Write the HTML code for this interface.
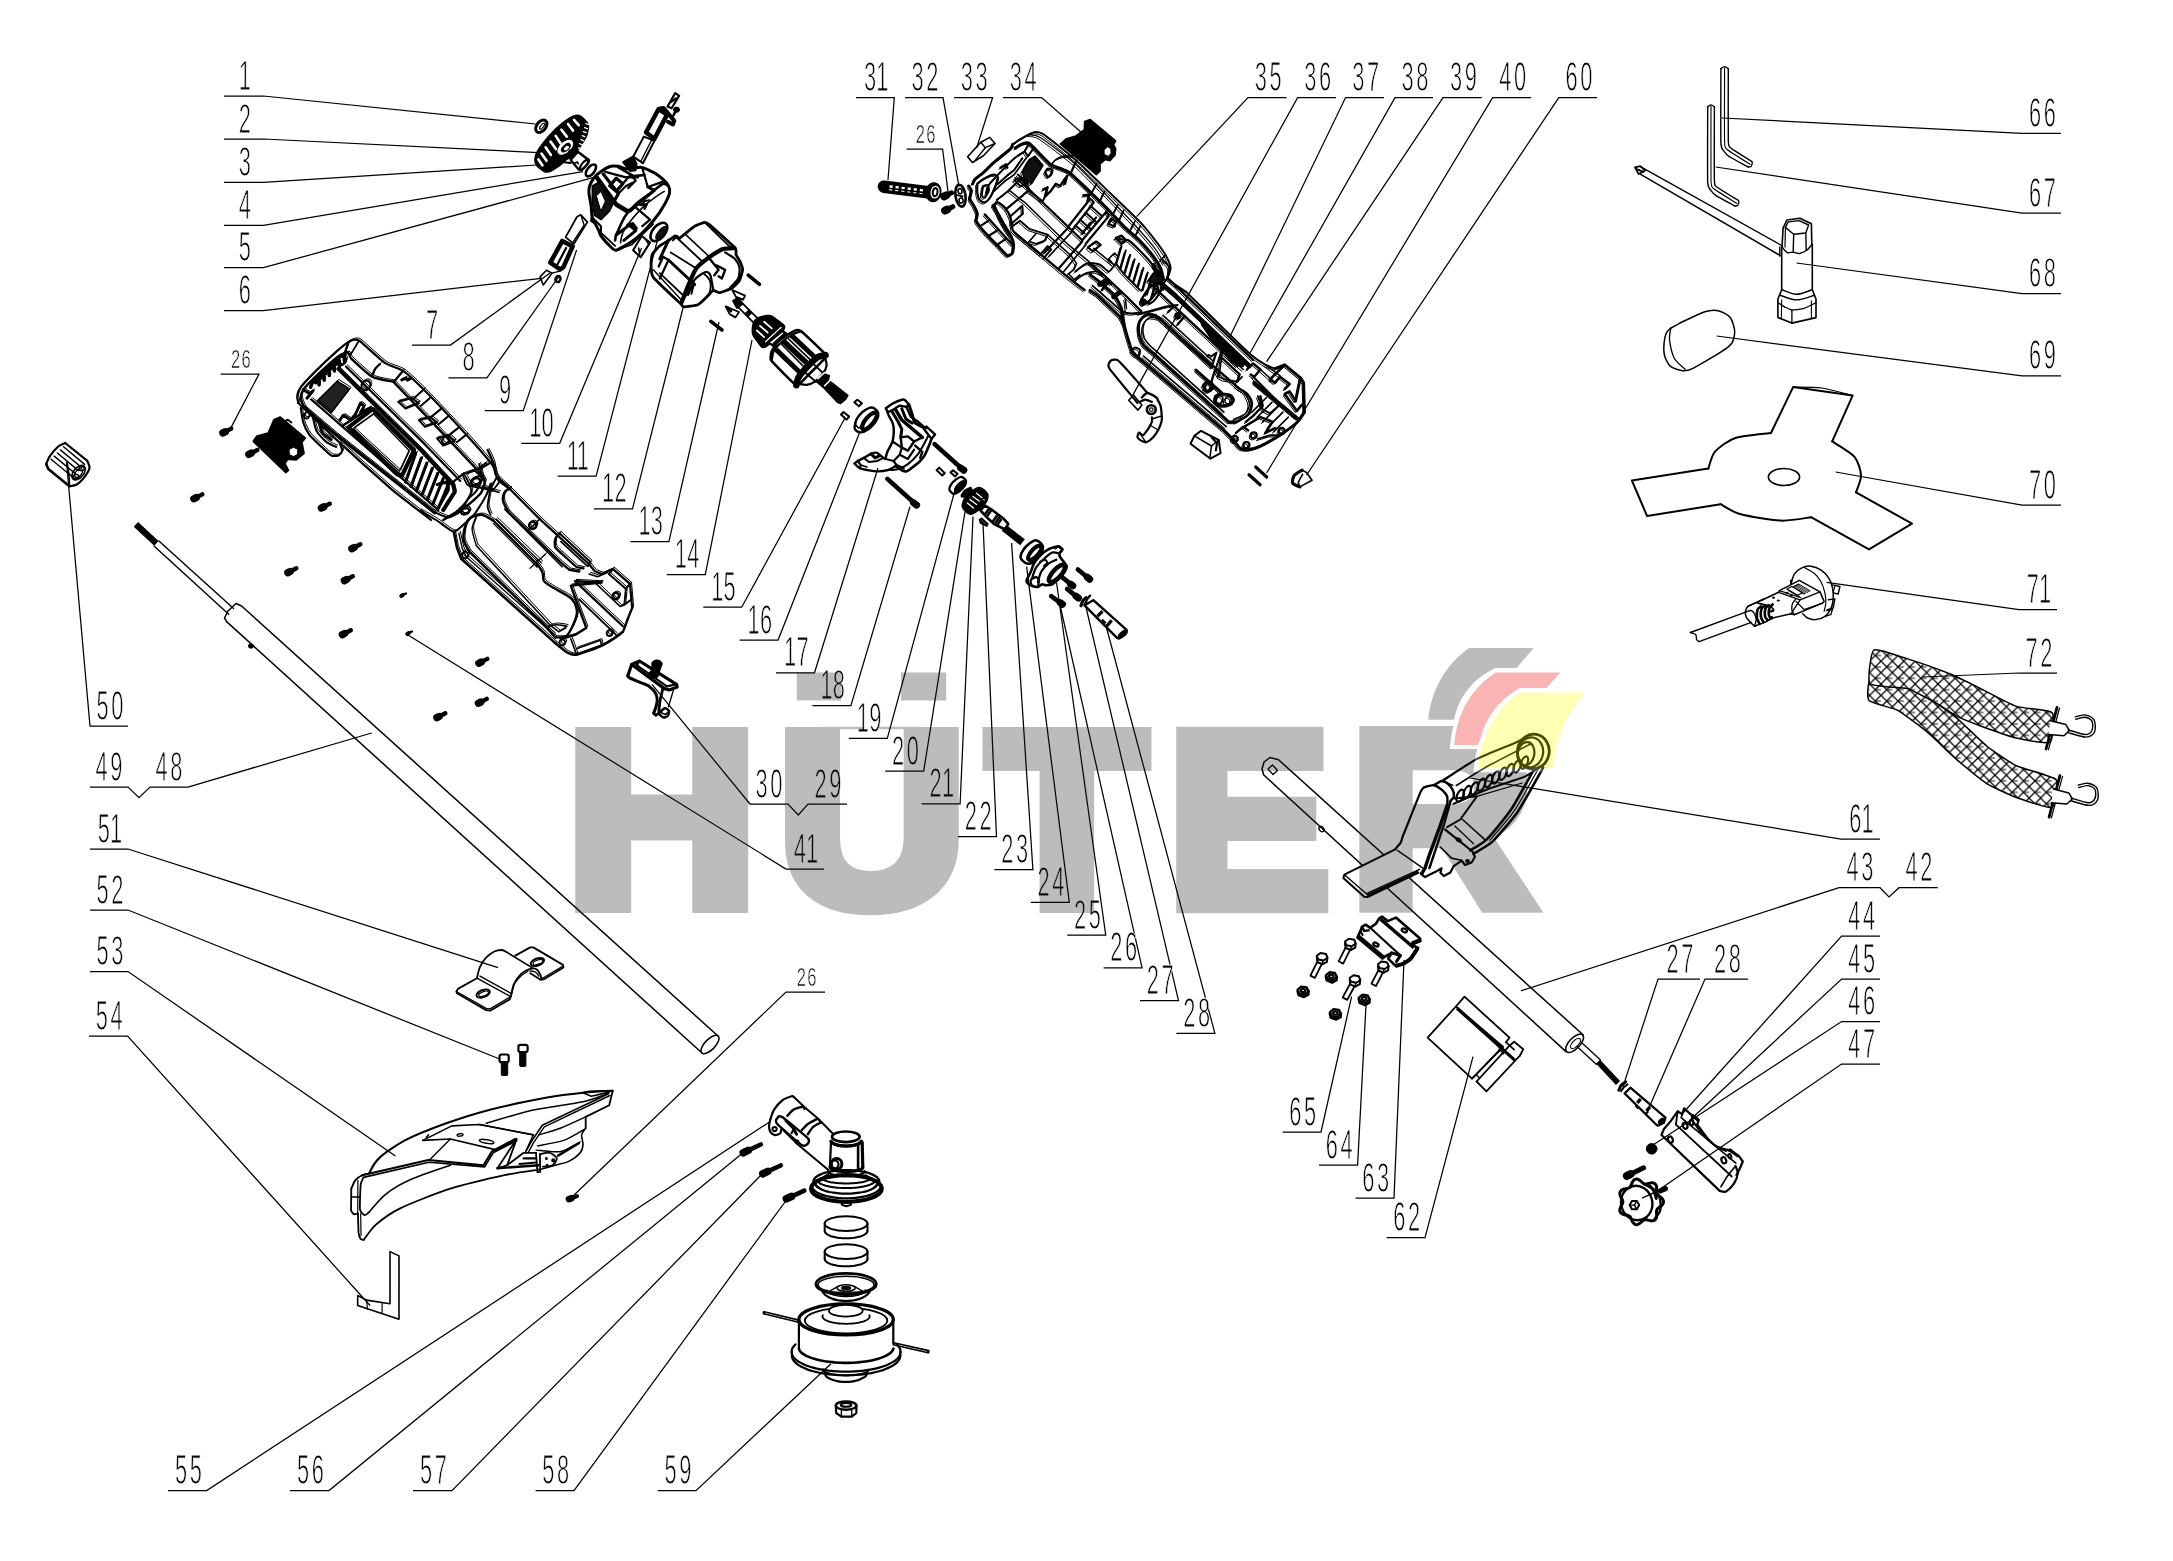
<!DOCTYPE html>
<html><head><meta charset="utf-8"><title>HUTER parts diagram</title>
<style>
html,body{margin:0;padding:0;background:#fff}
body{width:2173px;height:1561px;overflow:hidden}
svg{display:block}
</style></head><body>
<svg width="2173" height="1561" viewBox="0 0 2173 1561">
<rect width="2173" height="1561" fill="#fff"/>
<g id="parts" fill="none" stroke="#000" stroke-width="1.2" stroke-linejoin="round" stroke-linecap="round">
<!-- p_ashaft.svg -->
<path d="M135.9,524.3 L156.4,543.3" stroke-width="6.4" stroke-linecap="butt"/>
<path d="M154.0,545.9 L228.7,614.2" stroke-width="1.4"/>
<path d="M158.9,540.9 L233.6,608.6" stroke-width="1.4"/>
<path d="M718.0,1036.0 L241.6,606.0 L236.0,603.5 L228.0,611.0 L224.5,618.0 L226.6,621.6 L702.0,1053.0" stroke-width="1.5"/>
<ellipse cx="710.0" cy="1044.5" rx="11.8" ry="5.2" transform="rotate(-46 710.0 1044.5)" stroke-width="1.5"/>
<ellipse cx="251.0" cy="646.0" rx="2.6" ry="2.2" transform="rotate(0 251.0 646.0)" stroke-width="1" fill="#000"/>
<path d="M1583.3,1035.0 L1278.6,759.8 L1270.0,757.5 L1264.0,762.0 L1262.0,769.0 L1263.6,774.8 L1566.0,1051.6" stroke-width="1.5"/>
<ellipse cx="1574.6" cy="1043.3" rx="11.6" ry="5.4" transform="rotate(-46 1574.6 1043.3)" stroke-width="1.5"/>
<ellipse cx="1575.5" cy="1043.5" rx="6.5" ry="3.0" transform="rotate(-46 1575.5 1043.5)" stroke-width="1.2"/>
<path d="M1268.0,769.0 L1272.5,765.0 L1277.5,770.5 L1273.0,774.5Z" stroke-width="1.3"/>
<ellipse cx="1321.5" cy="829.0" rx="2.2" ry="3.0" transform="rotate(-40 1321.5 829.0)" stroke-width="1.3"/>
<path d="M1577.0,1046.5 L1596.5,1064.5" stroke-width="1.3"/>
<path d="M1581.0,1042.0 L1600.5,1060.0" stroke-width="1.3"/>
<path d="M1598.0,1061.6 L1618.0,1083.0" stroke-width="5.6" stroke-linecap="butt"/>
<path d="M225.1,431.8 L231.3,428.6" stroke-width="4.4" stroke-linecap="round"/><path d="M222.9,432.9 L225.1,431.8" stroke-width="7.4" stroke-linecap="round"/>
<path d="M251.1,453.2 L257.3,450.0" stroke-width="4.4" stroke-linecap="round"/><path d="M248.9,454.3 L251.1,453.2" stroke-width="7.4" stroke-linecap="round"/>
<path d="M196.1,497.6 L202.3,494.4" stroke-width="4.4" stroke-linecap="round"/><path d="M193.9,498.7 L196.1,497.6" stroke-width="7.4" stroke-linecap="round"/>
<path d="M323.6,506.9 L329.8,503.7" stroke-width="4.4" stroke-linecap="round"/><path d="M321.4,508.0 L323.6,506.9" stroke-width="7.4" stroke-linecap="round"/>
<path d="M354.1,547.5 L360.3,544.3" stroke-width="4.4" stroke-linecap="round"/><path d="M351.9,548.6 L354.1,547.5" stroke-width="7.4" stroke-linecap="round"/>
<path d="M290.1,571.5 L296.3,568.3" stroke-width="4.4" stroke-linecap="round"/><path d="M287.9,572.6 L290.1,571.5" stroke-width="7.4" stroke-linecap="round"/>
<path d="M346.6,579.5 L352.8,576.3" stroke-width="4.4" stroke-linecap="round"/><path d="M344.4,580.6 L346.6,579.5" stroke-width="7.4" stroke-linecap="round"/>
<path d="M344.6,633.5 L350.8,630.3" stroke-width="4.4" stroke-linecap="round"/><path d="M342.4,634.6 L344.6,633.5" stroke-width="7.4" stroke-linecap="round"/>
<path d="M481.1,662.1 L487.3,658.9" stroke-width="4.4" stroke-linecap="round"/><path d="M478.9,663.2 L481.1,662.1" stroke-width="7.4" stroke-linecap="round"/>
<path d="M480.6,702.1 L486.8,698.9" stroke-width="4.4" stroke-linecap="round"/><path d="M478.4,703.2 L480.6,702.1" stroke-width="7.4" stroke-linecap="round"/>
<path d="M439.1,716.5 L445.3,713.3" stroke-width="4.4" stroke-linecap="round"/><path d="M436.9,717.6 L439.1,716.5" stroke-width="7.4" stroke-linecap="round"/>
<path d="M402.5,595.2 L405.9,593.5" stroke-width="2.4200000000000004" stroke-linecap="round"/><path d="M401.3,595.9 L402.5,595.2" stroke-width="4.07" stroke-linecap="round"/>
<path d="M408.5,633.2 L411.9,631.5" stroke-width="2.4200000000000004" stroke-linecap="round"/><path d="M407.3,633.9 L408.5,633.2" stroke-width="4.07" stroke-linecap="round"/>
<path d="M571.2,1198.3 L577.1,1196.2" stroke-width="3.9600000000000004" stroke-linecap="round"/><path d="M569.0,1199.1 L571.2,1198.3" stroke-width="6.66" stroke-linecap="round"/>
<path d="M46.2,464.1 C46.6,463.2 48.3,458.4 49.7,456.4 C51.1,454.3 56.4,448.1 58.2,446.5 C60.0,444.9 64.4,443.4 65.2,443.0" stroke-width="2.2"/>
<path d="M65.2,443.0 L87.1,460.6" stroke-width="2.2"/>
<path d="M87.1,460.6 C87.4,461.5 89.7,465.6 89.5,467.6 C89.2,469.7 86.9,473.8 85.2,476.1 C83.5,478.3 78.9,483.2 76.8,484.5 C74.7,485.9 70.4,486.0 69.5,486.2" stroke-width="2.2"/>
<path d="M69.5,486.2 L48.3,469.0 L46.2,464.1" stroke-width="2.6"/>
<path d="M51.1,459.2 L72.3,476.8" stroke-width="1.4"/>
<path d="M54.2,456.1 L75.4,473.7" stroke-width="1.4"/>
<path d="M57.3,453.0 L78.5,470.6" stroke-width="1.4"/>
<path d="M60.4,449.9 L81.6,467.5" stroke-width="1.4"/>
<path d="M63.5,446.8 L84.7,464.4" stroke-width="1.4"/>
<path d="M66.9,462.0 C67.2,463.5 68.4,470.0 68.8,473.3 C69.1,476.5 69.4,484.5 69.5,486.2" stroke-width="1.6"/>
<ellipse cx="78.6" cy="472.6" rx="8.5" ry="5.0" transform="rotate(-50 78.6 472.6)" stroke-width="1.6"/>
<ellipse cx="78.6" cy="473.1" rx="5.0" ry="3.0" transform="rotate(-50 78.6 473.1)" stroke-width="1.4"/>
<ellipse cx="76.1" cy="476.6" rx="2.6" ry="2.2" transform="rotate(0 76.1 476.6)" stroke-width="1.3"/>
<ellipse cx="81.6" cy="468.6" rx="2.6" ry="2.2" transform="rotate(0 81.6 468.6)" stroke-width="1.3"/>
<path d="M253.3,440.9 L256.9,435.9 L268.1,433.1 L273.8,419.7 L280.1,416.9 L305.5,438.0 L302.0,442.3 L304.1,453.5 L296.3,459.9 L287.9,459.2 L285.0,463.4 L288.6,470.5 L285.8,472.6 L254.0,442.3Z" stroke-width="1.5" fill="#000"/>
<path d="M289.3,449.3 L293.5,447.2 L297.7,449.3 L297.7,454.3 L293.5,456.6 L289.6,454.7Z" stroke-width="1" fill="#fff"/>
<path d="M285.0,421.1 L287.9,419.7 L291.4,422.5" stroke-width="2"/>
<path d="M627.8,675.8 L631.7,664.5 L639.5,661.0 L676.5,684.3 L677.2,687.1 L669.4,690.0 L663.1,688.1" stroke-width="3.2"/>
<path d="M631.7,664.5 L663.4,687.9" stroke-width="3.2"/>
<path d="M636.6,665.2 L639.5,661.0" stroke-width="2.4"/>
<path d="M636.6,665.2 L666.9,686.4 L676.5,684.3" stroke-width="2.2"/>
<path d="M627.8,675.8 C628.0,676.1 628.2,677.2 629.6,677.9 C631.0,678.7 637.2,681.2 639.5,682.1 C641.8,683.1 647.4,685.1 649.3,686.4 C651.2,687.7 654.8,691.8 655.7,693.4 C656.6,695.1 657.2,698.8 657.2,700.5 C657.2,702.1 656.2,706.0 655.8,707.5 C655.4,709.0 653.9,712.5 653.7,713.2" stroke-width="3.0"/>
<path d="M653.7,713.2 L655.8,715.4 L658.6,713.3 L660.0,700.5 L662.9,688.5" stroke-width="2.8"/>
<path d="M658.6,713.3 C659.3,712.8 663.8,708.4 664.8,708.2 C665.9,708.0 668.8,710.3 669.1,711.0 C669.4,711.8 668.4,715.3 667.8,716.0 C667.2,716.6 664.2,717.7 663.4,717.5 C662.6,717.4 660.3,715.0 659.9,714.7" stroke-width="2.4"/>
<path d="M673.3,690.6 L668.4,706.8" stroke-width="1.4"/>
<path d="M660.6,712.5 L665.5,714.6 L668.4,711.7" stroke-width="1.6"/>
<path d="M652.1,663.1 C652.5,662.2 654.9,660.5 655.7,660.3 C656.4,660.1 659.3,660.7 659.9,661.0 C660.5,661.4 662.0,663.0 662.0,663.8 C662.0,664.7 660.3,668.2 659.9,669.5 C659.5,670.7 658.6,675.7 657.8,676.5 C657.0,677.4 653.0,678.2 652.1,677.9 C651.3,677.6 649.3,674.5 649.3,673.7 C649.3,672.8 651.9,670.5 652.1,669.5 C652.4,668.4 651.8,664.0 652.1,663.1Z" stroke-width="1.5" fill="#000"/>

<!-- p_bottom.svg -->
<path d="M369.0,1173.5 C370.3,1171.5 373.9,1162.8 378.7,1158.4 C383.4,1153.9 396.1,1145.0 404.9,1140.4 C413.7,1135.8 433.3,1128.0 444.9,1123.8 C456.5,1119.7 478.2,1112.8 491.9,1109.3 C505.5,1105.8 534.9,1099.8 547.1,1097.6 C559.2,1095.4 574.2,1093.7 583.0,1092.8 C591.7,1091.9 608.7,1091.0 612.7,1090.7" stroke-width="2.0"/>
<path d="M583.0,1092.8 L588.5,1091.4 L612.7,1090.7 L609.2,1105.2 L585.7,1116.9 L585.7,1128.0" stroke-width="1.8"/>
<path d="M585.7,1128.0 C585.2,1128.9 582.0,1132.7 581.6,1134.9 C581.2,1137.1 583.2,1142.2 583.0,1144.6 C582.8,1146.9 582.1,1150.6 580.2,1152.8 C578.4,1155.0 572.5,1159.5 569.2,1161.1 C565.9,1162.8 559.2,1164.2 555.4,1165.3 C551.5,1166.4 542.2,1168.8 540.2,1169.4" stroke-width="1.6"/>
<path d="M486.3,1123.2 C492.6,1121.4 520.4,1112.9 533.3,1110.0 C546.2,1107.2 573.0,1104.0 583.0,1101.8 C592.9,1099.5 604.5,1094.6 607.8,1093.5" stroke-width="1.6"/>
<path d="M583.0,1092.8 L591.3,1096.2 L609.2,1092.1" stroke-width="1.6"/>
<path d="M608.5,1093.7 L542.3,1125.2 L531.2,1141.8 L525.7,1151.5" stroke-width="1.6"/>
<path d="M609.9,1095.5 L544.3,1126.9 L533.3,1143.2 L528.5,1152.1" stroke-width="1.4"/>
<path d="M585.7,1116.9 C582.4,1118.4 567.2,1125.6 560.9,1128.0 C554.6,1130.4 541.7,1134.0 538.8,1134.9" stroke-width="1.4"/>
<path d="M584.4,1129.4 C581.6,1130.8 569.9,1138.2 563.7,1140.4 C557.4,1142.6 540.9,1145.2 537.4,1145.9" stroke-width="1.4"/>
<path d="M580.2,1141.8 C577.6,1143.1 566.8,1150.4 560.9,1151.5 C555.0,1152.6 539.4,1150.3 536.0,1150.1" stroke-width="1.4"/>
<path d="M578.8,1143.2 L558.1,1155.6" stroke-width="2.4" stroke-linecap="round"/>
<path d="M362.1,1175.2 L428.4,1160.0 L483.6,1165.3 L491.9,1151.5 L515.3,1139.0" stroke-width="2.2"/>
<path d="M363.5,1177.4 L429.0,1162.2 L484.7,1166.9 L493.2,1152.8 L516.7,1140.7" stroke-width="1.6"/>
<path d="M422.8,1140.4 L451.8,1125.9 L479.4,1124.5 L533.3,1134.9" stroke-width="1.6"/>
<path d="M422.8,1140.4 L450.4,1139.0 L497.4,1150.1 L516.0,1139.0" stroke-width="1.6"/>
<path d="M450.4,1139.0 L429.7,1159.7" stroke-width="1.4"/>
<path d="M428.4,1134.9 L426.3,1137.6" stroke-width="1.6"/>
<path d="M479.4,1124.5 L533.3,1134.9 L526.4,1150.1" stroke-width="1.4"/>
<ellipse cx="460.1" cy="1134.9" rx="3.0" ry="1.2" transform="rotate(-8 460.1 1134.9)" stroke-width="1.4"/>
<ellipse cx="486.6" cy="1141.5" rx="7.2" ry="1.8" transform="rotate(10 486.6 1141.5)" stroke-width="1.6"/>
<path d="M497.4,1168.3 L516.7,1139.0 L507.1,1165.3 L497.4,1168.3" stroke-width="1.8"/>
<path d="M497.4,1168.3 L538.8,1165.3" stroke-width="2.4"/>
<path d="M507.1,1165.3 L523.6,1152.8 L536.0,1152.8" stroke-width="1.8"/>
<path d="M536.0,1152.8 L537.4,1172.2 L540.2,1171.9 L539.9,1154.2" stroke-width="1.8"/>
<path d="M539.9,1154.2 C541.2,1154.0 547.6,1152.3 549.8,1152.8 C552.1,1153.4 556.4,1156.7 556.8,1158.4 C557.1,1160.0 554.5,1164.2 552.6,1165.3 C550.8,1166.4 544.2,1166.5 542.9,1166.6" stroke-width="1.8"/>
<ellipse cx="553.3" cy="1160.4" rx="1.1" ry="1.1" transform="rotate(0 553.3 1160.4)" stroke-width="2" fill="#000"/>
<ellipse cx="546.4" cy="1158.4" rx="0.7" ry="0.7" transform="rotate(0 546.4 1158.4)" stroke-width="1.6" fill="#000"/>
<ellipse cx="547.1" cy="1165.3" rx="0.7" ry="0.7" transform="rotate(0 547.1 1165.3)" stroke-width="1.6" fill="#000"/>
<path d="M523.6,1158.4 L536.0,1158.4" stroke-width="2.2"/>
<path d="M519.5,1163.9 L536.0,1162.5" stroke-width="2.0"/>
<path d="M369.0,1173.5 C368.1,1173.8 363.9,1174.3 362.1,1175.2 C360.2,1176.1 356.6,1178.6 355.2,1180.4 C353.8,1182.3 351.8,1187.6 351.3,1188.7" stroke-width="1.8"/>
<path d="M351.3,1188.7 L351.0,1210.8 L353.8,1214.4 L357.9,1213.6" stroke-width="1.8"/>
<path d="M363.5,1177.4 C363.2,1178.1 361.1,1181.4 360.7,1184.6 C360.4,1187.8 359.6,1206.4 360.0,1209.4 C360.4,1212.5 364.0,1215.0 364.9,1215.2 C365.7,1215.5 368.6,1212.5 369.0,1212.2" stroke-width="1.8"/>
<path d="M351.3,1197.0 L360.0,1197.0" stroke-width="1.4"/>
<path d="M357.9,1180.4 L357.7,1213.6" stroke-width="1.2"/>
<path d="M357.9,1213.6 C358.0,1215.5 358.4,1230.4 358.6,1232.9 C358.9,1235.5 360.2,1238.4 360.7,1239.1 C361.2,1239.8 363.4,1239.7 363.7,1239.8" stroke-width="1.8"/>
<path d="M360.7,1213.6 L361.0,1235.7" stroke-width="1.2"/>
<path d="M369.0,1212.2 C371.2,1209.8 379.9,1198.7 385.6,1194.3 C391.3,1189.8 403.1,1182.9 411.8,1179.1 C420.4,1175.2 445.3,1167.1 450.4,1165.3" stroke-width="1.6"/>
<path d="M363.7,1239.8 C365.4,1237.8 371.0,1228.9 375.9,1224.6 C380.8,1220.4 390.8,1212.8 400.7,1208.1 C410.7,1203.3 436.5,1193.1 450.4,1188.7 C464.4,1184.3 493.7,1177.5 505.7,1174.9 C517.6,1172.3 535.6,1170.1 540.2,1169.4" stroke-width="1.8"/>
<path d="M369.0,1173.5 C369.5,1172.4 371.7,1167.4 373.1,1165.3 C374.6,1163.1 379.1,1158.7 380.0,1157.7" stroke-width="1.4"/>
<path d="M476.9,978.2 L457.9,988.9 L456.4,991.5 L456.9,993.3 L486.1,1010.2 L490.2,1010.7 L509.7,999.4 L510.7,996.6" stroke-width="1.8"/>
<path d="M456.4,991.5 L486.1,1008.4 L490.2,1008.9 L510.7,996.6" stroke-width="1.4"/>
<path d="M476.9,978.2 C477.3,976.7 478.7,969.6 480.0,966.9 C481.2,964.2 484.2,959.7 486.1,957.7 C488.0,955.6 492.3,952.6 494.3,951.5 C496.4,950.5 500.0,950.0 501.5,950.0 C503.0,950.0 505.1,951.3 505.6,951.5" stroke-width="1.8"/>
<path d="M505.6,951.5 L532.8,968.1" stroke-width="1.6"/>
<path d="M510.7,996.6 C511.1,995.0 512.6,987.2 513.8,984.3 C515.0,981.5 518.2,977.0 520.0,975.1 C521.7,973.2 525.3,970.9 527.1,970.0 C528.9,969.1 531.9,968.4 533.3,968.4 C534.6,968.4 536.4,969.1 537.4,970.0 C538.3,970.9 539.9,973.9 540.5,975.1 C541.0,976.3 541.3,978.7 541.5,979.2" stroke-width="1.8"/>
<path d="M511.8,993.6 C512.2,992.2 513.6,985.6 514.8,983.3 C516.1,981.0 519.2,977.8 521.0,976.1 C522.8,974.5 527.2,971.7 528.2,971.0" stroke-width="1.2"/>
<path d="M530.2,971.0 C530.9,971.1 534.2,971.3 535.3,972.0 C536.5,972.7 538.4,975.6 538.9,976.1" stroke-width="1.4"/>
<path d="M515.3,955.6 L530.2,947.4 L533.3,947.4 L563.0,964.9 L563.5,967.4 L543.5,979.4 L541.0,979.9 L530.2,973.3" stroke-width="1.8"/>
<path d="M563.0,966.1 L543.0,978.0 L541.0,978.2" stroke-width="1.3"/>
<path d="M480.0,976.1 L511.8,993.8" stroke-width="1.4"/>
<path d="M476.9,978.2 L510.7,996.6" stroke-width="1.4"/>
<ellipse cx="483.1" cy="993.6" rx="7.0" ry="3.5" transform="rotate(-20 483.1 993.6)" stroke-width="2"/>
<ellipse cx="483.6" cy="993.8" rx="5.1" ry="2.1" transform="rotate(-20 483.6 993.8)" stroke-width="1.2"/>
<ellipse cx="537.4" cy="962.0" rx="7.0" ry="3.5" transform="rotate(-20 537.4 962.0)" stroke-width="2"/>
<ellipse cx="537.9" cy="962.2" rx="5.1" ry="2.1" transform="rotate(-20 537.9 962.2)" stroke-width="1.2"/>
<rect x="499.5" y="1054.5" width="9.2" height="7.7" rx="2" stroke-width="2.2"/>
<rect x="501.3" y="1062.2" width="6.4" height="13.3" rx="1" fill="#000" stroke-width="1"/>
<rect x="518.4" y="1044.8" width="9.2" height="7.2" rx="2" stroke-width="2.2"/>
<rect x="519.7" y="1052.0" width="6.2" height="14.4" rx="1" fill="#000" stroke-width="1"/>
<path d="M390.0,1251.6 L399.0,1255.9 L399.0,1319.2 L357.7,1305.5 L357.7,1295.5 L366.6,1300.1 L390.0,1303.7Z" stroke-width="1.6"/>
<path d="M366.6,1300.1 L367.4,1309.1" stroke-width="1.2"/>
<path d="M382.1,1302.7 L382.1,1313.4" stroke-width="1.2"/>
<path d="M770.5,1118.8 C771.0,1117.6 772.5,1112.1 774.1,1109.6 C775.7,1107.1 780.0,1102.2 782.3,1100.4 C784.6,1098.6 790.0,1096.8 791.5,1096.3 C793.0,1095.8 793.3,1096.7 793.6,1096.8" stroke-width="2.2"/>
<path d="M793.6,1096.8 L803.8,1106.5 L818.2,1118.8 L832.5,1133.2" stroke-width="2.0"/>
<path d="M770.5,1118.8 C770.3,1119.8 769.0,1124.2 769.0,1126.0 C769.0,1127.8 769.7,1130.9 770.5,1132.2 C771.3,1133.4 773.8,1135.1 775.1,1135.2 C776.4,1135.4 779.4,1134.0 780.2,1133.2 C781.1,1132.4 781.1,1129.6 781.3,1129.1" stroke-width="2.2"/>
<path d="M783.3,1130.1 L796.6,1143.4 L828.4,1170.1" stroke-width="2.0"/>
<path d="M787.4,1115.8 C788.2,1114.9 791.4,1110.8 793.6,1109.6 C795.7,1108.4 802.0,1106.9 803.3,1106.5" stroke-width="2.4"/>
<path d="M801.8,1130.1 C802.6,1129.3 805.8,1125.5 807.9,1124.0 C810.0,1122.5 816.3,1119.5 817.6,1118.8" stroke-width="2.4"/>
<path d="M807.9,1134.2 C808.6,1133.2 811.3,1128.6 813.0,1127.0 C814.8,1125.5 820.1,1123.0 821.2,1122.4" stroke-width="2.4"/>
<path d="M803.3,1106.5 L804.3,1109.1" stroke-width="2"/>
<path d="M817.6,1118.8 L821.2,1122.4" stroke-width="2"/>
<path d="M776.1,1119.9 C776.3,1119.2 778.6,1116.4 779.2,1116.3 C779.8,1116.1 780.9,1116.0 783.3,1117.8 C785.7,1119.6 805.8,1136.2 807.9,1138.3 C810.0,1140.4 808.6,1142.3 808.4,1142.9 C808.2,1143.5 806.0,1145.4 805.3,1145.5 C804.7,1145.6 803.1,1146.3 800.7,1144.5 C798.4,1142.7 779.2,1126.0 777.2,1124.0 C775.1,1121.9 776.0,1120.5 776.1,1119.9Z" stroke-width="2.4"/>
<path d="M785.4,1120.9 L793.6,1129.1 L791.5,1133.2" stroke-width="2"/>
<path d="M793.6,1129.1 L796.6,1134.2" stroke-width="3"/>
<ellipse cx="774.6" cy="1129.1" rx="2.1" ry="2.1" transform="rotate(0 774.6 1129.1)" stroke-width="2"/>
<ellipse cx="797.1" cy="1141.9" rx="1.6" ry="1.6" transform="rotate(0 797.1 1141.9)" stroke-width="1.6"/>
<ellipse cx="845.8" cy="1136.8" rx="13.8" ry="5.3" transform="rotate(0 845.8 1136.8)" stroke-width="2.6"/>
<path d="M861.3,1141.3 C861.2,1141.4 861.0,1141.8 860.9,1142.0 C860.7,1142.2 860.5,1142.4 860.3,1142.6 C860.0,1142.8 859.8,1143.0 859.5,1143.2 C859.2,1143.4 858.8,1143.5 858.5,1143.7 C858.1,1143.9 857.7,1144.1 857.3,1144.2 C856.9,1144.4 856.5,1144.5 856.0,1144.7 C855.6,1144.8 855.1,1144.9 854.6,1145.1 C854.1,1145.2 853.6,1145.3 853.0,1145.4 C852.5,1145.5 852.0,1145.6 851.4,1145.7 C850.8,1145.7 850.3,1145.8 849.7,1145.8 C849.1,1145.9 848.5,1145.9 847.9,1146.0 C847.3,1146.0 846.7,1146.0 846.1,1146.0 C845.6,1146.0 845.0,1146.0 844.4,1146.0 C843.8,1145.9 843.2,1145.9 842.6,1145.8 C842.0,1145.8 841.4,1145.7 840.9,1145.7 C840.3,1145.6 839.8,1145.5 839.2,1145.4 C838.7,1145.3 838.2,1145.2 837.7,1145.1 C837.2,1144.9 836.7,1144.8 836.3,1144.7 C835.8,1144.5 835.4,1144.4 835.0,1144.2 C834.6,1144.1 834.2,1143.9 833.8,1143.7 C833.5,1143.5 833.1,1143.4 832.8,1143.2 C832.5,1143.0 832.3,1142.8 832.0,1142.6 C831.8,1142.4 831.6,1142.2 831.4,1142.0 C831.2,1141.8 831.1,1141.4 831.0,1141.3" stroke-width="3.4"/>
<path d="M831.0,1142.4 L829.9,1167.0" stroke-width="2.2"/>
<path d="M862.2,1142.4 L862.8,1168.0" stroke-width="3.2"/>
<path d="M858.1,1145.5 L858.1,1169.1" stroke-width="2.6"/>
<path d="M862.8,1167.0 C862.7,1167.1 862.7,1167.4 862.6,1167.6 C862.5,1167.8 862.4,1168.0 862.2,1168.2 C862.0,1168.4 861.8,1168.6 861.5,1168.8 C861.2,1169.0 860.9,1169.1 860.6,1169.3 C860.2,1169.5 859.8,1169.7 859.4,1169.8 C858.9,1170.0 858.5,1170.1 857.9,1170.3 C857.4,1170.4 856.9,1170.5 856.3,1170.7 C855.8,1170.8 855.2,1170.9 854.6,1171.0 C853.9,1171.1 853.3,1171.2 852.6,1171.3 C852.0,1171.3 851.3,1171.4 850.6,1171.5 C849.9,1171.5 849.2,1171.6 848.5,1171.6 C847.8,1171.6 847.1,1171.6 846.4,1171.6 C845.6,1171.6 844.9,1171.6 844.2,1171.6 C843.5,1171.6 842.8,1171.5 842.1,1171.5 C841.4,1171.4 840.7,1171.3 840.1,1171.3 C839.4,1171.2 838.8,1171.1 838.1,1171.0 C837.5,1170.9 836.9,1170.8 836.4,1170.7 C835.8,1170.5 835.3,1170.4 834.8,1170.3 C834.2,1170.1 833.8,1170.0 833.3,1169.8 C832.9,1169.7 832.5,1169.5 832.1,1169.3 C831.8,1169.1 831.5,1169.0 831.2,1168.8 C830.9,1168.6 830.7,1168.4 830.5,1168.2 C830.3,1168.0 830.2,1167.8 830.1,1167.6 C830.0,1167.4 830.0,1167.1 829.9,1167.0" stroke-width="3"/>
<path d="M864.8,1171.1 C864.8,1171.2 864.7,1171.6 864.6,1171.8 C864.5,1172.0 864.4,1172.2 864.2,1172.4 C864.0,1172.7 863.7,1172.9 863.4,1173.1 C863.1,1173.3 862.7,1173.5 862.3,1173.7 C861.9,1173.9 861.5,1174.1 861.0,1174.2 C860.5,1174.4 860.0,1174.6 859.4,1174.7 C858.8,1174.9 858.2,1175.0 857.6,1175.2 C856.9,1175.3 856.3,1175.4 855.6,1175.5 C854.9,1175.7 854.2,1175.8 853.4,1175.8 C852.7,1175.9 851.9,1176.0 851.1,1176.1 C850.4,1176.1 849.6,1176.2 848.8,1176.2 C848.0,1176.2 847.2,1176.2 846.4,1176.2 C845.5,1176.2 844.7,1176.2 843.9,1176.2 C843.1,1176.2 842.4,1176.1 841.6,1176.1 C840.8,1176.0 840.0,1175.9 839.3,1175.8 C838.5,1175.8 837.8,1175.7 837.1,1175.5 C836.4,1175.4 835.8,1175.3 835.1,1175.2 C834.5,1175.0 833.9,1174.9 833.3,1174.7 C832.7,1174.6 832.2,1174.4 831.7,1174.2 C831.2,1174.1 830.8,1173.9 830.4,1173.7 C830.0,1173.5 829.6,1173.3 829.3,1173.1 C829.0,1172.9 828.7,1172.7 828.5,1172.4 C828.3,1172.2 828.2,1172.0 828.1,1171.8 C828.0,1171.6 827.9,1171.2 827.9,1171.1" stroke-width="2"/>
<ellipse cx="836.6" cy="1163.9" rx="5.3" ry="5.3" transform="rotate(0 836.6 1163.9)" stroke-width="3" fill="#fff"/>
<ellipse cx="834.8" cy="1164.4" rx="3.7" ry="3.9" transform="rotate(0 834.8 1164.4)" stroke-width="2.2"/>
<ellipse cx="846.4" cy="1188.5" rx="35.4" ry="13.3" transform="rotate(0 846.4 1188.5)" stroke-width="4.2" fill="none"/>
<path d="M817.9,1187.0 C817.5,1186.7 816.2,1185.8 815.5,1185.2 C814.9,1184.6 814.4,1184.0 814.0,1183.3 C813.7,1182.7 813.5,1182.0 813.5,1181.4 C813.5,1180.7 813.7,1180.0 814.0,1179.4 C814.4,1178.8 814.9,1178.1 815.5,1177.5 C816.2,1176.9 817.0,1176.3 817.9,1175.7 C818.9,1175.2 820.0,1174.6 821.2,1174.1 C822.4,1173.6 823.8,1173.1 825.3,1172.7 C826.7,1172.3 828.3,1171.9 829.9,1171.6 C831.6,1171.3 833.3,1171.0 835.1,1170.8 C836.9,1170.5 838.8,1170.4 840.7,1170.3 C842.5,1170.1 844.5,1170.1 846.4,1170.1 C848.2,1170.1 850.2,1170.1 852.0,1170.3 C853.9,1170.4 855.8,1170.5 857.6,1170.8 C859.4,1171.0 861.1,1171.3 862.8,1171.6 C864.4,1171.9 866.0,1172.3 867.4,1172.7 C868.9,1173.1 870.3,1173.6 871.5,1174.1 C872.7,1174.6 873.8,1175.2 874.8,1175.7 C875.7,1176.3 876.5,1176.9 877.2,1177.5 C877.8,1178.1 878.3,1178.8 878.7,1179.4 C879.0,1180.0 879.2,1180.7 879.2,1181.4 C879.2,1182.0 879.0,1182.7 878.7,1183.3 C878.3,1184.0 877.8,1184.6 877.2,1185.2 C876.5,1185.8 875.2,1186.7 874.8,1187.0" stroke-width="2.4"/>
<path d="M876.6,1181.6 C876.7,1181.9 877.0,1182.6 877.1,1183.1 C877.1,1183.6 877.1,1184.1 876.9,1184.6 C876.7,1185.1 876.4,1185.6 876.1,1186.1 C875.7,1186.5 875.2,1187.0 874.6,1187.5 C874.0,1187.9 873.3,1188.4 872.5,1188.8 C871.7,1189.2 870.9,1189.6 869.9,1190.0 C869.0,1190.4 867.9,1190.7 866.8,1191.1 C865.7,1191.4 864.5,1191.7 863.2,1192.0 C862.0,1192.2 860.7,1192.5 859.3,1192.7 C858.0,1192.9 856.6,1193.1 855.2,1193.2 C853.7,1193.4 852.3,1193.5 850.8,1193.6 C849.3,1193.6 847.8,1193.7 846.4,1193.7 C844.9,1193.7 843.4,1193.6 841.9,1193.6 C840.4,1193.5 839.0,1193.4 837.5,1193.2 C836.1,1193.1 834.7,1192.9 833.4,1192.7 C832.0,1192.5 830.7,1192.2 829.5,1192.0 C828.2,1191.7 827.0,1191.4 825.9,1191.1 C824.8,1190.7 823.7,1190.4 822.8,1190.0 C821.8,1189.6 821.0,1189.2 820.2,1188.8 C819.4,1188.4 818.7,1187.9 818.1,1187.5 C817.5,1187.0 817.0,1186.5 816.6,1186.1 C816.3,1185.6 816.0,1185.1 815.8,1184.6 C815.6,1184.1 815.6,1183.6 815.6,1183.1 C815.7,1182.6 816.0,1181.9 816.1,1181.6" stroke-width="2.2"/>
<path d="M875.1,1180.3 C875.0,1180.5 875.0,1181.0 874.8,1181.3 C874.6,1181.7 874.4,1182.0 874.1,1182.3 C873.8,1182.6 873.3,1183.0 872.9,1183.3 C872.4,1183.6 871.8,1183.9 871.2,1184.2 C870.6,1184.5 869.9,1184.8 869.1,1185.0 C868.4,1185.3 867.5,1185.5 866.6,1185.8 C865.8,1186.0 864.8,1186.2 863.8,1186.4 C862.8,1186.6 861.8,1186.8 860.7,1187.0 C859.6,1187.2 858.5,1187.3 857.3,1187.4 C856.2,1187.6 855.0,1187.7 853.8,1187.8 C852.6,1187.8 851.3,1187.9 850.1,1188.0 C848.9,1188.0 847.6,1188.0 846.4,1188.0 C845.1,1188.0 843.8,1188.0 842.6,1188.0 C841.4,1187.9 840.1,1187.8 838.9,1187.8 C837.7,1187.7 836.5,1187.6 835.4,1187.4 C834.2,1187.3 833.1,1187.2 832.0,1187.0 C830.9,1186.8 829.9,1186.6 828.9,1186.4 C827.9,1186.2 826.9,1186.0 826.1,1185.8 C825.2,1185.5 824.3,1185.3 823.6,1185.0 C822.8,1184.8 822.1,1184.5 821.5,1184.2 C820.9,1183.9 820.3,1183.6 819.8,1183.3 C819.4,1183.0 818.9,1182.6 818.6,1182.3 C818.3,1182.0 818.1,1181.7 817.9,1181.3 C817.7,1181.0 817.7,1180.5 817.6,1180.3" stroke-width="2.0"/>
<path d="M871.6,1178.3 C871.5,1178.4 871.2,1178.8 870.9,1179.0 C870.6,1179.3 870.3,1179.5 869.9,1179.7 C869.5,1179.9 869.0,1180.1 868.5,1180.3 C868.0,1180.5 867.5,1180.7 866.9,1180.9 C866.3,1181.1 865.7,1181.3 865.0,1181.5 C864.3,1181.7 863.6,1181.8 862.8,1182.0 C862.1,1182.1 861.3,1182.3 860.4,1182.4 C859.6,1182.5 858.7,1182.7 857.9,1182.8 C857.0,1182.9 856.0,1183.0 855.1,1183.0 C854.2,1183.1 853.2,1183.2 852.3,1183.2 C851.3,1183.3 850.3,1183.3 849.3,1183.4 C848.3,1183.4 847.3,1183.4 846.4,1183.4 C845.4,1183.4 844.4,1183.4 843.4,1183.4 C842.4,1183.3 841.4,1183.3 840.4,1183.2 C839.5,1183.2 838.5,1183.1 837.6,1183.0 C836.7,1183.0 835.7,1182.9 834.8,1182.8 C834.0,1182.7 833.1,1182.5 832.3,1182.4 C831.4,1182.3 830.6,1182.1 829.9,1182.0 C829.1,1181.8 828.4,1181.7 827.7,1181.5 C827.0,1181.3 826.4,1181.1 825.8,1180.9 C825.2,1180.7 824.7,1180.5 824.2,1180.3 C823.7,1180.1 823.2,1179.9 822.8,1179.7 C822.4,1179.5 822.1,1179.3 821.8,1179.0 C821.5,1178.8 821.2,1178.4 821.1,1178.3" stroke-width="2.0"/>
<path d="M880.7,1186.0 C880.6,1186.2 880.6,1187.0 880.4,1187.6 C880.2,1188.1 879.9,1188.6 879.5,1189.2 C879.1,1189.7 878.6,1190.2 878.1,1190.7 C877.5,1191.2 876.8,1191.7 876.1,1192.1 C875.3,1192.6 874.5,1193.0 873.6,1193.5 C872.7,1193.9 871.7,1194.3 870.6,1194.7 C869.6,1195.1 868.4,1195.4 867.3,1195.7 C866.1,1196.1 864.8,1196.4 863.5,1196.6 C862.2,1196.9 860.9,1197.1 859.5,1197.3 C858.1,1197.5 856.7,1197.7 855.2,1197.9 C853.8,1198.0 852.3,1198.1 850.8,1198.2 C849.4,1198.2 847.8,1198.3 846.4,1198.3 C844.9,1198.3 843.3,1198.2 841.9,1198.2 C840.4,1198.1 838.9,1198.0 837.5,1197.9 C836.0,1197.7 834.6,1197.5 833.2,1197.3 C831.8,1197.1 830.5,1196.9 829.2,1196.6 C827.9,1196.4 826.6,1196.1 825.4,1195.7 C824.3,1195.4 823.1,1195.1 822.1,1194.7 C821.0,1194.3 820.0,1193.9 819.1,1193.5 C818.2,1193.0 817.4,1192.6 816.6,1192.1 C815.9,1191.7 815.2,1191.2 814.6,1190.7 C814.1,1190.2 813.6,1189.7 813.2,1189.2 C812.8,1188.6 812.5,1188.1 812.3,1187.6 C812.1,1187.0 812.1,1186.2 812.0,1186.0" stroke-width="2.2"/>
<path d="M818.2,1180.3 L828.4,1174.2" stroke-width="2"/>
<path d="M874.5,1180.3 L865.3,1175.2" stroke-width="2"/>
<path d="M841.7,1202.4 L841.9,1204.9 L846.4,1206.2 L850.8,1204.9 L851.0,1202.4" stroke-width="2"/>
<path d="M743.3,1152.7 L760.8,1144.5" stroke-width="4.6" stroke-linecap="round"/>
<path d="M743.3,1152.7 L748.2,1150.4" stroke-width="7.6" stroke-linecap="round"/>
<path d="M762.8,1173.7 L780.7,1165.5" stroke-width="4.6" stroke-linecap="round"/>
<path d="M762.8,1173.7 L767.8,1171.4" stroke-width="7.6" stroke-linecap="round"/>
<path d="M786.4,1198.8 L804.3,1190.6" stroke-width="4.6" stroke-linecap="round"/>
<path d="M786.4,1198.8 L791.4,1196.5" stroke-width="7.6" stroke-linecap="round"/>
<ellipse cx="846.1" cy="1223.6" rx="21.4" ry="7.4" transform="rotate(0 846.1 1223.6)" stroke-width="2"/>
<path d="M867.5,1231.0 C867.4,1231.1 867.4,1231.6 867.3,1231.9 C867.2,1232.2 867.0,1232.5 866.7,1232.9 C866.5,1233.2 866.2,1233.5 865.8,1233.8 C865.5,1234.1 865.1,1234.4 864.6,1234.6 C864.1,1234.9 863.6,1235.2 863.0,1235.4 C862.5,1235.7 861.9,1235.9 861.2,1236.2 C860.5,1236.4 859.8,1236.6 859.1,1236.8 C858.4,1237.0 857.6,1237.2 856.8,1237.3 C856.0,1237.5 855.1,1237.6 854.3,1237.8 C853.4,1237.9 852.5,1238.0 851.6,1238.1 C850.7,1238.2 849.8,1238.2 848.9,1238.3 C848.0,1238.3 847.0,1238.3 846.1,1238.3 C845.2,1238.3 844.2,1238.3 843.3,1238.3 C842.4,1238.2 841.5,1238.2 840.6,1238.1 C839.7,1238.0 838.8,1237.9 837.9,1237.8 C837.1,1237.6 836.2,1237.5 835.4,1237.3 C834.6,1237.2 833.8,1237.0 833.1,1236.8 C832.3,1236.6 831.6,1236.4 831.0,1236.2 C830.3,1235.9 829.7,1235.7 829.1,1235.4 C828.6,1235.2 828.1,1234.9 827.6,1234.6 C827.1,1234.4 826.7,1234.1 826.4,1233.8 C826.0,1233.5 825.7,1233.2 825.5,1232.9 C825.2,1232.5 825.0,1232.2 824.9,1231.9 C824.8,1231.6 824.8,1231.1 824.7,1231.0" stroke-width="2"/>
<path d="M824.7,1223.6 L824.7,1231.0" stroke-width="2"/>
<path d="M867.5,1223.6 L867.5,1231.0" stroke-width="2"/>
<ellipse cx="846.1" cy="1251.6" rx="21.4" ry="7.4" transform="rotate(0 846.1 1251.6)" stroke-width="2"/>
<path d="M867.5,1259.0 C867.4,1259.1 867.4,1259.6 867.3,1259.9 C867.2,1260.2 867.0,1260.6 866.7,1260.9 C866.5,1261.2 866.2,1261.5 865.8,1261.8 C865.5,1262.1 865.1,1262.4 864.6,1262.6 C864.1,1262.9 863.6,1263.2 863.0,1263.4 C862.5,1263.7 861.9,1263.9 861.2,1264.2 C860.5,1264.4 859.8,1264.6 859.1,1264.8 C858.4,1265.0 857.6,1265.2 856.8,1265.3 C856.0,1265.5 855.1,1265.6 854.3,1265.8 C853.4,1265.9 852.5,1266.0 851.6,1266.1 C850.7,1266.2 849.8,1266.2 848.9,1266.3 C848.0,1266.3 847.0,1266.3 846.1,1266.3 C845.2,1266.3 844.2,1266.3 843.3,1266.3 C842.4,1266.2 841.5,1266.2 840.6,1266.1 C839.7,1266.0 838.8,1265.9 837.9,1265.8 C837.1,1265.6 836.2,1265.5 835.4,1265.3 C834.6,1265.2 833.8,1265.0 833.1,1264.8 C832.3,1264.6 831.6,1264.4 831.0,1264.2 C830.3,1263.9 829.7,1263.7 829.1,1263.4 C828.6,1263.2 828.1,1262.9 827.6,1262.6 C827.1,1262.4 826.7,1262.1 826.4,1261.8 C826.0,1261.5 825.7,1261.2 825.5,1260.9 C825.2,1260.6 825.0,1260.2 824.9,1259.9 C824.8,1259.6 824.8,1259.1 824.7,1259.0" stroke-width="2"/>
<path d="M824.7,1251.6 L824.7,1259.0" stroke-width="2"/>
<path d="M867.5,1251.6 L867.5,1259.0" stroke-width="2"/>
<ellipse cx="846.1" cy="1284.0" rx="30.2" ry="10.6" transform="rotate(0 846.1 1284.0)" stroke-width="2.8"/>
<ellipse cx="846.1" cy="1284.7" rx="28.0" ry="8.5" transform="rotate(0 846.1 1284.7)" stroke-width="1.6"/>
<path d="M870.0,1290.6 C869.9,1290.8 869.7,1291.6 869.4,1292.0 C869.1,1292.5 868.8,1292.9 868.4,1293.4 C868.1,1293.8 867.6,1294.3 867.2,1294.7 C866.7,1295.1 866.2,1295.5 865.6,1295.9 C865.0,1296.3 864.4,1296.7 863.8,1297.0 C863.1,1297.4 862.4,1297.7 861.7,1298.0 C861.0,1298.3 860.2,1298.6 859.5,1298.9 C858.7,1299.2 857.8,1299.4 857.0,1299.6 C856.2,1299.8 855.3,1300.0 854.4,1300.2 C853.5,1300.4 852.6,1300.5 851.7,1300.6 C850.8,1300.7 849.9,1300.8 848.9,1300.9 C848.0,1300.9 847.0,1301.0 846.1,1301.0 C845.2,1301.0 844.2,1300.9 843.3,1300.9 C842.3,1300.8 841.4,1300.7 840.5,1300.6 C839.6,1300.5 838.7,1300.4 837.8,1300.2 C836.9,1300.0 836.0,1299.8 835.2,1299.6 C834.3,1299.4 833.5,1299.2 832.7,1298.9 C831.9,1298.6 831.2,1298.3 830.5,1298.0 C829.7,1297.7 829.1,1297.4 828.4,1297.0 C827.8,1296.7 827.1,1296.3 826.6,1295.9 C826.0,1295.5 825.5,1295.1 825.0,1294.7 C824.6,1294.3 824.1,1293.8 823.8,1293.4 C823.4,1292.9 823.1,1292.5 822.8,1292.0 C822.5,1291.6 822.3,1290.8 822.1,1290.6" stroke-width="2.2"/>
<path d="M865.3,1289.9 C865.2,1290.0 865.2,1290.5 865.1,1290.8 C865.0,1291.1 864.8,1291.3 864.6,1291.6 C864.4,1291.9 864.1,1292.2 863.8,1292.4 C863.5,1292.7 863.1,1293.0 862.7,1293.2 C862.3,1293.5 861.8,1293.7 861.3,1293.9 C860.8,1294.2 860.2,1294.4 859.6,1294.6 C859.1,1294.8 858.4,1295.0 857.8,1295.2 C857.1,1295.3 856.4,1295.5 855.7,1295.6 C855.0,1295.8 854.2,1295.9 853.4,1296.0 C852.7,1296.1 851.9,1296.2 851.1,1296.3 C850.2,1296.4 849.4,1296.4 848.6,1296.5 C847.8,1296.5 846.9,1296.5 846.1,1296.5 C845.3,1296.5 844.4,1296.5 843.6,1296.5 C842.8,1296.4 841.9,1296.4 841.1,1296.3 C840.3,1296.2 839.5,1296.1 838.8,1296.0 C838.0,1295.9 837.2,1295.8 836.5,1295.6 C835.8,1295.5 835.1,1295.3 834.4,1295.2 C833.8,1295.0 833.1,1294.8 832.5,1294.6 C832.0,1294.4 831.4,1294.2 830.9,1293.9 C830.4,1293.7 829.9,1293.5 829.5,1293.2 C829.1,1293.0 828.7,1292.7 828.4,1292.4 C828.1,1292.2 827.8,1291.9 827.6,1291.6 C827.4,1291.3 827.2,1291.1 827.1,1290.8 C827.0,1290.5 827.0,1290.0 826.9,1289.9" stroke-width="1.4"/>
<ellipse cx="846.1" cy="1288.0" rx="9.1" ry="3.2" transform="rotate(0 846.1 1288.0)" stroke-width="1.6"/>
<ellipse cx="846.1" cy="1288.0" rx="4.4" ry="1.5" transform="rotate(0 846.1 1288.0)" stroke-width="1.6" fill="#000"/>
<path d="M828.1,1292.1 L838.4,1286.2" stroke-width="1.4"/>
<path d="M864.2,1292.1 L853.9,1286.2" stroke-width="1.4"/>
<path d="M828.1,1292.1 L864.2,1292.1" stroke-width="1.2"/>
<ellipse cx="846.1" cy="1319.4" rx="47.2" ry="15.5" transform="rotate(0 846.1 1319.4)" stroke-width="3.2" fill="#fff"/>
<ellipse cx="846.1" cy="1320.6" rx="41.3" ry="12.7" transform="rotate(0 846.1 1320.6)" stroke-width="1.8"/>
<path d="M869.3,1315.2 C869.4,1315.3 869.6,1315.9 869.7,1316.2 C869.7,1316.6 869.6,1316.9 869.5,1317.3 C869.4,1317.6 869.2,1318.0 868.9,1318.3 C868.6,1318.7 868.2,1319.0 867.7,1319.4 C867.3,1319.7 866.8,1320.0 866.2,1320.3 C865.6,1320.6 864.9,1320.9 864.2,1321.2 C863.4,1321.4 862.6,1321.7 861.8,1321.9 C860.9,1322.2 860.0,1322.4 859.1,1322.6 C858.1,1322.8 857.1,1323.0 856.1,1323.1 C855.0,1323.3 853.9,1323.4 852.9,1323.5 C851.8,1323.6 850.6,1323.7 849.5,1323.7 C848.4,1323.8 847.2,1323.8 846.1,1323.8 C845.0,1323.8 843.8,1323.8 842.7,1323.7 C841.5,1323.7 840.4,1323.6 839.3,1323.5 C838.2,1323.4 837.2,1323.3 836.1,1323.1 C835.1,1323.0 834.1,1322.8 833.1,1322.6 C832.2,1322.4 831.3,1322.2 830.4,1321.9 C829.6,1321.7 828.8,1321.4 828.0,1321.2 C827.3,1320.9 826.6,1320.6 826.0,1320.3 C825.4,1320.0 824.9,1319.7 824.4,1319.4 C824.0,1319.0 823.6,1318.7 823.3,1318.3 C823.0,1318.0 822.8,1317.6 822.7,1317.3 C822.5,1316.9 822.5,1316.6 822.5,1316.2 C822.6,1315.9 822.8,1315.3 822.9,1315.2" stroke-width="1.8"/>
<ellipse cx="845.8" cy="1310.8" rx="16.9" ry="5.9" transform="rotate(0 845.8 1310.8)" stroke-width="1.8" fill="#fff"/>
<path d="M798.9,1319.4 L798.9,1347.4" stroke-width="2.2"/>
<path d="M893.3,1319.4 L893.3,1343.7" stroke-width="2.2"/>
<path d="M893.4,1348.7 C893.2,1349.0 892.9,1350.0 892.5,1350.6 C892.1,1351.2 891.6,1351.9 890.9,1352.5 C890.3,1353.1 889.5,1353.7 888.7,1354.2 C887.8,1354.8 886.8,1355.4 885.7,1355.9 C884.7,1356.4 883.5,1356.9 882.2,1357.4 C881.0,1357.9 879.6,1358.4 878.2,1358.8 C876.7,1359.2 875.2,1359.6 873.6,1360.0 C872.0,1360.4 870.3,1360.7 868.6,1361.0 C866.9,1361.3 865.1,1361.6 863.3,1361.8 C861.5,1362.0 859.6,1362.2 857.7,1362.4 C855.8,1362.5 853.9,1362.7 851.9,1362.7 C850.0,1362.8 848.0,1362.9 846.1,1362.9 C844.1,1362.9 842.2,1362.8 840.2,1362.7 C838.3,1362.7 836.4,1362.5 834.5,1362.4 C832.6,1362.2 830.7,1362.0 828.9,1361.8 C827.1,1361.6 825.3,1361.3 823.6,1361.0 C821.9,1360.7 820.2,1360.4 818.6,1360.0 C817.0,1359.6 815.5,1359.2 814.0,1358.8 C812.6,1358.4 811.2,1357.9 810.0,1357.4 C808.7,1356.9 807.5,1356.4 806.4,1355.9 C805.4,1355.4 804.4,1354.8 803.5,1354.2 C802.7,1353.7 801.9,1353.1 801.3,1352.5 C800.6,1351.9 800.1,1351.2 799.7,1350.6 C799.3,1350.0 799.0,1349.0 798.8,1348.7" stroke-width="2.6"/>
<path d="M896.7,1344.4 C897.1,1344.9 898.7,1346.4 899.3,1347.4 C899.9,1348.5 900.4,1349.6 900.5,1350.6 C900.7,1351.7 900.6,1352.8 900.3,1353.9 C900.0,1355.0 899.5,1356.0 898.7,1357.1 C897.9,1358.1 896.9,1359.1 895.7,1360.1 C894.4,1361.1 893.0,1362.0 891.3,1362.9 C889.7,1363.8 887.8,1364.7 885.8,1365.5 C883.7,1366.2 881.5,1367.0 879.2,1367.6 C876.8,1368.3 874.3,1368.9 871.7,1369.4 C869.1,1369.9 866.3,1370.3 863.5,1370.7 C860.8,1371.0 857.8,1371.3 854.9,1371.4 C852.0,1371.6 849.0,1371.7 846.1,1371.7 C843.1,1371.7 840.2,1371.6 837.3,1371.4 C834.3,1371.3 831.4,1371.0 828.6,1370.7 C825.8,1370.3 823.1,1369.9 820.5,1369.4 C817.9,1368.9 815.4,1368.3 813.0,1367.6 C810.7,1367.0 808.5,1366.2 806.4,1365.5 C804.4,1364.7 802.5,1363.8 800.9,1362.9 C799.2,1362.0 797.8,1361.1 796.5,1360.1 C795.3,1359.1 794.3,1358.1 793.5,1357.1 C792.7,1356.0 792.2,1355.0 791.9,1353.9 C791.6,1352.8 791.5,1351.7 791.7,1350.6 C791.8,1349.6 792.2,1348.5 792.9,1347.4 C793.5,1346.4 795.1,1344.9 795.5,1344.4" stroke-width="2.2"/>
<path d="M900.3,1355.5 C900.3,1355.9 900.2,1357.2 899.9,1358.1 C899.6,1358.9 899.1,1359.8 898.5,1360.6 C897.9,1361.5 897.1,1362.3 896.2,1363.1 C895.3,1363.9 894.2,1364.7 893.1,1365.4 C891.9,1366.2 890.6,1366.9 889.1,1367.6 C887.7,1368.3 886.1,1368.9 884.4,1369.6 C882.8,1370.2 881.0,1370.7 879.1,1371.3 C877.2,1371.8 875.3,1372.3 873.2,1372.7 C871.2,1373.2 869.0,1373.5 866.9,1373.9 C864.7,1374.2 862.4,1374.5 860.1,1374.7 C857.9,1374.9 855.5,1375.1 853.2,1375.2 C850.8,1375.3 848.5,1375.4 846.1,1375.4 C843.7,1375.4 841.4,1375.3 839.0,1375.2 C836.7,1375.1 834.3,1374.9 832.1,1374.7 C829.8,1374.5 827.5,1374.2 825.3,1373.9 C823.2,1373.5 821.0,1373.2 819.0,1372.7 C816.9,1372.3 814.9,1371.8 813.1,1371.3 C811.2,1370.7 809.4,1370.2 807.7,1369.6 C806.1,1368.9 804.5,1368.3 803.1,1367.6 C801.6,1366.9 800.3,1366.2 799.1,1365.4 C797.9,1364.7 796.9,1363.9 796.0,1363.1 C795.1,1362.3 794.3,1361.5 793.7,1360.6 C793.1,1359.8 792.6,1358.9 792.3,1358.1 C792.0,1357.2 791.9,1355.9 791.9,1355.5" stroke-width="2.2"/>
<path d="M791.9,1351.8 L791.9,1355.9" stroke-width="2"/>
<path d="M900.3,1351.8 L900.3,1355.9" stroke-width="2"/>
<path d="M823.7,1369.5 C824.1,1370.5 824.7,1375.3 826.6,1376.9 C828.6,1378.4 834.9,1380.7 838.4,1381.3 C842.0,1381.9 849.6,1381.9 853.2,1381.3 C856.7,1380.7 863.0,1378.2 865.0,1376.9 C866.9,1375.5 867.5,1371.8 867.9,1371.0" stroke-width="2.2"/>
<path d="M867.9,1370.5 C867.8,1370.6 867.5,1371.0 867.3,1371.2 C867.0,1371.4 866.7,1371.6 866.4,1371.8 C866.1,1372.0 865.7,1372.2 865.2,1372.4 C864.8,1372.6 864.3,1372.8 863.8,1373.0 C863.3,1373.2 862.8,1373.4 862.2,1373.5 C861.6,1373.7 861.0,1373.9 860.3,1374.0 C859.6,1374.2 859.0,1374.3 858.2,1374.4 C857.5,1374.5 856.8,1374.7 856.0,1374.8 C855.3,1374.9 854.5,1375.0 853.7,1375.0 C852.9,1375.1 852.0,1375.2 851.2,1375.2 C850.4,1375.3 849.5,1375.3 848.7,1375.3 C847.8,1375.4 846.9,1375.4 846.1,1375.4 C845.2,1375.4 844.4,1375.4 843.5,1375.3 C842.7,1375.3 841.8,1375.3 841.0,1375.2 C840.2,1375.2 839.3,1375.1 838.5,1375.0 C837.7,1375.0 836.9,1374.9 836.2,1374.8 C835.4,1374.7 834.7,1374.5 833.9,1374.4 C833.2,1374.3 832.5,1374.2 831.9,1374.0 C831.2,1373.9 830.6,1373.7 830.0,1373.5 C829.4,1373.4 828.9,1373.2 828.4,1373.0 C827.9,1372.8 827.4,1372.6 826.9,1372.4 C826.5,1372.2 826.1,1372.0 825.8,1371.8 C825.5,1371.6 825.2,1371.4 824.9,1371.2 C824.7,1371.0 824.4,1370.6 824.3,1370.5" stroke-width="1.6"/>
<path d="M764.0,1311.7 L798.9,1320.1" stroke-width="1.6"/>
<path d="M763.6,1313.8 L798.6,1322.3" stroke-width="1.6"/>
<ellipse cx="763.9" cy="1312.7" rx="0.6" ry="1.0" transform="rotate(0 763.9 1312.7)" stroke-width="1.6"/>
<path d="M893.7,1342.7 L928.6,1350.6" stroke-width="1.6"/>
<path d="M893.3,1344.7 L928.0,1352.7" stroke-width="1.6"/>
<ellipse cx="928.3" cy="1351.7" rx="0.6" ry="1.0" transform="rotate(0 928.3 1351.7)" stroke-width="1.6"/>
<ellipse cx="846.1" cy="1405.6" rx="10.3" ry="4.1" transform="rotate(0 846.1 1405.6)" stroke-width="2.4"/>
<ellipse cx="846.1" cy="1404.9" rx="5.3" ry="1.9" transform="rotate(0 846.1 1404.9)" stroke-width="2"/>
<path d="M835.8,1406.0 L836.2,1413.0 L841.4,1416.7 L851.7,1416.7 L856.4,1413.0 L856.4,1406.0" stroke-width="2.2"/>
<path d="M841.4,1410.0 L841.4,1416.7" stroke-width="1.4"/>
<path d="M851.7,1410.0 L851.7,1416.7" stroke-width="1.4"/>

<!-- p_chain.svg -->
<path d="M748.2,275.1 L759.5,284.4" stroke-width="3.6" stroke-linecap="round"/>
<path d="M710.8,321.3 L722.0,330.0" stroke-width="3.6" stroke-linecap="round"/>
<path d="M732.3,290.0 L745.1,295.6 L743.1,299.7 L735.9,296.9Z" stroke-width="1.8"/>
<path d="M732.8,300.8 L737.9,297.5 L743.1,303.8 L736.9,308.1Z" stroke-width="1.5" fill="#000"/>
<path d="M725.6,306.4 L739.0,312.0 L735.4,317.4 L729.7,314.1Z" stroke-width="1.8"/>
<path d="M727.7,307.9 L730.8,311.0" stroke-width="3" stroke-linecap="round"/>
<path d="M741.0,301.8 L757.4,318.2" stroke-width="1.8"/>
<path d="M737.9,306.9 L753.3,322.3" stroke-width="1.8"/>
<path d="M746.6,311.5 L750.2,315.1" stroke-width="6" stroke-linecap="butt"/>
<path d="M753.3,323.3 C753.8,322.1 756.1,318.9 757.4,318.2 C758.7,317.4 765.2,315.8 766.6,315.6 C768.1,315.4 770.0,315.2 771.8,316.1 C773.5,317.1 782.9,323.9 784.1,325.4 C785.2,326.8 784.1,329.3 783.2,330.5 C782.4,331.7 777.5,336.1 775.9,337.7 C774.2,339.2 768.1,345.4 766.6,346.4 C765.2,347.3 762.8,348.0 761.5,346.9 C760.2,345.8 754.2,337.2 753.3,335.6 C752.4,334.0 752.3,331.7 752.3,330.5 C752.3,329.3 752.8,324.5 753.3,323.3Z" stroke-width="1.5" fill="#000"/>
<path d="M756.9,330.5 L764.1,337.1" stroke="#fff" stroke-width="1.8"/>
<path d="M760.0,325.9 L767.7,332.5" stroke="#fff" stroke-width="1.8"/>
<path d="M764.1,321.8 L771.8,328.4" stroke="#fff" stroke-width="1.8"/>
<path d="M765.6,341.8 L781.0,327.4" stroke="#fff" stroke-width="1.4"/>
<path d="M767.7,342.3 L781.0,330.0 L786.1,333.6 L773.8,345.9Z" stroke-width="2.4" fill="#fff"/>
<path d="M770.7,340.7 L782.0,331.5" stroke-width="2"/>
<path d="M773.8,343.3 L784.1,334.1" stroke-width="2"/>
<path d="M770.7,357.1 C770.7,356.5 771.3,352.0 771.8,351.0 C772.2,350.0 777.0,342.8 777.9,341.8 C778.9,340.7 784.9,336.4 786.1,335.6 C787.3,334.9 794.3,330.8 795.3,330.5 C796.4,330.2 799.4,329.9 801.5,331.5 C803.5,333.1 824.8,353.0 826.1,355.1 C827.4,357.1 822.1,361.0 821.0,362.3 C819.8,363.6 810.3,373.0 808.7,374.6 C807.0,376.1 798.8,386.2 796.4,385.3 C793.9,384.4 773.5,363.1 771.8,361.2 C770.0,359.4 770.7,357.8 770.7,357.1Z" stroke-width="2.6" fill="#fff"/>
<path d="M825.6,355.1 C824.7,355.3 820.1,355.7 817.9,357.1 C815.7,358.6 808.9,365.0 806.6,367.4 C804.3,369.8 799.6,375.5 798.4,377.6 C797.2,379.7 796.6,384.4 796.4,385.3" stroke-width="6.5"/>
<path d="M825.1,357.1 C825.2,358.1 826.8,363.4 826.6,365.3 C826.4,367.2 824.4,371.6 823.0,373.5 C821.6,375.5 816.7,380.4 814.8,381.7 C812.9,383.1 808.4,384.6 806.6,384.8 C804.8,385.1 800.3,383.9 799.4,383.8" stroke-width="2.2"/>
<path d="M771.8,360.2 C772.0,359.1 772.6,353.1 773.8,351.0 C775.0,348.8 779.9,343.7 782.0,341.8 C784.2,339.8 790.1,335.8 792.3,334.6 C794.4,333.4 799.5,331.9 800.5,331.5" stroke-width="2.2"/>
<path d="M775.9,349.4 L801.0,373.5" stroke-width="5" stroke-linecap="butt"/>
<path d="M781.0,343.8 L803.5,366.4" stroke-width="1.6" stroke-linecap="butt"/>
<path d="M783.0,340.7 L808.7,364.8" stroke-width="5.5" stroke-linecap="butt"/>
<path d="M788.2,338.7 L810.7,360.2" stroke-width="1.6" stroke-linecap="butt"/>
<path d="M791.2,335.1 L816.4,358.7" stroke-width="5" stroke-linecap="butt"/>
<path d="M803.5,371.0 L815.8,381.7" stroke-width="1.8"/>
<path d="M811.7,362.3 L823.5,373.5" stroke-width="1.8"/>
<path d="M815.8,381.2 L823.0,373.5 L829.4,375.6 L828.1,380.9 L823.0,387.1Z" stroke-width="1.5" fill="#000"/>
<path d="M817.9,378.7 L824.6,372.5" stroke="#fff" stroke-width="1.6"/>
<path d="M823.0,387.1 L829.4,380.9 L847.8,395.3 L845.6,399.4 L840.6,403.5 L837.4,402.2Z" stroke-width="1.5" fill="#000"/>
<path d="M824.6,385.8 L830.2,380.2" stroke="#fff" stroke-width="1.6"/>
<path d="M854.3,402.2 L857.4,399.7 L862.0,403.3 L858.9,406.3Z" stroke-width="2"/>
<path d="M841.0,414.5 L843.5,412.0 L849.2,416.6 L846.6,419.7Z" stroke-width="2"/>
<path d="M854.6,427.2 C854.7,425.8 855.7,420.7 856.7,419.0 C857.6,417.2 861.2,413.1 862.8,411.8 C864.4,410.5 868.7,408.1 870.0,407.7 C871.3,407.3 873.1,407.6 874.1,408.2 C875.0,408.8 877.8,411.5 878.2,412.8 C878.5,414.1 877.9,417.4 877.2,419.0 C876.4,420.5 873.5,424.7 872.0,426.1 C870.6,427.6 866.3,430.5 864.9,431.3 C863.4,432.0 860.8,432.4 859.7,432.3 C858.7,432.2 856.2,430.8 855.6,430.2 C855.0,429.6 854.5,428.5 854.6,427.2Z" stroke-width="2.4"/>
<ellipse cx="869.5" cy="421.0" rx="10.5" ry="4.0" transform="rotate(-50 869.5 421.0)" stroke-width="4.2"/>
<path d="M856.7,419.0 C856.5,419.6 855.4,422.8 855.6,424.1 C855.9,425.3 857.9,428.0 858.7,428.2 C859.5,428.3 861.4,425.5 861.8,425.1" stroke-width="1.6"/>
<path d="M885.9,408.2 C886.6,407.7 891.8,403.9 893.6,403.1 C895.4,402.2 902.3,399.3 903.8,399.5 C905.3,399.6 908.4,404.1 908.9,404.6" stroke-width="2.4"/>
<path d="M885.9,408.2 L887.4,411.8 L891.5,410.8 L899.7,405.6 L906.4,406.9 L908.9,404.6" stroke-width="2.4"/>
<path d="M887.4,411.8 C887.6,412.3 888.3,414.6 888.9,415.9 C889.6,417.2 892.2,421.3 892.7,423.1 C893.3,424.8 893.8,429.1 893.8,431.3 C893.7,433.4 893.3,439.1 892.5,441.5 C891.8,443.9 888.2,449.7 887.4,451.8 C886.6,453.8 885.6,458.1 885.4,458.9" stroke-width="2.4"/>
<path d="M854.6,463.5 C854.9,463.3 856.8,461.5 857.7,461.0 C858.6,460.4 862.5,458.6 863.8,457.9 C865.2,457.2 869.7,454.3 871.0,453.8 C872.3,453.3 875.9,452.4 877.2,452.8 C878.4,453.2 882.5,457.3 883.3,457.9 C884.1,458.5 885.2,458.8 885.4,458.9" stroke-width="2.4"/>
<path d="M854.6,463.5 C855.2,464.1 858.1,467.4 859.7,468.2 C861.4,469.0 866.8,470.0 869.0,470.4 C871.1,470.8 876.0,471.5 878.2,471.4 C880.3,471.4 885.4,470.8 887.4,470.2 C889.4,469.6 894.7,466.6 895.6,466.1" stroke-width="2.4"/>
<path d="M908.9,404.6 C909.2,405.5 911.4,412.0 912.0,413.8 C912.6,415.7 913.8,421.6 915.1,423.1 C916.4,424.5 924.3,427.7 925.3,428.2" stroke-width="3"/>
<path d="M923.8,428.7 L926.4,426.6 L935.1,434.3 L931.5,438.9Z" stroke-width="2.4"/>
<path d="M931.5,438.9 C931.2,439.8 929.5,444.7 928.6,446.6 C927.8,448.6 925.4,454.1 924.3,455.9 C923.2,457.7 920.4,460.8 919.2,462.0 C918.0,463.2 915.5,465.0 914.1,466.1 C912.6,467.2 908.3,470.8 906.9,471.2 C905.4,471.7 903.1,470.8 901.8,470.2 C900.4,469.6 896.3,466.6 895.6,466.1" stroke-width="2.6"/>
<path d="M887.4,470.2 C888.6,470.1 895.3,469.9 897.7,469.2 C900.0,468.5 905.5,465.9 907.9,464.1 C910.3,462.3 916.1,456.4 918.2,453.8 C920.2,451.2 924.1,443.7 925.3,441.5 C926.5,439.4 928.1,436.1 928.4,435.4" stroke-width="2.0"/>
<path d="M891.5,410.8 L897.7,421.0 L901.8,429.2 L900.7,437.4" stroke-width="3"/>
<path d="M895.6,409.7 L901.8,420.0 L907.9,425.1 L922.3,437.4" stroke-width="3.4"/>
<path d="M901.8,408.7 L905.9,419.0 L912.0,423.1" stroke-width="3"/>
<path d="M906.4,406.9 L911.0,416.9 L917.1,421.0 L925.3,428.2" stroke-width="2.4"/>
<path d="M900.7,437.4 L907.9,436.4 L914.1,441.5 L907.9,450.7 L901.8,447.7Z" stroke-width="2.4"/>
<path d="M914.1,441.5 L922.3,437.4" stroke-width="2.4"/>
<path d="M892.5,441.5 L901.8,447.7 L899.7,454.8 L893.6,461.0 L896.6,465.1 L903.8,468.2" stroke-width="2.2"/>
<path d="M899.7,454.8 L907.9,458.9 L914.1,449.7" stroke-width="2.2"/>
<path d="M885.4,458.9 L893.6,461.0" stroke-width="2"/>
<path d="M915.1,445.6 L922.3,451.8 L920.2,457.9" stroke-width="2.4"/>
<path d="M863.8,457.9 L869.0,462.0 L877.2,461.0 L883.3,457.9" stroke-width="2"/>
<path d="M871.0,453.8 L875.1,457.9 L879.2,455.9" stroke-width="3"/>
<path d="M857.7,461.0 L860.8,465.1 L859.7,468.2" stroke-width="2.2"/>
<path d="M860.8,465.1 L866.9,467.1" stroke-width="1.6"/>
<path d="M934.6,444.1 L962.2,469.0" stroke-width="4.6" stroke-linecap="round"/>
<path d="M960.7,468.0 L963.8,470.2" stroke-width="7" stroke-linecap="round"/>
<path d="M887.4,478.9 L915.1,503.8" stroke-width="4.6" stroke-linecap="round"/>
<path d="M913.5,502.8 L916.6,505.1" stroke-width="7" stroke-linecap="round"/>
<path d="M936.6,470.2 L939.2,467.6 L944.8,473.3 L942.3,475.5Z" stroke-width="2"/>
<path d="M950.5,472.3 L953.0,470.2 L957.6,473.9 L955.1,476.4Z" stroke-width="2"/>
<path d="M949.4,489.7 C949.2,488.6 950.2,485.8 951.0,484.6 C951.7,483.4 954.9,480.3 956.1,479.4 C957.3,478.5 960.1,476.9 961.2,476.9 C962.3,476.9 964.8,478.7 965.3,479.4 C965.9,480.2 966.2,482.5 965.8,483.5 C965.5,484.6 963.3,487.6 962.2,488.7 C961.2,489.7 958.2,492.2 957.1,492.8 C956.0,493.4 953.9,494.1 953.0,493.8 C952.1,493.4 949.7,490.8 949.4,489.7Z" stroke-width="2.4"/>
<ellipse cx="960.0" cy="486.6" rx="7.6" ry="3.4" transform="rotate(-48 960.0 486.6)" stroke-width="1" fill="#000"/>
<path d="M961.2,495.8 C961.3,495.2 963.4,491.5 964.3,490.7 C965.2,489.9 969.7,487.7 970.4,487.6 C971.2,487.6 972.1,489.5 971.7,490.2 C971.3,490.9 967.2,494.1 966.3,494.8 C965.5,495.5 963.8,497.0 963.3,497.1 C962.8,497.2 961.1,496.5 961.2,495.8Z" stroke-width="1.5" fill="#000"/>
<path d="M962.2,506.1 C962.1,504.9 963.4,500.3 964.3,498.9 C965.2,497.5 970.0,492.9 971.5,491.7 C972.9,490.6 977.4,487.8 978.6,487.6 C979.9,487.4 982.8,489.0 983.8,489.7 C984.7,490.4 987.6,493.7 987.9,494.8 C988.2,495.9 987.5,499.7 986.8,501.0 C986.2,502.2 982.8,506.0 981.7,507.1 C980.6,508.2 976.7,511.5 975.6,512.2 C974.4,513.0 971.5,514.4 970.4,514.3 C969.4,514.2 966.1,512.0 965.3,511.2 C964.5,510.4 962.3,507.3 962.2,506.1Z" stroke-width="1.5" fill="#000"/>
<path d="M967.4,503.0 L973.5,508.1" stroke="#fff" stroke-width="1.3"/>
<path d="M969.9,499.4 L976.6,504.6" stroke="#fff" stroke-width="1.3"/>
<path d="M973.0,496.4 L979.2,501.0" stroke="#fff" stroke-width="1.3"/>
<path d="M976.6,493.3 L982.2,497.9" stroke="#fff" stroke-width="1.3"/>
<path d="M980.7,499.9 L984.8,497.9 L985.8,502.0Z" stroke-width="1.4" fill="#fff"/>
<path d="M979.5,519.7 L981.7,518.2 L987.9,523.8 L986.7,526.1 L980.5,523.0Z" stroke-width="1.5" fill="#222"/>
<path d="M980.5,510.5 L984.6,505.4 L990.8,509.0 L1003.1,518.2 L1008.2,523.8 L1005.1,529.5 L993.8,523.8 L986.7,517.2Z" stroke-width="2.6" fill="#fff"/>
<path d="M985.1,514.1 L989.2,508.5" stroke-width="2.6" stroke-linecap="butt"/>
<path d="M987.2,516.1 L991.3,510.0" stroke-width="2.6" stroke-linecap="butt"/>
<path d="M992.8,521.8 L997.4,515.1" stroke-width="2.6" stroke-linecap="butt"/>
<path d="M995.4,523.3 L999.5,516.9" stroke-width="2.6" stroke-linecap="butt"/>
<path d="M997.4,524.9 L1001.5,518.7" stroke-width="2.6" stroke-linecap="butt"/>
<path d="M1004.1,527.9 L1022.5,542.3" stroke-width="7.5" stroke-linecap="butt"/>
<path d="M1020.5,556.6 C1020.6,555.3 1022.5,551.0 1023.6,549.5 C1024.6,547.9 1028.3,544.4 1029.7,543.3 C1031.1,542.2 1034.5,540.2 1035.9,540.2 C1037.2,540.2 1040.1,542.5 1041.0,543.3 C1041.8,544.1 1043.1,546.0 1043.0,547.4 C1042.9,548.8 1041.0,553.9 1040.0,555.6 C1038.9,557.3 1035.2,560.8 1033.8,561.8 C1032.4,562.7 1029.0,563.9 1027.7,563.8 C1026.3,563.7 1023.4,561.6 1022.5,560.7 C1021.7,559.9 1020.4,557.9 1020.5,556.6Z" stroke-width="2.6"/>
<ellipse cx="1034.8" cy="552.7" rx="9.2" ry="3.6" transform="rotate(-48 1034.8 552.7)" stroke-width="4"/>
<path d="M1026.6,580.2 C1026.9,579.1 1030.0,573.6 1030.7,572.0 C1031.4,570.4 1032.9,565.4 1033.8,563.8 C1034.7,562.2 1038.4,557.1 1040.0,555.6 C1041.5,554.1 1047.3,549.9 1049.2,548.9 C1051.0,548.0 1057.1,546.3 1058.4,546.4 C1059.7,546.4 1062.4,548.7 1062.5,549.5 C1062.6,550.2 1059.6,552.7 1059.4,553.6 C1059.2,554.4 1059.7,556.4 1060.5,557.7 C1061.2,558.9 1066.2,564.4 1066.6,565.9 C1067.0,567.3 1065.4,570.7 1064.6,572.0 C1063.7,573.3 1059.6,577.9 1058.4,579.2 C1057.2,580.4 1053.5,583.7 1052.3,584.3 C1051.0,584.9 1047.1,585.3 1046.1,585.3 C1045.1,585.3 1042.8,584.2 1042.0,584.3 C1041.2,584.5 1038.9,586.7 1037.9,586.9 C1036.9,587.0 1032.8,586.2 1031.8,585.8 C1030.7,585.5 1028.2,583.8 1027.7,583.3 C1027.1,582.7 1026.3,581.3 1026.6,580.2Z" stroke-width="2.6"/>
<path d="M1031.8,579.2 C1032.2,577.9 1034.4,570.3 1035.9,567.9 C1037.3,565.5 1042.1,560.5 1044.1,558.7 C1046.0,556.9 1050.5,553.1 1052.3,552.5 C1054.0,551.9 1058.6,553.4 1059.4,553.6" stroke-width="2.2"/>
<path d="M1037.9,582.3 C1038.3,581.1 1039.8,574.2 1041.0,572.0 C1042.2,569.9 1046.4,565.2 1048.2,563.8 C1049.9,562.4 1055.4,560.2 1056.4,559.7" stroke-width="2.2"/>
<ellipse cx="1056.9" cy="573.5" rx="11.0" ry="4.2" transform="rotate(-48 1056.9 573.5)" stroke-width="4.5"/>
<path d="M1055.3,548.4 L1058.4,546.4 L1062.5,549.5 L1059.9,552.5" stroke-width="2.2"/>
<path d="M1031.8,585.8 C1031.6,585.1 1030.2,581.4 1030.7,580.2 C1031.3,579.0 1034.8,577.1 1035.9,577.1 C1036.9,577.1 1038.7,578.9 1038.9,580.2 C1039.2,581.5 1038.0,586.0 1037.9,586.9" stroke-width="2.2"/>
<path d="M1040.0,561.8 C1040.6,561.5 1044.1,559.6 1045.1,559.7 C1046.0,559.8 1047.3,562.0 1047.1,562.8 C1047.0,563.6 1044.5,565.4 1044.1,565.9" stroke-width="2"/>
<path d="M1077.9,569.4 L1089.7,579.2" stroke-width="4.6" stroke-linecap="round"/>
<path d="M1087.3,577.2 L1089.7,579.2" stroke-width="7" stroke-linecap="round"/>
<path d="M1062.0,577.1 L1072.8,585.8" stroke-width="4.6" stroke-linecap="round"/>
<path d="M1070.6,584.1 L1072.8,585.8" stroke-width="7" stroke-linecap="round"/>
<path d="M1067.1,588.9 L1078.4,598.1" stroke-width="4.6" stroke-linecap="round"/>
<path d="M1076.1,596.3 L1078.4,598.1" stroke-width="7" stroke-linecap="round"/>
<path d="M1051.2,596.1 L1062.5,604.3" stroke-width="4.6" stroke-linecap="round"/>
<path d="M1060.3,602.7 L1062.5,604.3" stroke-width="7" stroke-linecap="round"/>
<path d="M1081.0,605.8 C1081.2,605.1 1082.3,601.8 1083.0,600.7 C1083.7,599.6 1085.7,598.0 1086.1,597.6" stroke-width="3.2"/>
<path d="M1084.5,604.8 C1085.0,604.0 1086.9,599.9 1087.6,598.7 C1088.4,597.4 1089.8,596.0 1090.2,595.6" stroke-width="2.2"/>
<path d="M1084.5,605.3 L1093.3,600.2 L1126.6,629.9 L1125.2,634.5 L1119.1,638.6 L1116.8,637.6Z" stroke-width="2.4"/>
<ellipse cx="1122.8" cy="634.0" rx="5.5" ry="2.4" transform="rotate(-40 1122.8 634.0)" stroke-width="1" fill="#000"/>
<path d="M1097.4,616.3 L1102.5,611.2" stroke-width="3.2" stroke-linecap="butt"/>
<path d="M1106.6,626.3 L1111.7,620.4" stroke-width="3.2" stroke-linecap="butt"/>
<path d="M1102.0,619.7 L1105.6,623.3" stroke-width="2.4" stroke-linecap="butt"/>

<!-- p_gear.svg -->
<ellipse cx="541.3" cy="126.3" rx="4.6" ry="7.0" transform="rotate(38 541.3 126.3)" stroke-width="3"/>
<ellipse cx="542.1" cy="126.3" rx="1.4" ry="3.6" transform="rotate(38 542.1 126.3)" stroke-width="1.2"/>
<path d="M534.8,159.9 C534.9,158.1 536.2,153.3 537.9,150.5 C539.7,147.6 546.7,138.5 549.6,135.2 C552.5,132.0 560.2,124.9 563.0,122.7 C565.9,120.4 571.7,116.7 573.8,115.9 C575.9,115.2 579.3,115.4 581.0,116.4 C582.7,117.4 587.5,122.3 588.2,124.5 C588.8,126.7 587.4,133.1 586.8,135.2 C586.2,137.3 583.8,140.7 582.8,142.4 C581.8,144.1 579.3,148.0 578.3,149.6 C577.2,151.1 575.2,154.7 573.8,155.9 C572.5,157.0 568.3,158.3 566.6,159.4 C565.0,160.6 561.4,164.3 559.5,165.7 C557.5,167.1 551.4,170.9 549.6,171.5 C547.8,172.2 545.7,172.2 544.2,171.5 C542.8,170.9 538.1,167.1 537.0,165.7 C535.9,164.4 534.7,161.7 534.8,159.9Z" stroke-width="1.5" fill="#000"/>
<path d="M538.4,159.4 L542.4,165.3" stroke="#fff" stroke-width="2.6"/>
<path d="M541.5,153.6 L546.5,160.8" stroke="#fff" stroke-width="2.6"/>
<path d="M545.6,147.3 L550.9,155.0" stroke="#fff" stroke-width="2.6"/>
<path d="M550.5,141.5 L555.9,149.1" stroke="#fff" stroke-width="2.6"/>
<path d="M555.7,135.9 L560.5,143.3" stroke="#fff" stroke-width="2.6"/>
<path d="M561.4,129.7 L566.8,136.6" stroke="#fff" stroke-width="2.6"/>
<path d="M568.0,124.0 L573.1,130.6" stroke="#fff" stroke-width="2.6"/>
<path d="M574.0,119.8 L578.7,125.2" stroke="#fff" stroke-width="2.6"/>
<ellipse stroke="#fff" cx="565.3" cy="147.3" rx="8.6" ry="4.6" transform="rotate(-42 565.3 147.3)" stroke-width="1.6" fill="#fff"/>
<ellipse cx="565.9" cy="147.7" rx="5.2" ry="2.6" transform="rotate(-42 565.9 147.7)" stroke-width="1.4" fill="#000"/>
<ellipse stroke="#fff" cx="566.5" cy="148.1" rx="2.4" ry="1.2" transform="rotate(-42 566.5 148.1)" stroke-width="1" fill="#fff"/>
<path d="M585.9,123.6 L588.6,124.6" stroke="#fff" stroke-width="1.3"/>
<path d="M584.7,127.6 L587.4,128.7" stroke="#fff" stroke-width="1.3"/>
<path d="M583.4,131.6 L586.1,132.7" stroke="#fff" stroke-width="1.3"/>
<path d="M582.2,135.7 L584.8,136.7" stroke="#fff" stroke-width="1.3"/>
<path d="M580.9,139.7 L583.6,140.8" stroke="#fff" stroke-width="1.3"/>
<path d="M579.6,143.7 L582.3,144.8" stroke="#fff" stroke-width="1.3"/>
<path d="M578.4,147.8 L581.1,148.9" stroke="#fff" stroke-width="1.3"/>
<path d="M570.7,159.9 L577.8,151.8 L589.1,160.2 L588.2,163.2 L581.9,170.0 L578.7,169.5Z" stroke-width="2.4" fill="#fff"/>
<ellipse cx="584.1" cy="164.8" rx="2.2" ry="6.0" transform="rotate(38 584.1 164.8)" stroke-width="2.2"/>
<path d="M574.7,163.0 L577.4,162.1 L578.3,163.9" stroke-width="1.6"/>
<path d="M562.2,162.1 L570.7,163.0" stroke-width="2"/>
<path d="M570.2,151.4 L575.6,149.6" stroke-width="4"/>
<ellipse cx="590.9" cy="170.4" rx="3.6" ry="7.0" transform="rotate(38 590.9 170.4)" stroke-width="2.6"/>
<path d="M646.0,132.5 L658.6,109.0 L667.1,114.6 L654.5,138.8Z" stroke-width="4.5"/>
<path d="M659.9,108.5 L663.5,107.9 L674.3,120.9 L672.9,124.5 L668.0,121.8" stroke-width="4"/>
<path d="M643.8,136.6 L654.5,140.8 L642.9,163.2 L633.2,156.7Z" stroke-width="2"/>
<path d="M651.8,139.7 L640.6,161.7" stroke-width="1.4"/>
<path d="M623.1,162.1 L633.0,156.7 L636.6,163.9 L635.7,170.2 L630.3,171.1Z" stroke-width="2" fill="#000"/>
<path d="M667.5,106.5 L675.2,93.1 L679.2,95.8 L671.6,108.3Z" stroke-width="2.2"/>
<path d="M670.7,102.0 L676.1,98.5" stroke-width="2.6"/>
<ellipse cx="676.5" cy="109.7" rx="3.0" ry="2.6" transform="rotate(0 676.5 109.7)" stroke-width="1" fill="#000"/>
<path d="M675.6,111.0 L673.4,115.5" stroke-width="2.6"/>
<path d="M589.0,193.6 C588.8,191.5 589.0,187.6 589.6,185.9 C590.1,184.3 593.2,178.8 594.5,177.2 C595.7,175.7 600.4,171.8 602.1,170.7 C603.7,169.6 609.2,166.8 610.8,166.3 C612.4,165.9 616.8,166.1 618.4,166.3 C620.0,166.6 624.8,169.0 627.1,169.1 C629.4,169.2 638.6,167.0 641.3,167.4 C644.0,167.8 652.2,171.7 654.4,172.9 C656.5,174.1 661.7,178.1 663.1,179.4 C664.5,180.7 667.9,184.6 668.5,185.9 C669.2,187.2 669.8,191.0 669.6,192.5 C669.4,194.0 667.3,199.2 666.3,201.2 C665.4,203.1 661.1,210.1 659.8,212.1 C658.5,214.0 655.0,218.7 653.3,220.8 C651.5,222.9 644.7,230.6 642.4,232.8 C640.1,235.0 633.0,240.8 630.4,242.6 C627.8,244.3 618.1,249.7 616.2,250.2 C614.4,250.7 613.4,249.4 611.9,248.0 C610.4,246.6 602.3,237.8 601.0,236.0 C599.7,234.3 599.7,232.4 598.8,230.6 C597.9,228.7 593.0,219.9 592.3,217.5 C591.5,215.1 591.5,209.0 591.2,206.6 C590.9,204.2 589.2,195.6 589.0,193.6Z" stroke-width="3"/>
<path d="M615.1,240.4 C615.3,239.8 615.1,237.7 616.2,235.0 C617.4,232.2 622.4,220.2 625.0,216.4 C627.5,212.6 635.1,204.9 638.0,202.3 C640.9,199.6 647.1,195.7 650.0,193.6 C652.9,191.4 660.9,184.7 663.1,183.8 C665.2,182.9 667.9,185.7 668.5,185.9" stroke-width="2.6"/>
<path d="M620.6,242.6 C620.8,241.4 621.5,235.4 622.8,232.8 C624.0,230.1 629.1,222.8 631.5,219.7 C633.9,216.7 640.8,209.2 643.5,206.6 C646.1,204.1 651.9,199.7 654.4,197.9 C656.8,196.1 663.0,192.1 664.2,191.4" stroke-width="1.6"/>
<path d="M592.3,185.9 L601.0,181.0 L614.1,201.2 L609.7,211.0 L601.0,219.7 L594.5,215.3 L592.3,202.3Z" stroke-width="1.5" fill="#111"/>
<path d="M596.6,195.7 L601.0,191.4 L605.3,201.2 L601.0,211.0Z" stroke-width="1" fill="#fff"/>
<path d="M596.6,177.2 L616.2,204.5 L627.1,211.0" stroke-width="4.5"/>
<path d="M603.2,174.0 L618.4,193.6 L614.1,201.2" stroke-width="3.2"/>
<path d="M609.7,185.9 L616.2,178.3 L622.8,183.8 L616.2,191.4Z" stroke-width="3.2"/>
<path d="M622.8,183.8 L630.4,175.0 L635.8,180.5 L628.2,188.1" stroke-width="2.2"/>
<path d="M618.4,193.6 L626.0,185.9 L632.6,182.7" stroke-width="2.2"/>
<path d="M605.3,171.8 L625.0,177.2 L638.0,177.2" stroke-width="2.4"/>
<path d="M618.4,167.4 L633.7,176.1 L644.6,175.0" stroke-width="2.6"/>
<path d="M642.4,168.5 L647.8,187.0 L663.1,181.6" stroke-width="2.2"/>
<path d="M647.8,187.0 L654.4,190.3 L634.8,206.6 L630.4,211.0" stroke-width="3"/>
<path d="M648.9,200.1 L644.6,201.2 L641.3,205.5" stroke-width="2"/>
<path d="M627.1,211.0 L634.8,206.6 L650.0,219.7 L642.4,226.2" stroke-width="2.2"/>
<path d="M635.8,204.5 L646.7,204.5 L644.6,208.8" stroke-width="2.4"/>
<path d="M616.2,235.0 L629.3,225.1 L635.8,230.6 L623.9,240.4" stroke-width="3"/>
<path d="M628.2,225.1 L632.6,224.1 L635.8,228.4" stroke-width="4"/>
<path d="M592.3,217.5 L601.0,226.2 L601.0,236.0" stroke-width="2"/>
<path d="M592.3,215.3 L591.2,220.8 L594.5,223.0" stroke-width="2.4"/>
<path d="M598.8,230.6 L615.1,245.8" stroke-width="1.8"/>
<path d="M616.2,250.2 L631.5,244.8 L653.3,224.1" stroke-width="1.6"/>
<path d="M577.0,216.7 L580.8,214.8 L587.4,222.1 L573.8,243.9 L565.6,237.1Z" stroke-width="1.8"/>
<path d="M580.8,214.8 L584.1,225.1 L572.7,242.6" stroke-width="1.4"/>
<path d="M562.3,240.9 L572.7,246.4 L563.4,267.1 L560.1,269.3 L550.3,262.7Z" stroke-width="4.5"/>
<path d="M566.1,248.0 L557.4,264.4" stroke-width="2.2"/>
<ellipse cx="558.0" cy="279.1" rx="2.4" ry="3.0" transform="rotate(20 558.0 279.1)" stroke-width="2.4"/>
<path d="M540.0,276.9 L546.5,270.3 L552.0,273.1 L543.3,285.0Z" stroke-width="1.6"/>
<path d="M552.0,273.1 L560.7,270.9" stroke-width="1.4"/>
<path d="M633.1,250.2 L641.8,236.0 L650.0,242.6 L640.7,257.3Z" stroke-width="2"/>
<path d="M638.6,248.0 L639.7,254.0" stroke-width="1.6"/>
<path d="M644.6,238.2 L648.9,244.8" stroke-width="1.2"/>
<ellipse cx="658.9" cy="231.9" rx="10.8" ry="6.2" transform="rotate(-50 658.9 231.9)" stroke-width="2.6"/>
<ellipse cx="661.4" cy="232.8" rx="8.0" ry="3.2" transform="rotate(-50 661.4 232.8)" stroke-width="1" fill="#111"/>
<path d="M651.1,264.4 C651.0,262.5 651.5,256.1 652.2,254.6 C652.9,253.0 658.4,247.0 659.8,245.8 C661.2,244.7 667.2,241.2 668.5,240.4 C669.8,239.6 674.1,236.2 675.0,236.0 C676.0,235.9 678.6,238.4 679.4,238.2 C680.2,238.0 683.6,234.9 684.9,233.9 C686.1,232.9 693.0,227.2 694.7,226.2 C696.3,225.3 703.2,222.5 704.5,222.4 C705.7,222.3 707.4,223.0 709.9,225.1 C712.4,227.3 732.8,245.6 735.0,248.0 C737.1,250.5 735.6,253.4 736.0,254.6 C736.5,255.7 739.9,260.9 740.4,262.2 C740.9,263.4 742.7,268.3 742.6,269.8 C742.5,271.3 740.2,279.2 739.3,280.7 C738.4,282.2 733.3,287.3 731.7,288.3 C730.0,289.3 721.2,292.5 719.7,292.7 C718.2,292.9 714.2,290.2 713.2,290.5 C712.2,290.8 709.0,294.8 707.7,295.9 C706.5,297.1 699.9,303.7 697.9,304.7 C695.9,305.6 685.2,306.9 683.8,306.8 C682.3,306.7 683.0,306.0 680.5,303.6 C678.0,301.1 655.7,280.7 653.3,277.4 C650.8,274.2 651.2,266.3 651.1,264.4Z" stroke-width="2.8"/>
<path d="M681.6,302.5 C682.6,299.9 688.5,284.8 690.3,280.7 C692.1,276.6 694.5,270.4 696.8,267.6 C699.1,264.8 706.9,258.9 709.9,256.7 C713.0,254.6 720.1,250.1 723.0,249.1 C725.8,248.1 733.1,248.1 734.4,248.0" stroke-width="4.2"/>
<path d="M688.1,294.9 C688.9,293.1 692.6,282.3 694.7,279.6 C696.7,276.9 703.7,272.5 705.5,272.0 C707.4,271.5 709.6,273.2 710.4,275.2 C711.3,277.3 712.9,288.2 713.2,290.0" stroke-width="2.2"/>
<path d="M725.1,252.4 C726.3,253.1 733.3,257.1 735.0,258.9 C736.6,260.7 739.1,265.3 739.5,267.6 C739.9,269.9 739.3,276.2 738.2,278.5 C737.1,280.9 731.0,286.7 730.0,287.8" stroke-width="2.2"/>
<path d="M675.0,236.0 L701.2,260.5" stroke-width="1.8"/>
<path d="M684.9,233.9 L709.9,257.3" stroke-width="1.6"/>
<path d="M704.5,222.4 L731.7,248.6" stroke-width="1.6"/>
<path d="M668.5,260.0 L694.7,284.5" stroke-width="3"/>
<path d="M670.7,252.4 L696.8,268.7" stroke-width="1.8"/>
<path d="M658.7,266.5 L663.1,256.7 L668.5,260.0 L659.8,278.5" stroke-width="2.2"/>
<path d="M668.5,240.4 L659.8,258.9" stroke-width="3"/>
<path d="M659.8,273.1 L684.9,297.0 L694.7,284.5" stroke-width="1.8"/>
<path d="M653.3,269.8 L681.6,300.3" stroke-width="1.4"/>
<path d="M716.4,265.4 L725.1,269.8 L721.9,278.5 L718.6,276.3" stroke-width="2.4"/>
<path d="M709.9,258.9 L718.6,269.8 L714.3,275.2" stroke-width="2.4"/>
<path d="M687.0,290.5 L693.6,285.0 L691.4,293.8" stroke-width="2"/>
<path d="M703.4,273.1 C704.5,274.3 708.8,277.6 709.9,280.7 C711.0,283.8 710.6,288.7 709.9,291.6 C709.2,294.5 706.3,297.0 705.5,298.1" stroke-width="1.8"/>
<path d="M672.9,240.4 L677.2,236.0 L679.4,238.2" stroke-width="2"/>

<!-- p_lh.svg -->
<path d="M298.4,403.0 C298.3,402.3 296.9,397.3 297.2,395.7 C297.4,394.1 299.0,389.6 300.8,387.2 C302.6,384.8 311.9,374.9 315.4,371.4 C319.0,367.8 332.8,354.8 336.1,351.9 C339.4,349.0 346.5,343.4 348.3,342.2 C350.1,341.0 353.2,339.8 354.4,339.7 C355.6,339.7 357.4,339.2 360.5,341.6 C363.5,343.9 380.5,359.9 384.8,362.9 C389.1,365.8 399.2,368.1 403.1,370.8 C406.9,373.4 417.4,383.2 423.7,389.6 C430.1,396.0 459.6,427.4 466.3,434.7 C473.0,442.0 487.9,459.2 490.7,462.7 C493.5,466.1 493.6,467.0 494.3,468.7 C495.1,470.4 496.4,477.6 498.0,479.7 C499.6,481.8 508.9,488.5 510.2,489.4" stroke-width="2.2"/>
<path d="M304.5,407.9 C304.1,406.9 300.9,400.0 300.8,398.2 C300.7,396.3 301.6,392.0 303.3,389.6 C305.0,387.3 314.3,377.8 317.9,374.4 C321.4,371.1 335.5,358.3 338.5,356.2 C341.6,354.0 347.0,352.9 348.3,353.1 C349.6,353.4 348.9,356.2 351.3,358.6 C353.8,361.0 368.4,374.5 372.6,376.9 C376.8,379.2 391.2,381.2 393.3,381.7" stroke-width="2.4"/>
<path d="M393.3,381.7 C396.9,385.4 428.9,418.8 435.9,426.1 C442.9,433.5 473.2,465.4 477.3,470.0 C481.3,474.5 484.3,479.0 484.6,480.9 C484.9,482.8 482.4,491.1 480.9,493.1 C479.5,495.1 470.7,503.0 467.6,505.3 C464.4,507.5 445.2,518.8 443.2,520.0" stroke-width="2.4"/>
<path d="M348.3,342.2 L344.6,353.1 L348.3,353.1" stroke-width="2"/>
<path d="M358.0,342.2 L350.7,354.3" stroke-width="1.6"/>
<path d="M379.9,364.1 C379.1,364.9 376.4,366.9 375.1,368.9 C373.7,371.0 372.5,375.0 372.0,376.2" stroke-width="2.2"/>
<path d="M403.1,370.8 L393.9,381.7" stroke-width="2.2"/>
<path d="M423.7,389.6 L414.0,398.2" stroke-width="2"/>
<path d="M429.8,398.2 L420.7,406.1" stroke-width="2"/>
<path d="M440.8,409.1 L431.0,417.0" stroke-width="2"/>
<path d="M448.1,416.4 L438.6,424.3" stroke-width="2"/>
<path d="M459.0,427.4 L449.3,434.9" stroke-width="2"/>
<path d="M466.3,434.7 L456.8,442.2" stroke-width="2"/>
<path d="M490.7,462.7 L478.5,470.0" stroke-width="2"/>
<path d="M398.2,401.8 L411.6,398.2 L418.9,403.0 L405.5,408.5Z" stroke-width="2"/>
<path d="M418.9,420.1 L431.0,417.6 L437.1,422.5 L425.0,426.8Z" stroke-width="2"/>
<path d="M437.1,438.3 L449.3,435.9 L454.8,441.0 L443.2,445.6Z" stroke-width="2"/>
<ellipse cx="445.6" cy="440.1" rx="3.2" ry="4.0" transform="rotate(30 445.6 440.1)" stroke-width="2"/>
<path d="M401.8,379.9 L405.5,378.1 L407.3,380.1 L410.4,378.7" stroke-width="3"/>
<path d="M338.5,368.9 L422.5,451.7 L453.0,484.6 L454.8,491.9 L443.2,510.1" stroke-width="4"/>
<path d="M345.9,366.5 L425.0,444.4 L460.3,480.9" stroke-width="2.2"/>
<path d="M304.5,407.9 L336.1,434.7 L434.7,512.6" stroke-width="3.4"/>
<path d="M311.2,399.4 L438.3,510.1" stroke-width="2.2"/>
<path d="M298.4,403.0 L333.7,437.1 L362.9,463.9 L394.5,491.9 L431.0,520.0" stroke-width="2.2"/>
<path d="M348.3,427.4 L372.6,409.1 L414.0,450.5 L401.8,476.0 L397.0,474.2Z" stroke-width="4.2"/>
<path d="M353.2,428.6 L373.8,414.0 L409.1,450.5 L399.4,471.2Z" stroke-width="1.4"/>
<path d="M415.8,452.9 L405.5,482.1" stroke-width="3.0"/>
<path d="M421.3,458.0 L411.0,486.5" stroke-width="3.0"/>
<path d="M426.8,463.1 L416.4,490.9" stroke-width="3.0"/>
<path d="M432.3,468.3 L421.9,495.3" stroke-width="3.0"/>
<path d="M437.7,473.4 L427.4,499.7" stroke-width="3.0"/>
<path d="M443.2,478.5 L432.9,504.0" stroke-width="3.0"/>
<path d="M448.7,483.6 L438.3,508.4" stroke-width="3.0"/>
<path d="M437.1,484.6 L446.9,482.1 L448.1,490.6 L439.6,505.3" stroke-width="3"/>
<path d="M316.9,401.2 L337.3,381.1 L349.5,389.0 L331.2,412.8Z" stroke-width="1.5" fill="#222"/>
<path d="M310.6,387.2 C310.9,386.4 312.0,382.3 313.0,381.1 C314.0,380.0 317.0,378.2 317.9,378.7 C318.7,379.2 318.9,384.0 319.1,384.8" stroke-width="3.6"/>
<path d="M315.7,382.6 C316.0,381.8 317.1,377.6 318.1,376.5 C319.1,375.4 322.2,373.6 323.0,374.1 C323.8,374.5 324.0,379.3 324.2,380.1" stroke-width="3.6"/>
<path d="M320.8,378.0 C321.1,377.1 322.2,373.0 323.2,371.9 C324.2,370.7 327.3,368.9 328.1,369.4 C328.9,369.9 329.1,374.7 329.3,375.5" stroke-width="3.6"/>
<path d="M325.9,373.3 C326.2,372.5 327.4,368.4 328.3,367.2 C329.3,366.1 332.4,364.3 333.2,364.8 C334.0,365.3 334.2,370.1 334.4,370.9" stroke-width="3.6"/>
<path d="M331.0,368.7 C331.3,367.9 332.5,363.8 333.4,362.6 C334.4,361.5 337.5,359.7 338.3,360.2 C339.1,360.7 339.4,365.5 339.5,366.3" stroke-width="3.6"/>
<path d="M336.1,364.1 C336.4,363.3 337.6,359.1 338.5,358.0 C339.5,356.9 342.6,355.1 343.4,355.6 C344.2,356.0 344.5,360.8 344.6,361.6" stroke-width="3.6"/>
<path d="M303.3,389.6 C304.1,390.1 308.0,393.1 309.3,393.3 C310.6,393.4 313.3,390.2 313.0,390.9 C312.7,391.5 307.7,397.2 306.9,398.2" stroke-width="3"/>
<ellipse cx="341.6" cy="360.4" rx="4.0" ry="5.0" transform="rotate(30 341.6 360.4)" stroke-width="2.2"/>
<ellipse cx="365.9" cy="385.4" rx="4.2" ry="5.0" transform="rotate(30 365.9 385.4)" stroke-width="2.2"/>
<ellipse cx="475.5" cy="481.5" rx="4.6" ry="3.6" transform="rotate(-20 475.5 481.5)" stroke-width="2.2"/>
<ellipse cx="465.1" cy="511.3" rx="4.2" ry="3.0" transform="rotate(-20 465.1 511.3)" stroke-width="2.2"/>
<path d="M339.8,420.1 L343.4,415.2 L350.7,420.1 L355.6,414.0 L360.5,403.0 L364.1,406.1 L360.5,412.8 L370.2,407.9" stroke-width="3"/>
<path d="M342.2,426.1 L370.2,407.9" stroke-width="2.4"/>
<path d="M300.8,407.9 C301.1,409.6 302.3,419.4 303.3,422.5 C304.2,425.6 307.2,431.8 309.3,434.7 C311.5,437.5 319.0,444.4 321.5,446.8 C324.1,449.2 329.3,454.4 331.2,455.4 C333.2,456.3 337.3,455.9 338.5,455.4 C339.8,454.8 342.1,451.9 342.2,450.5 C342.3,449.1 340.1,444.0 339.8,443.2" stroke-width="2.2"/>
<path d="M313.0,417.6 C313.4,419.2 315.1,428.2 316.6,431.0 C318.2,433.9 324.1,440.1 326.4,442.0 C328.7,443.8 335.0,446.3 336.1,446.8" stroke-width="2.2"/>
<path d="M319.1,422.5 C319.5,423.8 321.3,431.5 322.7,433.4 C324.1,435.4 330.3,438.8 331.2,439.5" stroke-width="3"/>
<ellipse cx="306.9" cy="415.2" rx="2.6" ry="3.4" transform="rotate(20 306.9 415.2)" stroke-width="1.8"/>
<path d="M467.6,473.6 C468.5,473.3 472.6,470.2 474.9,471.2 C477.1,472.1 483.3,479.6 484.6,480.9" stroke-width="1.8"/>
<path d="M454.8,480.9 C456.0,480.1 461.7,473.5 463.9,474.8 C466.1,476.1 471.0,486.9 471.2,490.6 C471.4,494.4 467.2,499.9 465.1,502.8 C463.0,505.7 456.7,511.3 455.4,512.6" stroke-width="1.8"/>
<path d="M484.6,487.0 C485.6,487.5 489.9,491.3 491.9,490.6 C493.8,490.0 498.2,483.3 499.2,482.1" stroke-width="1.8"/>
<path d="M487.6,450.0 C488.3,451.5 492.3,459.7 493.3,462.7 C494.3,465.6 494.5,472.6 496.1,475.4 C497.7,478.2 506.1,485.3 507.4,486.6" stroke-width="2.2"/>
<path d="M507.4,486.6 L539.8,519.1 L589.1,564.2 L594.8,571.2 L601.8,574.0 L613.1,569.1 L630.0,583.9 L631.4,599.4 L632.1,607.8 L628.6,616.3 L622.9,631.8" stroke-width="2.2"/>
<path d="M622.9,631.8 C622.1,632.4 616.7,636.7 614.5,638.1 C612.2,639.6 604.2,644.5 600.4,646.2 C596.6,647.8 579.7,654.0 576.4,654.6 C573.2,655.3 570.1,654.1 568.0,652.9 C565.9,651.8 556.6,644.1 555.3,643.1" stroke-width="2.6"/>
<path d="M453.8,531.7 L456.9,547.2 L461.2,558.8 L555.3,643.1" stroke-width="2.6"/>
<path d="M458.8,533.1 L462.3,548.6 L466.5,557.1 L553.9,634.6" stroke-width="1.4"/>
<path d="M420.0,510.6 C421.7,511.6 433.5,518.4 436.9,520.5 C440.3,522.6 450.9,531.6 453.8,531.7 C456.8,531.9 464.4,523.7 466.5,521.9 C468.6,520.0 473.0,516.1 475.0,513.4 C476.9,510.7 484.7,498.1 486.2,495.1 C487.8,492.1 490.0,485.0 490.5,483.8" stroke-width="2.0"/>
<path d="M434.1,512.0 C435.5,512.6 445.6,517.6 448.2,517.6 C450.7,517.6 457.5,513.8 459.5,512.0 C461.4,510.2 466.2,501.4 467.9,499.3 C469.6,497.2 475.0,493.0 476.4,490.9 C477.8,488.8 481.7,480.9 482.0,478.2 C482.3,475.5 479.5,465.5 479.2,464.1" stroke-width="2.0"/>
<path d="M452.4,482.4 C453.5,481.6 461.3,475.2 463.7,474.0 C466.1,472.7 474.1,470.9 476.4,469.7 C478.6,468.6 485.2,463.4 486.2,462.7" stroke-width="1.8"/>
<path d="M462.3,474.0 C462.8,475.1 465.9,483.8 467.9,485.2 C469.9,486.6 478.9,487.3 482.0,488.1 C485.1,488.8 497.2,491.9 498.9,492.3" stroke-width="1.8"/>
<path d="M496.1,478.2 C495.5,479.3 491.3,486.6 490.5,489.5 C489.6,492.3 487.6,503.8 487.6,506.4 C487.6,508.9 490.2,514.0 490.5,514.8" stroke-width="1.8"/>
<ellipse cx="475.7" cy="481.7" rx="4.6" ry="3.2" transform="rotate(-20 475.7 481.7)" stroke-width="2.2"/>
<ellipse cx="465.1" cy="511.3" rx="4.2" ry="2.8" transform="rotate(-20 465.1 511.3)" stroke-width="2"/>
<ellipse cx="532.7" cy="525.4" rx="3.6" ry="3.6" transform="rotate(0 532.7 525.4)" stroke-width="2.4"/>
<path d="M527.1,531.7 L539.8,519.1" stroke-width="1.4"/>
<ellipse cx="465.1" cy="555.0" rx="3.0" ry="3.4" transform="rotate(0 465.1 555.0)" stroke-width="1.8"/>
<ellipse cx="615.9" cy="595.9" rx="3.2" ry="3.2" transform="rotate(0 615.9 595.9)" stroke-width="2.6"/>
<ellipse cx="609.5" cy="633.2" rx="2.8" ry="2.8" transform="rotate(0 609.5 633.2)" stroke-width="1.8"/>
<ellipse cx="562.3" cy="642.4" rx="2.8" ry="2.8" transform="rotate(0 562.3 642.4)" stroke-width="1.8"/>
<path d="M510.2,488.1 C509.4,488.6 505.5,490.6 504.6,492.3 C503.6,494.0 502.7,498.1 503.1,500.7 C503.6,503.4 507.4,510.5 508.1,512.0" stroke-width="2.6"/>
<path d="M508.1,512.0 L560.9,562.7 L569.4,569.8 L579.2,571.5" stroke-width="2.4"/>
<path d="M504.6,509.2 L562.3,567.0" stroke-width="1.4"/>
<path d="M559.5,533.1 C559.0,533.9 555.9,536.9 555.3,538.8 C554.7,540.7 554.5,545.4 555.3,547.2 C556.0,549.1 560.2,552.1 560.9,552.9" stroke-width="2.4"/>
<path d="M560.9,552.9 L576.4,567.0 L583.5,568.4" stroke-width="2.2"/>
<path d="M559.5,533.1 L590.5,562.0 L587.7,566.3 L560.9,541.6" stroke-width="1.8"/>
<path d="M493.3,520.5 C491.8,519.7 485.0,515.2 482.0,514.8 C479.0,514.5 473.0,516.0 470.7,517.6 C468.5,519.2 466.0,523.8 465.1,526.8 C464.2,529.8 463.1,536.9 463.7,540.2 C464.3,543.5 468.6,550.0 469.3,551.5" stroke-width="2.6"/>
<path d="M469.3,551.5 L546.8,627.6 L555.3,637.4" stroke-width="2.6"/>
<path d="M555.3,637.4 C556.8,637.2 563.9,638.3 566.6,636.0 C569.2,633.8 573.7,624.1 575.0,620.5 C576.4,617.0 577.3,612.3 576.7,609.2 C576.1,606.2 573.8,600.8 570.8,598.0 C567.7,595.2 557.5,590.4 553.9,588.1 C550.3,585.9 545.5,583.1 544.0,581.1 C542.5,579.0 543.4,574.7 542.6,572.6 C541.9,570.5 538.9,566.5 538.4,565.6" stroke-width="2.4"/>
<path d="M538.4,565.6 L493.3,520.5" stroke-width="2.4"/>
<path d="M476.4,516.2 C475.8,517.9 472.1,525.0 472.1,528.9 C472.1,532.9 475.8,543.6 476.4,545.8" stroke-width="1.4"/>
<path d="M476.4,545.8 L549.7,624.8 L558.8,631.8 L565.9,627.9" stroke-width="1.6"/>
<path d="M496.1,519.1 L541.2,562.7" stroke-width="1.4"/>
<path d="M493.3,523.3 L537.0,567.0" stroke-width="1.2"/>
<path d="M546.8,627.6 C548.2,627.1 552.0,625.0 555.3,624.8 C558.6,624.5 564.7,625.9 566.6,626.2" stroke-width="1.6"/>
<path d="M575.0,581.1 L601.8,582.5 L570.8,585.6 L577.8,605.0 L586.3,627.9 L575.0,634.9 L560.9,639.1" stroke-width="2.4"/>
<path d="M575.0,581.1 L622.9,626.2" stroke-width="2.2"/>
<path d="M579.2,599.4 L615.9,634.6" stroke-width="2.0"/>
<path d="M589.1,574.0 L597.6,576.8 L607.4,572.6" stroke-width="1.6"/>
<path d="M613.1,569.1 L608.8,574.0 L625.8,588.8 L630.0,583.9" stroke-width="2"/>
<path d="M625.8,588.8 L624.3,605.0 L631.4,599.4" stroke-width="1.8"/>
<path d="M594.8,582.5 L620.1,606.4 L624.3,605.0" stroke-width="1.6"/>
<path d="M570.8,638.8 L576.4,654.3" stroke-width="1.6"/>
<path d="M576.4,648.7 L600.4,640.3 L601.8,645.9" stroke-width="1.6"/>
<path d="M529.9,568.4 L545.4,554.3" stroke-width="1.2"/>
<path d="M535.6,561.3 L537.0,567.0" stroke-width="1.2"/>

<g transform="translate(1.5 -1.7)"><path d="M298.4,403.0 C298.3,402.3 296.9,397.3 297.2,395.7 C297.4,394.1 299.0,389.6 300.8,387.2 C302.6,384.8 311.9,374.9 315.4,371.4 C319.0,367.8 332.8,354.8 336.1,351.9 C339.4,349.0 346.5,343.4 348.3,342.2 C350.1,341.0 353.2,339.8 354.4,339.7 C355.6,339.7 357.4,339.2 360.5,341.6 C363.5,343.9 380.5,359.9 384.8,362.9 C389.1,365.8 399.2,368.1 403.1,370.8 C406.9,373.4 417.4,383.2 423.7,389.6 C430.1,396.0 459.6,427.4 466.3,434.7 C473.0,442.0 487.9,459.2 490.7,462.7 C493.5,466.1 493.6,467.0 494.3,468.7 C495.1,470.4 496.4,477.6 498.0,479.7 C499.6,481.8 508.9,488.5 510.2,489.4" stroke-width="1.0"/>
<path d="M304.5,407.9 C304.1,406.9 300.9,400.0 300.8,398.2 C300.7,396.3 301.6,392.0 303.3,389.6 C305.0,387.3 314.3,377.8 317.9,374.4 C321.4,371.1 335.5,358.3 338.5,356.2 C341.6,354.0 347.0,352.9 348.3,353.1 C349.6,353.4 348.9,356.2 351.3,358.6 C353.8,361.0 368.4,374.5 372.6,376.9 C376.8,379.2 391.2,381.2 393.3,381.7" stroke-width="1.0"/>
<path d="M393.3,381.7 C396.9,385.4 428.9,418.8 435.9,426.1 C442.9,433.5 473.2,465.4 477.3,470.0 C481.3,474.5 484.3,479.0 484.6,480.9 C484.9,482.8 482.4,491.1 480.9,493.1 C479.5,495.1 470.7,503.0 467.6,505.3 C464.4,507.5 445.2,518.8 443.2,520.0" stroke-width="1.0"/>
<path d="M348.3,342.2 L344.6,353.1 L348.3,353.1" stroke-width="1.0"/>
<path d="M358.0,342.2 L350.7,354.3" stroke-width="1.0"/>
<path d="M379.9,364.1 C379.1,364.9 376.4,366.9 375.1,368.9 C373.7,371.0 372.5,375.0 372.0,376.2" stroke-width="1.0"/>
<path d="M403.1,370.8 L393.9,381.7" stroke-width="1.0"/>
<path d="M423.7,389.6 L414.0,398.2" stroke-width="1.0"/>
<path d="M429.8,398.2 L420.7,406.1" stroke-width="1.0"/>
<path d="M440.8,409.1 L431.0,417.0" stroke-width="1.0"/>
<path d="M448.1,416.4 L438.6,424.3" stroke-width="1.0"/>
<path d="M459.0,427.4 L449.3,434.9" stroke-width="1.0"/>
<path d="M466.3,434.7 L456.8,442.2" stroke-width="1.0"/>
<path d="M490.7,462.7 L478.5,470.0" stroke-width="1.0"/>
<path d="M398.2,401.8 L411.6,398.2 L418.9,403.0 L405.5,408.5Z" stroke-width="1.0"/>
<path d="M418.9,420.1 L431.0,417.6 L437.1,422.5 L425.0,426.8Z" stroke-width="1.0"/>
<path d="M437.1,438.3 L449.3,435.9 L454.8,441.0 L443.2,445.6Z" stroke-width="1.0"/>
<ellipse cx="445.6" cy="440.1" rx="3.2" ry="4.0" transform="rotate(30 445.6 440.1)" stroke-width="1.0"/>
<path d="M401.8,379.9 L405.5,378.1 L407.3,380.1 L410.4,378.7" stroke-width="1.0"/>
<path d="M338.5,368.9 L422.5,451.7 L453.0,484.6 L454.8,491.9 L443.2,510.1" stroke-width="1.0"/>
<path d="M345.9,366.5 L425.0,444.4 L460.3,480.9" stroke-width="1.0"/>
<path d="M304.5,407.9 L336.1,434.7 L434.7,512.6" stroke-width="1.0"/>
<path d="M311.2,399.4 L438.3,510.1" stroke-width="1.0"/>
<path d="M298.4,403.0 L333.7,437.1 L362.9,463.9 L394.5,491.9 L431.0,520.0" stroke-width="1.0"/>
<path d="M348.3,427.4 L372.6,409.1 L414.0,450.5 L401.8,476.0 L397.0,474.2Z" stroke-width="1.0"/>
<path d="M353.2,428.6 L373.8,414.0 L409.1,450.5 L399.4,471.2Z" stroke-width="1.0"/>
<path d="M415.8,452.9 L405.5,482.1" stroke-width="1.0"/>
<path d="M421.3,458.0 L411.0,486.5" stroke-width="1.0"/>
<path d="M426.8,463.1 L416.4,490.9" stroke-width="1.0"/>
<path d="M432.3,468.3 L421.9,495.3" stroke-width="1.0"/>
<path d="M437.7,473.4 L427.4,499.7" stroke-width="1.0"/>
<path d="M443.2,478.5 L432.9,504.0" stroke-width="1.0"/>
<path d="M448.7,483.6 L438.3,508.4" stroke-width="1.0"/>
<path d="M437.1,484.6 L446.9,482.1 L448.1,490.6 L439.6,505.3" stroke-width="1.0"/>
<path d="M316.9,401.2 L337.3,381.1 L349.5,389.0 L331.2,412.8Z" stroke-width="1.0" fill="none"/>
<path d="M310.6,387.2 C310.9,386.4 312.0,382.3 313.0,381.1 C314.0,380.0 317.0,378.2 317.9,378.7 C318.7,379.2 318.9,384.0 319.1,384.8" stroke-width="1.0"/>
<path d="M315.7,382.6 C316.0,381.8 317.1,377.6 318.1,376.5 C319.1,375.4 322.2,373.6 323.0,374.1 C323.8,374.5 324.0,379.3 324.2,380.1" stroke-width="1.0"/>
<path d="M320.8,378.0 C321.1,377.1 322.2,373.0 323.2,371.9 C324.2,370.7 327.3,368.9 328.1,369.4 C328.9,369.9 329.1,374.7 329.3,375.5" stroke-width="1.0"/>
<path d="M325.9,373.3 C326.2,372.5 327.4,368.4 328.3,367.2 C329.3,366.1 332.4,364.3 333.2,364.8 C334.0,365.3 334.2,370.1 334.4,370.9" stroke-width="1.0"/>
<path d="M331.0,368.7 C331.3,367.9 332.5,363.8 333.4,362.6 C334.4,361.5 337.5,359.7 338.3,360.2 C339.1,360.7 339.4,365.5 339.5,366.3" stroke-width="1.0"/>
<path d="M336.1,364.1 C336.4,363.3 337.6,359.1 338.5,358.0 C339.5,356.9 342.6,355.1 343.4,355.6 C344.2,356.0 344.5,360.8 344.6,361.6" stroke-width="1.0"/>
<path d="M303.3,389.6 C304.1,390.1 308.0,393.1 309.3,393.3 C310.6,393.4 313.3,390.2 313.0,390.9 C312.7,391.5 307.7,397.2 306.9,398.2" stroke-width="1.0"/>
<ellipse cx="341.6" cy="360.4" rx="4.0" ry="5.0" transform="rotate(30 341.6 360.4)" stroke-width="1.0"/>
<ellipse cx="365.9" cy="385.4" rx="4.2" ry="5.0" transform="rotate(30 365.9 385.4)" stroke-width="1.0"/>
<ellipse cx="475.5" cy="481.5" rx="4.6" ry="3.6" transform="rotate(-20 475.5 481.5)" stroke-width="1.0"/>
<ellipse cx="465.1" cy="511.3" rx="4.2" ry="3.0" transform="rotate(-20 465.1 511.3)" stroke-width="1.0"/>
<path d="M339.8,420.1 L343.4,415.2 L350.7,420.1 L355.6,414.0 L360.5,403.0 L364.1,406.1 L360.5,412.8 L370.2,407.9" stroke-width="1.0"/>
<path d="M342.2,426.1 L370.2,407.9" stroke-width="1.0"/>
<path d="M300.8,407.9 C301.1,409.6 302.3,419.4 303.3,422.5 C304.2,425.6 307.2,431.8 309.3,434.7 C311.5,437.5 319.0,444.4 321.5,446.8 C324.1,449.2 329.3,454.4 331.2,455.4 C333.2,456.3 337.3,455.9 338.5,455.4 C339.8,454.8 342.1,451.9 342.2,450.5 C342.3,449.1 340.1,444.0 339.8,443.2" stroke-width="1.0"/>
<path d="M313.0,417.6 C313.4,419.2 315.1,428.2 316.6,431.0 C318.2,433.9 324.1,440.1 326.4,442.0 C328.7,443.8 335.0,446.3 336.1,446.8" stroke-width="1.0"/>
<path d="M319.1,422.5 C319.5,423.8 321.3,431.5 322.7,433.4 C324.1,435.4 330.3,438.8 331.2,439.5" stroke-width="1.0"/>
<ellipse cx="306.9" cy="415.2" rx="2.6" ry="3.4" transform="rotate(20 306.9 415.2)" stroke-width="1.0"/>
<path d="M467.6,473.6 C468.5,473.3 472.6,470.2 474.9,471.2 C477.1,472.1 483.3,479.6 484.6,480.9" stroke-width="1.0"/>
<path d="M454.8,480.9 C456.0,480.1 461.7,473.5 463.9,474.8 C466.1,476.1 471.0,486.9 471.2,490.6 C471.4,494.4 467.2,499.9 465.1,502.8 C463.0,505.7 456.7,511.3 455.4,512.6" stroke-width="1.0"/>
<path d="M484.6,487.0 C485.6,487.5 489.9,491.3 491.9,490.6 C493.8,490.0 498.2,483.3 499.2,482.1" stroke-width="1.0"/>
<path d="M487.6,450.0 C488.3,451.5 492.3,459.7 493.3,462.7 C494.3,465.6 494.5,472.6 496.1,475.4 C497.7,478.2 506.1,485.3 507.4,486.6" stroke-width="1.0"/>
<path d="M507.4,486.6 L539.8,519.1 L589.1,564.2 L594.8,571.2 L601.8,574.0 L613.1,569.1 L630.0,583.9 L631.4,599.4 L632.1,607.8 L628.6,616.3 L622.9,631.8" stroke-width="1.0"/>
<path d="M622.9,631.8 C622.1,632.4 616.7,636.7 614.5,638.1 C612.2,639.6 604.2,644.5 600.4,646.2 C596.6,647.8 579.7,654.0 576.4,654.6 C573.2,655.3 570.1,654.1 568.0,652.9 C565.9,651.8 556.6,644.1 555.3,643.1" stroke-width="1.0"/>
<path d="M453.8,531.7 L456.9,547.2 L461.2,558.8 L555.3,643.1" stroke-width="1.0"/>
<path d="M458.8,533.1 L462.3,548.6 L466.5,557.1 L553.9,634.6" stroke-width="1.0"/>
<path d="M420.0,510.6 C421.7,511.6 433.5,518.4 436.9,520.5 C440.3,522.6 450.9,531.6 453.8,531.7 C456.8,531.9 464.4,523.7 466.5,521.9 C468.6,520.0 473.0,516.1 475.0,513.4 C476.9,510.7 484.7,498.1 486.2,495.1 C487.8,492.1 490.0,485.0 490.5,483.8" stroke-width="1.0"/>
<path d="M434.1,512.0 C435.5,512.6 445.6,517.6 448.2,517.6 C450.7,517.6 457.5,513.8 459.5,512.0 C461.4,510.2 466.2,501.4 467.9,499.3 C469.6,497.2 475.0,493.0 476.4,490.9 C477.8,488.8 481.7,480.9 482.0,478.2 C482.3,475.5 479.5,465.5 479.2,464.1" stroke-width="1.0"/>
<path d="M452.4,482.4 C453.5,481.6 461.3,475.2 463.7,474.0 C466.1,472.7 474.1,470.9 476.4,469.7 C478.6,468.6 485.2,463.4 486.2,462.7" stroke-width="1.0"/>
<path d="M462.3,474.0 C462.8,475.1 465.9,483.8 467.9,485.2 C469.9,486.6 478.9,487.3 482.0,488.1 C485.1,488.8 497.2,491.9 498.9,492.3" stroke-width="1.0"/>
<path d="M496.1,478.2 C495.5,479.3 491.3,486.6 490.5,489.5 C489.6,492.3 487.6,503.8 487.6,506.4 C487.6,508.9 490.2,514.0 490.5,514.8" stroke-width="1.0"/>
<ellipse cx="475.7" cy="481.7" rx="4.6" ry="3.2" transform="rotate(-20 475.7 481.7)" stroke-width="1.0"/>
<ellipse cx="465.1" cy="511.3" rx="4.2" ry="2.8" transform="rotate(-20 465.1 511.3)" stroke-width="1.0"/>
<ellipse cx="532.7" cy="525.4" rx="3.6" ry="3.6" transform="rotate(0 532.7 525.4)" stroke-width="1.0"/>
<path d="M527.1,531.7 L539.8,519.1" stroke-width="1.0"/>
<ellipse cx="465.1" cy="555.0" rx="3.0" ry="3.4" transform="rotate(0 465.1 555.0)" stroke-width="1.0"/>
<ellipse cx="615.9" cy="595.9" rx="3.2" ry="3.2" transform="rotate(0 615.9 595.9)" stroke-width="1.0"/>
<ellipse cx="609.5" cy="633.2" rx="2.8" ry="2.8" transform="rotate(0 609.5 633.2)" stroke-width="1.0"/>
<ellipse cx="562.3" cy="642.4" rx="2.8" ry="2.8" transform="rotate(0 562.3 642.4)" stroke-width="1.0"/>
<path d="M510.2,488.1 C509.4,488.6 505.5,490.6 504.6,492.3 C503.6,494.0 502.7,498.1 503.1,500.7 C503.6,503.4 507.4,510.5 508.1,512.0" stroke-width="1.0"/>
<path d="M508.1,512.0 L560.9,562.7 L569.4,569.8 L579.2,571.5" stroke-width="1.0"/>
<path d="M504.6,509.2 L562.3,567.0" stroke-width="1.0"/>
<path d="M559.5,533.1 C559.0,533.9 555.9,536.9 555.3,538.8 C554.7,540.7 554.5,545.4 555.3,547.2 C556.0,549.1 560.2,552.1 560.9,552.9" stroke-width="1.0"/>
<path d="M560.9,552.9 L576.4,567.0 L583.5,568.4" stroke-width="1.0"/>
<path d="M559.5,533.1 L590.5,562.0 L587.7,566.3 L560.9,541.6" stroke-width="1.0"/>
<path d="M493.3,520.5 C491.8,519.7 485.0,515.2 482.0,514.8 C479.0,514.5 473.0,516.0 470.7,517.6 C468.5,519.2 466.0,523.8 465.1,526.8 C464.2,529.8 463.1,536.9 463.7,540.2 C464.3,543.5 468.6,550.0 469.3,551.5" stroke-width="1.0"/>
<path d="M469.3,551.5 L546.8,627.6 L555.3,637.4" stroke-width="1.0"/>
<path d="M555.3,637.4 C556.8,637.2 563.9,638.3 566.6,636.0 C569.2,633.8 573.7,624.1 575.0,620.5 C576.4,617.0 577.3,612.3 576.7,609.2 C576.1,606.2 573.8,600.8 570.8,598.0 C567.7,595.2 557.5,590.4 553.9,588.1 C550.3,585.9 545.5,583.1 544.0,581.1 C542.5,579.0 543.4,574.7 542.6,572.6 C541.9,570.5 538.9,566.5 538.4,565.6" stroke-width="1.0"/>
<path d="M538.4,565.6 L493.3,520.5" stroke-width="1.0"/>
<path d="M476.4,516.2 C475.8,517.9 472.1,525.0 472.1,528.9 C472.1,532.9 475.8,543.6 476.4,545.8" stroke-width="1.0"/>
<path d="M476.4,545.8 L549.7,624.8 L558.8,631.8 L565.9,627.9" stroke-width="1.0"/>
<path d="M496.1,519.1 L541.2,562.7" stroke-width="1.0"/>
<path d="M493.3,523.3 L537.0,567.0" stroke-width="1.0"/>
<path d="M546.8,627.6 C548.2,627.1 552.0,625.0 555.3,624.8 C558.6,624.5 564.7,625.9 566.6,626.2" stroke-width="1.0"/>
<path d="M575.0,581.1 L601.8,582.5 L570.8,585.6 L577.8,605.0 L586.3,627.9 L575.0,634.9 L560.9,639.1" stroke-width="1.0"/>
<path d="M575.0,581.1 L622.9,626.2" stroke-width="1.0"/>
<path d="M579.2,599.4 L615.9,634.6" stroke-width="1.0"/>
<path d="M589.1,574.0 L597.6,576.8 L607.4,572.6" stroke-width="1.0"/>
<path d="M613.1,569.1 L608.8,574.0 L625.8,588.8 L630.0,583.9" stroke-width="1.0"/>
<path d="M625.8,588.8 L624.3,605.0 L631.4,599.4" stroke-width="1.0"/>
<path d="M594.8,582.5 L620.1,606.4 L624.3,605.0" stroke-width="1.0"/>
<path d="M570.8,638.8 L576.4,654.3" stroke-width="1.0"/>
<path d="M576.4,648.7 L600.4,640.3 L601.8,645.9" stroke-width="1.0"/>
<path d="M529.9,568.4 L545.4,554.3" stroke-width="1.0"/>
<path d="M535.6,561.3 L537.0,567.0" stroke-width="1.0"/>
</g>
<!-- p_rh.svg -->
<path d="M1012.5,144.6 C1013.3,144.0 1017.9,140.7 1020.0,139.4 C1022.1,138.1 1028.5,134.5 1030.3,133.6 C1032.2,132.8 1034.7,132.1 1036.1,132.1 C1037.5,132.1 1041.0,132.9 1042.5,133.6 C1043.9,134.4 1044.8,135.1 1048.8,138.3 C1052.8,141.4 1069.8,154.8 1076.5,160.7 C1083.2,166.7 1099.1,182.4 1106.5,189.6 C1113.9,196.7 1134.1,215.8 1139.9,221.9 C1145.7,227.9 1153.0,237.4 1156.1,241.5 C1159.2,245.5 1164.8,253.5 1166.4,256.5 C1168.1,259.4 1170.1,265.0 1170.5,266.8 C1170.9,268.7 1170.0,270.8 1169.7,272.2 C1169.4,273.5 1167.4,276.9 1167.9,278.3 C1168.4,279.6 1171.8,282.1 1174.0,283.7 C1176.1,285.3 1184.7,290.9 1186.1,291.9" stroke-width="2.0"/>
<path d="M1015.4,148.1 C1016.2,147.5 1021.2,144.2 1022.9,143.7 C1024.5,143.1 1027.1,142.1 1029.2,143.4 C1031.3,144.8 1038.2,152.5 1040.7,155.0 C1043.3,157.5 1048.4,163.0 1051.1,164.8 C1053.8,166.5 1061.5,168.9 1063.8,170.0 C1066.1,171.0 1067.5,170.9 1070.7,173.7 C1073.9,176.4 1086.9,188.9 1091.5,193.3 C1096.0,197.7 1106.2,207.6 1109.9,211.5 C1113.7,215.4 1120.3,223.0 1123.8,226.5 C1127.3,229.9 1136.4,237.3 1139.9,240.9 C1143.4,244.5 1151.3,253.8 1153.7,257.0 C1156.2,260.3 1159.6,266.2 1160.7,268.6 C1161.7,270.9 1162.7,276.2 1163.0,277.2" stroke-width="3.2"/>
<path d="M1029.2,134.8 C1030.5,135.1 1035.3,134.2 1040.7,137.7 C1046.1,141.1 1067.9,157.7 1075.3,164.2 C1082.7,170.7 1097.4,186.2 1104.2,193.0 C1110.9,199.9 1127.1,216.6 1133.0,223.0 C1138.9,229.5 1151.3,243.7 1154.9,248.4 C1158.5,253.1 1163.1,261.6 1164.1,263.4" stroke-width="1.2"/>
<path d="M1012.5,144.6 C1012.3,145.1 1012.8,146.6 1010.7,148.6 C1008.7,150.7 997.8,159.1 994.6,161.9 C991.4,164.7 985.4,170.8 983.1,172.9 C980.8,174.9 976.2,177.9 975.0,179.2 C973.8,180.5 973.0,183.3 972.7,183.8" stroke-width="3.0"/>
<path d="M1024.6,151.5 C1023.4,152.3 1017.3,155.7 1014.2,158.4 C1011.1,161.1 1001.0,171.5 998.1,174.6 C995.1,177.7 990.2,182.7 988.8,185.0 C987.5,187.2 986.8,193.1 986.5,194.2" stroke-width="2.0"/>
<path d="M1029.2,143.4 L1024.6,151.5 L1028.0,156.1 L1033.8,148.1" stroke-width="2"/>
<path d="M1051.1,164.8 C1051.9,163.9 1053.6,161.0 1055.7,159.6 C1057.8,158.1 1060.7,156.8 1063.8,156.1 C1066.9,155.5 1072.4,155.7 1074.2,155.6" stroke-width="1.6"/>
<path d="M1076.5,160.7 L1070.7,173.7" stroke-width="2"/>
<path d="M1096.7,183.8 L1091.5,193.3" stroke-width="1.6"/>
<path d="M1104.7,191.3 L1100.1,201.1" stroke-width="1.6"/>
<path d="M1118.0,204.6 L1113.4,213.8" stroke-width="1.6"/>
<path d="M1123.8,210.3 L1119.7,219.6" stroke-width="1.6"/>
<path d="M1135.3,220.7 L1130.7,229.9" stroke-width="1.6"/>
<path d="M1140.5,225.9 L1135.9,235.1" stroke-width="1.6"/>
<path d="M1165.3,255.3 L1160.7,259.9" stroke-width="1.6"/>
<path d="M968.6,186.1 C968.9,186.6 971.4,189.5 971.5,190.7 C971.6,192.0 969.6,197.3 969.8,198.8 C970.0,200.3 973.1,204.2 973.8,205.7 C974.6,207.2 977.1,212.3 977.3,213.8 C977.5,215.3 975.9,219.4 976.1,220.7 C976.4,222.0 978.9,225.4 980.2,227.1 C981.5,228.7 987.0,235.0 988.8,236.9 C990.6,238.8 996.2,244.2 998.1,246.1 C999.9,248.0 1005.8,254.9 1007.3,255.5 C1008.7,256.2 1011.8,254.1 1012.5,253.0 C1013.1,251.9 1013.7,246.5 1013.6,244.9 C1013.5,243.3 1012.3,238.9 1011.3,236.9 C1010.3,234.8 1005.2,226.5 1003.8,224.2 C1002.5,221.9 999.2,215.6 998.1,213.8 C997.0,211.9 993.4,206.5 992.9,205.7" stroke-width="3.0"/>
<path d="M977.3,183.8 C978.1,183.2 980.9,180.4 983.1,179.2 C985.2,178.0 991.4,174.7 993.4,174.6 C995.4,174.4 997.9,176.2 998.1,178.0 C998.2,179.9 995.7,185.8 994.6,188.4 C993.5,191.0 991.3,195.8 990.0,197.6 C988.7,199.5 986.2,202.0 984.8,202.3 C983.4,202.6 980.6,201.2 979.6,200.0 C978.6,198.7 977.6,195.2 977.3,193.0 C977.0,190.9 977.3,185.0 977.3,183.8" stroke-width="2.2"/>
<path d="M983.1,186.1 C983.7,186.0 986.9,184.3 987.7,185.0 C988.4,185.6 989.2,189.0 988.8,190.7 C988.4,192.4 985.7,197.0 984.8,197.6 C983.9,198.3 982.1,196.9 981.9,195.3 C981.7,193.8 982.9,187.3 983.1,186.1" stroke-width="2"/>
<path d="M981.3,225.3 L990.0,219.6" stroke-width="2"/>
<path d="M988.8,235.7 L998.1,229.9" stroke-width="2"/>
<path d="M996.9,244.9 L1006.1,238.6" stroke-width="2"/>
<path d="M984.8,214.4 L994.6,225.3 L1006.1,238.0 L1012.5,244.9" stroke-width="2.4"/>
<path d="M994.6,205.7 L999.2,217.3 L1006.1,229.9 L1011.3,236.9" stroke-width="2.4"/>
<path d="M1000.4,167.7 L1006.1,164.2 L1007.3,167.7" stroke-width="2.4"/>
<path d="M998.1,183.8 L1008.4,174.6 L1014.2,170.0 L1022.3,158.4" stroke-width="2"/>
<path d="M994.6,190.7 L1005.6,180.3 L1014.2,174.6 L1026.9,157.3" stroke-width="1.6"/>
<path d="M1029.2,159.6 L1035.0,156.1 L1043.0,165.4 L1031.5,183.8 L1024.6,179.2 L1022.3,172.3Z" stroke-width="1.5" fill="#111"/>
<path d="M1015.4,178.0 L1022.3,183.8 L1028.0,188.4" stroke-width="2"/>
<path d="M1017.7,174.6 L1028.0,183.8" stroke-width="2"/>
<path d="M1014.2,180.3 L1020.0,186.1 L1025.7,183.8 L1019.4,178.0Z" stroke-width="1.5"/>
<path d="M992.9,205.7 C993.4,205.4 996.7,201.9 998.1,202.3 C999.4,202.6 1004.9,207.6 1006.1,209.2 C1007.4,210.8 1010.2,216.7 1010.7,218.4 C1011.3,220.1 1011.6,225.1 1011.9,226.5 C1012.2,227.9 1011.4,229.5 1014.2,232.2 C1017.0,235.0 1035.0,249.7 1039.6,253.6 C1044.2,257.4 1056.8,267.9 1060.3,270.9 C1063.9,273.8 1072.9,281.1 1075.3,283.0 C1077.7,284.9 1083.6,289.3 1084.6,290.0" stroke-width="2.4"/>
<path d="M996.9,200.0 C998.1,199.0 1005.8,192.9 1008.4,190.7 C1011.0,188.5 1020.8,178.2 1022.9,178.0 C1024.9,177.9 1028.6,188.4 1029.2,189.6" stroke-width="2"/>
<path d="M1006.1,209.2 L1022.9,195.3 L1029.2,189.6 L1082.2,240.3" stroke-width="2.2"/>
<path d="M1010.7,216.1 L1022.3,205.7 L1022.9,213.8 L1010.7,224.2" stroke-width="2"/>
<path d="M1009.6,190.7 L1024.6,202.3 L1067.3,243.8 L1086.9,259.9 L1104.2,274.9" stroke-width="1.6"/>
<path d="M1011.9,226.5 L1020.0,220.7 L1029.2,228.8 L1047.6,234.6 L1045.3,240.3 L1036.1,243.8 L1029.2,241.5" stroke-width="1.8"/>
<path d="M1029.2,241.5 L1036.1,233.4" stroke-width="1.6"/>
<path d="M1014.2,232.2 L1040.7,254.2 L1047.6,246.1 L1051.1,249.5 L1044.2,257.6" stroke-width="2"/>
<path d="M1047.6,234.6 L1070.7,255.3 L1076.5,263.4 L1074.2,269.2 L1068.4,273.8" stroke-width="1.6"/>
<path d="M1068.4,226.5 L1090.3,198.8 L1093.8,202.3 L1072.4,229.9" stroke-width="2.2"/>
<path d="M1044.2,253.0 L1068.4,227.6" stroke-width="2.2"/>
<path d="M1048.8,256.5 L1072.4,231.1" stroke-width="1.6"/>
<path d="M1082.2,240.3 L1106.5,211.5 L1108.8,216.1 L1085.7,243.8" stroke-width="2.2"/>
<path d="M1059.2,268.0 L1082.2,241.5" stroke-width="2.2"/>
<path d="M1063.8,271.5 L1085.7,244.9" stroke-width="1.6"/>
<path d="M1075.3,225.3 L1084.6,233.4" stroke-width="2"/>
<path d="M1079.9,219.6 L1090.3,228.8" stroke-width="2"/>
<path d="M1085.7,212.6 L1096.1,221.9" stroke-width="2"/>
<path d="M1090.3,205.7 L1101.9,216.1" stroke-width="2"/>
<path d="M1082.2,233.4 L1090.3,223.0" stroke-width="2.4"/>
<path d="M1088.0,227.6 L1096.1,217.3" stroke-width="2"/>
<path d="M1043.0,189.6 L1047.6,187.3 L1045.3,196.5 L1051.1,190.7 L1055.7,183.8 L1060.3,186.1 L1063.8,180.3 L1067.3,175.7 L1064.9,183.8" stroke-width="2.4"/>
<path d="M1045.3,196.5 L1043.0,201.1 L1028.0,190.7" stroke-width="1.6"/>
<path d="M1045.3,172.3 C1045.6,171.8 1046.7,169.1 1047.6,168.8 C1048.6,168.5 1051.8,169.2 1052.3,170.0 C1052.7,170.7 1051.7,173.7 1051.1,174.6 C1050.5,175.5 1048.4,177.2 1047.6,176.9 C1046.9,176.6 1045.6,172.9 1045.3,172.3" stroke-width="2.4"/>
<path d="M1083.4,195.3 L1089.2,194.8 L1088.0,201.1" stroke-width="2.4"/>
<path d="M1108.8,224.2 L1114.5,226.5 L1115.7,221.9 L1111.1,218.4Z" stroke-width="2.4"/>
<path d="M1115.7,238.0 L1121.5,235.7 L1126.1,240.3 L1121.5,243.8 L1115.7,238.0" stroke-width="2.4"/>
<path d="M1088.0,247.2 L1096.1,241.5 L1100.7,244.9 L1092.6,251.3Z" stroke-width="2.2"/>
<path d="M1093.8,248.4 L1113.4,264.5 L1108.8,258.8 L1114.5,253.0 L1118.0,256.5" stroke-width="1.6"/>
<path d="M1121.5,246.1 L1116.3,264.0" stroke-width="2.0"/>
<path d="M1125.8,250.5 L1120.7,268.3" stroke-width="2.0"/>
<path d="M1130.2,254.9 L1125.0,272.7" stroke-width="2.0"/>
<path d="M1134.6,259.2 L1129.4,277.1" stroke-width="2.0"/>
<path d="M1139.0,263.6 L1133.8,281.5" stroke-width="2.0"/>
<path d="M1143.4,268.0 L1138.2,285.9" stroke-width="2.0"/>
<path d="M1147.8,272.4 L1142.6,290.3" stroke-width="2.0"/>
<path d="M1152.1,276.8 L1146.9,294.6" stroke-width="2.0"/>
<path d="M1156.5,281.1 L1151.3,299.0" stroke-width="2.0"/>
<path d="M1119.2,239.2 C1120.1,239.3 1126.3,239.2 1128.4,240.3 C1130.5,241.5 1137.6,248.4 1139.9,250.7 C1142.2,253.0 1149.5,260.8 1151.4,263.4 C1153.4,265.9 1158.4,273.4 1159.5,276.1 C1160.7,278.7 1162.6,288.6 1163.0,290.0" stroke-width="2.2"/>
<path d="M1115.7,263.4 C1116.5,264.4 1122.0,271.8 1123.8,273.8 C1125.5,275.7 1131.4,281.4 1133.0,283.0 C1134.6,284.6 1139.2,289.3 1139.9,290.0" stroke-width="2"/>
<path d="M1075.3,271.5 C1076.7,270.5 1084.0,264.2 1086.9,263.4 C1089.7,262.6 1097.0,263.6 1099.5,264.5 C1102.1,265.5 1106.9,271.6 1108.8,271.5 C1110.7,271.3 1114.9,264.3 1115.7,263.4" stroke-width="2"/>
<path d="M1075.3,280.7 C1076.4,279.9 1082.1,274.8 1084.6,273.8 C1087.0,272.7 1093.7,271.2 1096.1,271.5 C1098.5,271.7 1104.2,275.5 1105.3,276.1" stroke-width="1.6"/>
<path d="M1101.9,290.0 L1108.8,281.8 L1111.1,284.1" stroke-width="2.6"/>
<path d="M1068.4,273.8 L1074.2,279.5 L1079.9,274.9" stroke-width="1.6"/>
<path d="M1186.1,291.9 C1188.9,294.6 1223.1,328.2 1227.5,332.4 C1231.9,336.7 1249.4,353.4 1251.9,355.5 C1254.4,357.7 1263.7,363.8 1265.3,364.7 C1266.8,365.5 1274.3,368.4 1275.0,368.7" stroke-width="2.0"/>
<path d="M1275.0,368.7 L1284.7,364.9 L1300.5,377.8 L1303.6,382.9 L1304.4,412.1" stroke-width="3"/>
<path d="M1304.4,412.1 C1303.6,413.3 1299.8,419.8 1296.9,422.5 C1294.0,425.2 1284.1,432.5 1279.9,435.3 C1275.6,438.0 1264.1,444.5 1260.4,446.2 C1256.7,447.9 1250.6,449.4 1248.2,449.6 C1245.8,449.8 1241.4,449.1 1239.7,448.0 C1238.0,446.9 1234.3,441.0 1233.6,440.1" stroke-width="3"/>
<path d="M1158.2,280.7 L1175.2,295.3 L1211.7,330.0 L1249.4,365.9" stroke-width="4.5"/>
<path d="M1167.9,278.3 L1227.5,335.5 L1253.1,359.8" stroke-width="2.4"/>
<path d="M1150.9,284.3 L1174.0,306.2 L1209.3,339.1 L1237.3,365.9" stroke-width="2.4"/>
<path d="M1187.4,306.2 L1248.2,363.4" stroke-width="2.0"/>
<path d="M1203.2,323.3 L1212.9,337.9 L1242.1,364.7" stroke-width="5"/>
<path d="M1158.2,317.2 L1211.7,367.1" stroke-width="3.2"/>
<path d="M1163.0,315.4 L1212.9,361.0" stroke-width="1.6"/>
<path d="M1174.0,306.2 L1167.9,312.3" stroke-width="2"/>
<path d="M1184.9,316.0 L1177.6,324.5" stroke-width="2.4"/>
<ellipse cx="1177.9" cy="315.7" rx="2.6" ry="2.6" transform="rotate(0 1177.9 315.7)" stroke-width="2" fill="#111"/>
<path d="M1090.0,274.6 C1091.1,275.5 1098.5,281.1 1101.0,283.1 C1103.4,285.2 1112.3,292.7 1114.3,295.3 C1116.4,297.8 1120.7,305.8 1121.6,308.7 C1122.6,311.6 1123.5,321.6 1124.1,324.5 C1124.7,327.4 1126.9,335.3 1127.7,337.9 C1128.5,340.5 1130.9,348.7 1132.0,350.7 C1133.1,352.7 1138.0,357.2 1138.7,358.0" stroke-width="3"/>
<path d="M1090.0,263.7 L1104.6,275.8 L1126.5,296.5 L1141.1,311.1" stroke-width="2.4"/>
<path d="M1090.0,290.4 L1097.3,295.3 L1120.4,317.2 L1124.1,324.5" stroke-width="3.0"/>
<path d="M1092.4,285.6 L1122.9,312.3 L1131.4,313.5 L1142.3,312.3" stroke-width="1.8"/>
<path d="M1099.7,284.3 L1105.8,280.7" stroke-width="5"/>
<path d="M1113.7,296.5 L1119.8,292.3" stroke-width="5"/>
<path d="M1120.4,317.2 L1125.3,311.1" stroke-width="1.6"/>
<path d="M1125.3,298.9 L1126.5,308.7" stroke-width="1.6"/>
<path d="M1148.4,280.7 L1153.3,273.4 L1159.4,271.0 L1164.2,279.5 L1158.2,284.3Z" stroke-width="2" fill="#111"/>
<path d="M1163.0,260.0 C1163.7,260.9 1168.5,265.3 1169.1,267.3 C1169.7,269.3 1168.6,275.1 1167.9,277.0 C1167.2,279.0 1164.2,282.2 1163.0,284.3 C1161.9,286.5 1159.3,293.3 1158.2,295.3 C1157.0,297.3 1154.4,300.4 1153.3,301.4 C1152.1,302.4 1149.0,303.5 1148.4,303.8" stroke-width="2"/>
<path d="M1141.1,300.2 C1141.8,299.0 1145.8,292.3 1147.2,290.4 C1148.6,288.6 1152.0,284.6 1153.3,284.3 C1154.6,284.1 1158.2,286.6 1158.2,288.0 C1158.2,289.4 1154.6,294.8 1153.3,296.5 C1152.0,298.2 1148.5,301.7 1147.2,302.6 C1145.9,303.5 1143.0,304.7 1142.3,304.4 C1141.6,304.1 1141.3,300.7 1141.1,300.2" stroke-width="2.4"/>
<ellipse cx="1143.5" cy="302.0" rx="2.5" ry="2.5" transform="rotate(0 1143.5 302.0)" stroke-width="2" fill="#111"/>
<path d="M1153.3,264.9 L1158.2,274.6" stroke-width="4"/>
<path d="M1138.7,313.5 C1139.5,313.4 1145.3,312.2 1147.2,311.7 C1149.1,311.2 1156.1,309.2 1158.2,308.7 C1160.2,308.1 1165.9,306.6 1167.9,306.2 C1169.8,305.9 1176.7,305.2 1177.6,305.0" stroke-width="2"/>
<path d="M1155.7,315.4 C1154.9,315.2 1150.0,313.9 1148.4,314.2 C1146.9,314.4 1143.5,316.6 1142.3,317.8 C1141.2,319.0 1139.0,322.4 1138.7,324.5 C1138.3,326.6 1138.7,333.0 1139.3,335.5 C1139.9,337.9 1141.9,343.1 1143.5,345.2 C1145.2,347.3 1152.1,352.7 1153.3,353.7" stroke-width="3.0"/>
<path d="M1158.2,318.4 C1157.3,318.3 1152.3,316.9 1150.9,317.2 C1149.4,317.5 1146.3,319.6 1145.4,320.9 C1144.5,322.1 1143.1,326.2 1142.9,328.2 C1142.8,330.1 1143.4,335.9 1144.2,337.9 C1144.9,339.9 1148.3,343.7 1149.6,345.2 C1151.0,346.7 1155.0,350.0 1155.7,350.7" stroke-width="1.6"/>
<path d="M1153.3,353.7 L1228.7,421.9 L1236.0,422.1" stroke-width="3.0"/>
<path d="M1155.7,350.7 L1223.9,412.1" stroke-width="1.6"/>
<path d="M1155.7,315.4 L1175.2,333.0 L1211.7,364.7 L1239.7,389.0" stroke-width="2.4"/>
<path d="M1239.7,389.0 C1240.7,389.7 1245.4,391.9 1247.0,393.9 C1248.6,395.8 1251.7,400.9 1251.9,403.6 C1252.0,406.4 1250.3,412.1 1248.2,414.6 C1246.1,417.0 1237.7,421.1 1236.0,422.1" stroke-width="2.6"/>
<path d="M1236.0,386.6 C1237.2,387.4 1242.8,390.4 1244.6,392.7 C1246.3,394.9 1249.3,400.9 1249.4,403.6 C1249.6,406.4 1247.9,411.2 1245.8,413.3 C1243.7,415.5 1235.2,418.6 1233.6,419.4" stroke-width="1.4"/>
<path d="M1138.7,358.0 L1223.9,430.4 L1233.6,440.1" stroke-width="3.2"/>
<path d="M1143.5,356.1 L1226.3,426.7" stroke-width="1.6"/>
<path d="M1131.4,350.7 C1131.9,350.3 1133.9,347.7 1135.0,347.6 C1136.2,347.5 1139.4,348.9 1139.9,350.1 C1140.4,351.2 1139.5,355.5 1138.7,356.1 C1137.9,356.8 1134.8,355.7 1133.8,354.9 C1132.8,354.2 1131.7,351.2 1131.4,350.7" stroke-width="2"/>
<path d="M1195.9,370.1 L1221.4,392.7" stroke-width="3.2"/>
<path d="M1203.2,385.4 C1203.7,384.9 1205.7,382.0 1206.8,381.7 C1208.0,381.4 1210.9,382.1 1211.7,382.9 C1212.5,383.7 1213.2,386.7 1212.9,387.8 C1212.6,388.9 1210.3,391.0 1209.3,391.4 C1208.2,391.8 1205.8,391.6 1205.0,390.8 C1204.2,390.0 1203.4,386.1 1203.2,385.4" stroke-width="2.6"/>
<ellipse cx="1208.1" cy="386.8" rx="2.6" ry="3.6" transform="rotate(20 1208.1 386.8)" stroke-width="1.6"/>
<path d="M1215.4,396.3 C1216.0,396.0 1218.3,394.0 1220.2,393.9 C1222.2,393.7 1228.2,394.3 1230.0,395.1 C1231.7,395.9 1233.6,398.7 1233.6,400.0 C1233.6,401.3 1231.7,404.1 1230.0,404.8 C1228.2,405.6 1222.2,405.8 1220.2,405.4 C1218.3,405.1 1216.0,403.6 1215.4,402.4 C1214.7,401.2 1215.4,397.1 1215.4,396.3" stroke-width="2.8"/>
<ellipse cx="1219.6" cy="399.7" rx="3.2" ry="4.0" transform="rotate(20 1219.6 399.7)" stroke-width="1.8"/>
<ellipse cx="1228.1" cy="400.2" rx="3.0" ry="3.6" transform="rotate(20 1228.1 400.2)" stroke-width="1.4"/>
<path d="M1211.7,367.1 L1216.6,352.5 L1211.7,356.1 L1208.1,354.9" stroke-width="1.8"/>
<path d="M1211.7,381.7 L1215.4,369.5 L1219.0,376.8 L1223.9,379.3 L1237.3,381.7 L1242.1,376.8" stroke-width="1.8"/>
<path d="M1216.6,367.1 L1222.7,348.8 L1219.0,376.8" stroke-width="1.6"/>
<path d="M1221.4,357.4 L1239.7,374.4 L1237.3,381.7" stroke-width="2.2"/>
<path d="M1226.3,354.9 L1243.3,369.5" stroke-width="1.6"/>
<path d="M1247.0,369.5 L1253.1,363.4 L1260.4,369.5 L1254.3,376.8 L1250.6,374.4" stroke-width="2.4"/>
<path d="M1253.1,376.8 L1275.0,398.7 L1279.9,404.8" stroke-width="2"/>
<path d="M1254.3,382.9 L1296.9,418.2" stroke-width="4"/>
<path d="M1284.7,364.9 L1270.1,379.3 L1275.0,382.9 L1279.9,376.8 L1289.6,384.1 L1284.7,389.0" stroke-width="2.6"/>
<path d="M1300.5,377.8 L1295.7,401.2 L1289.6,391.4 L1284.7,393.9 L1296.9,410.9 L1301.8,404.8" stroke-width="2.6"/>
<path d="M1260.4,369.5 L1272.6,380.5" stroke-width="1.6"/>
<path d="M1265.3,364.7 L1279.9,375.6" stroke-width="1.6"/>
<path d="M1279.9,404.8 L1270.1,413.3 L1262.8,409.7 L1258.0,396.3" stroke-width="2"/>
<path d="M1260.4,396.3 L1262.8,406.0 L1253.1,415.8 L1245.8,421.9" stroke-width="2.4"/>
<path d="M1266.5,397.5 L1251.9,412.1" stroke-width="1.6"/>
<path d="M1271.9,402.4 L1257.3,417.0" stroke-width="1.6"/>
<path d="M1277.4,407.3 L1262.8,421.9" stroke-width="1.6"/>
<path d="M1282.9,412.1 L1268.3,426.7" stroke-width="1.6"/>
<path d="M1288.4,417.0 L1273.8,431.6" stroke-width="1.6"/>
<path d="M1242.1,428.0 L1260.4,417.0 L1272.6,421.9 L1265.3,432.8 L1275.0,428.0" stroke-width="2.4"/>
<path d="M1236.0,432.8 L1243.3,426.7 L1248.2,430.4" stroke-width="2.4"/>
<ellipse cx="1253.7" cy="435.3" rx="3.0" ry="3.0" transform="rotate(0 1253.7 435.3)" stroke-width="2.2"/>
<ellipse cx="1246.4" cy="445.0" rx="3.0" ry="3.0" transform="rotate(0 1246.4 445.0)" stroke-width="2.2"/>
<ellipse cx="1281.7" cy="431.0" rx="3.0" ry="3.0" transform="rotate(0 1281.7 431.0)" stroke-width="2.4"/>
<ellipse cx="1234.8" cy="438.9" rx="3.0" ry="3.0" transform="rotate(0 1234.8 438.9)" stroke-width="2.4"/>
<path d="M1258.0,438.9 L1270.1,435.3 L1279.9,435.3" stroke-width="2"/>

<g transform="translate(-1.5 1.7)"><path d="M1012.5,144.6 C1013.3,144.0 1017.9,140.7 1020.0,139.4 C1022.1,138.1 1028.5,134.5 1030.3,133.6 C1032.2,132.8 1034.7,132.1 1036.1,132.1 C1037.5,132.1 1041.0,132.9 1042.5,133.6 C1043.9,134.4 1044.8,135.1 1048.8,138.3 C1052.8,141.4 1069.8,154.8 1076.5,160.7 C1083.2,166.7 1099.1,182.4 1106.5,189.6 C1113.9,196.7 1134.1,215.8 1139.9,221.9 C1145.7,227.9 1153.0,237.4 1156.1,241.5 C1159.2,245.5 1164.8,253.5 1166.4,256.5 C1168.1,259.4 1170.1,265.0 1170.5,266.8 C1170.9,268.7 1170.0,270.8 1169.7,272.2 C1169.4,273.5 1167.4,276.9 1167.9,278.3 C1168.4,279.6 1171.8,282.1 1174.0,283.7 C1176.1,285.3 1184.7,290.9 1186.1,291.9" stroke-width="1.0"/>
<path d="M1015.4,148.1 C1016.2,147.5 1021.2,144.2 1022.9,143.7 C1024.5,143.1 1027.1,142.1 1029.2,143.4 C1031.3,144.8 1038.2,152.5 1040.7,155.0 C1043.3,157.5 1048.4,163.0 1051.1,164.8 C1053.8,166.5 1061.5,168.9 1063.8,170.0 C1066.1,171.0 1067.5,170.9 1070.7,173.7 C1073.9,176.4 1086.9,188.9 1091.5,193.3 C1096.0,197.7 1106.2,207.6 1109.9,211.5 C1113.7,215.4 1120.3,223.0 1123.8,226.5 C1127.3,229.9 1136.4,237.3 1139.9,240.9 C1143.4,244.5 1151.3,253.8 1153.7,257.0 C1156.2,260.3 1159.6,266.2 1160.7,268.6 C1161.7,270.9 1162.7,276.2 1163.0,277.2" stroke-width="1.0"/>
<path d="M1029.2,134.8 C1030.5,135.1 1035.3,134.2 1040.7,137.7 C1046.1,141.1 1067.9,157.7 1075.3,164.2 C1082.7,170.7 1097.4,186.2 1104.2,193.0 C1110.9,199.9 1127.1,216.6 1133.0,223.0 C1138.9,229.5 1151.3,243.7 1154.9,248.4 C1158.5,253.1 1163.1,261.6 1164.1,263.4" stroke-width="1.0"/>
<path d="M1012.5,144.6 C1012.3,145.1 1012.8,146.6 1010.7,148.6 C1008.7,150.7 997.8,159.1 994.6,161.9 C991.4,164.7 985.4,170.8 983.1,172.9 C980.8,174.9 976.2,177.9 975.0,179.2 C973.8,180.5 973.0,183.3 972.7,183.8" stroke-width="1.0"/>
<path d="M1024.6,151.5 C1023.4,152.3 1017.3,155.7 1014.2,158.4 C1011.1,161.1 1001.0,171.5 998.1,174.6 C995.1,177.7 990.2,182.7 988.8,185.0 C987.5,187.2 986.8,193.1 986.5,194.2" stroke-width="1.0"/>
<path d="M1029.2,143.4 L1024.6,151.5 L1028.0,156.1 L1033.8,148.1" stroke-width="1.0"/>
<path d="M1051.1,164.8 C1051.9,163.9 1053.6,161.0 1055.7,159.6 C1057.8,158.1 1060.7,156.8 1063.8,156.1 C1066.9,155.5 1072.4,155.7 1074.2,155.6" stroke-width="1.0"/>
<path d="M1076.5,160.7 L1070.7,173.7" stroke-width="1.0"/>
<path d="M1096.7,183.8 L1091.5,193.3" stroke-width="1.0"/>
<path d="M1104.7,191.3 L1100.1,201.1" stroke-width="1.0"/>
<path d="M1118.0,204.6 L1113.4,213.8" stroke-width="1.0"/>
<path d="M1123.8,210.3 L1119.7,219.6" stroke-width="1.0"/>
<path d="M1135.3,220.7 L1130.7,229.9" stroke-width="1.0"/>
<path d="M1140.5,225.9 L1135.9,235.1" stroke-width="1.0"/>
<path d="M1165.3,255.3 L1160.7,259.9" stroke-width="1.0"/>
<path d="M968.6,186.1 C968.9,186.6 971.4,189.5 971.5,190.7 C971.6,192.0 969.6,197.3 969.8,198.8 C970.0,200.3 973.1,204.2 973.8,205.7 C974.6,207.2 977.1,212.3 977.3,213.8 C977.5,215.3 975.9,219.4 976.1,220.7 C976.4,222.0 978.9,225.4 980.2,227.1 C981.5,228.7 987.0,235.0 988.8,236.9 C990.6,238.8 996.2,244.2 998.1,246.1 C999.9,248.0 1005.8,254.9 1007.3,255.5 C1008.7,256.2 1011.8,254.1 1012.5,253.0 C1013.1,251.9 1013.7,246.5 1013.6,244.9 C1013.5,243.3 1012.3,238.9 1011.3,236.9 C1010.3,234.8 1005.2,226.5 1003.8,224.2 C1002.5,221.9 999.2,215.6 998.1,213.8 C997.0,211.9 993.4,206.5 992.9,205.7" stroke-width="1.0"/>
<path d="M977.3,183.8 C978.1,183.2 980.9,180.4 983.1,179.2 C985.2,178.0 991.4,174.7 993.4,174.6 C995.4,174.4 997.9,176.2 998.1,178.0 C998.2,179.9 995.7,185.8 994.6,188.4 C993.5,191.0 991.3,195.8 990.0,197.6 C988.7,199.5 986.2,202.0 984.8,202.3 C983.4,202.6 980.6,201.2 979.6,200.0 C978.6,198.7 977.6,195.2 977.3,193.0 C977.0,190.9 977.3,185.0 977.3,183.8" stroke-width="1.0"/>
<path d="M983.1,186.1 C983.7,186.0 986.9,184.3 987.7,185.0 C988.4,185.6 989.2,189.0 988.8,190.7 C988.4,192.4 985.7,197.0 984.8,197.6 C983.9,198.3 982.1,196.9 981.9,195.3 C981.7,193.8 982.9,187.3 983.1,186.1" stroke-width="1.0"/>
<path d="M981.3,225.3 L990.0,219.6" stroke-width="1.0"/>
<path d="M988.8,235.7 L998.1,229.9" stroke-width="1.0"/>
<path d="M996.9,244.9 L1006.1,238.6" stroke-width="1.0"/>
<path d="M984.8,214.4 L994.6,225.3 L1006.1,238.0 L1012.5,244.9" stroke-width="1.0"/>
<path d="M994.6,205.7 L999.2,217.3 L1006.1,229.9 L1011.3,236.9" stroke-width="1.0"/>
<path d="M1000.4,167.7 L1006.1,164.2 L1007.3,167.7" stroke-width="1.0"/>
<path d="M998.1,183.8 L1008.4,174.6 L1014.2,170.0 L1022.3,158.4" stroke-width="1.0"/>
<path d="M994.6,190.7 L1005.6,180.3 L1014.2,174.6 L1026.9,157.3" stroke-width="1.0"/>
<path d="M1029.2,159.6 L1035.0,156.1 L1043.0,165.4 L1031.5,183.8 L1024.6,179.2 L1022.3,172.3Z" stroke-width="1.0" fill="none"/>
<path d="M1015.4,178.0 L1022.3,183.8 L1028.0,188.4" stroke-width="1.0"/>
<path d="M1017.7,174.6 L1028.0,183.8" stroke-width="1.0"/>
<path d="M1014.2,180.3 L1020.0,186.1 L1025.7,183.8 L1019.4,178.0Z" stroke-width="1.0"/>
<path d="M992.9,205.7 C993.4,205.4 996.7,201.9 998.1,202.3 C999.4,202.6 1004.9,207.6 1006.1,209.2 C1007.4,210.8 1010.2,216.7 1010.7,218.4 C1011.3,220.1 1011.6,225.1 1011.9,226.5 C1012.2,227.9 1011.4,229.5 1014.2,232.2 C1017.0,235.0 1035.0,249.7 1039.6,253.6 C1044.2,257.4 1056.8,267.9 1060.3,270.9 C1063.9,273.8 1072.9,281.1 1075.3,283.0 C1077.7,284.9 1083.6,289.3 1084.6,290.0" stroke-width="1.0"/>
<path d="M996.9,200.0 C998.1,199.0 1005.8,192.9 1008.4,190.7 C1011.0,188.5 1020.8,178.2 1022.9,178.0 C1024.9,177.9 1028.6,188.4 1029.2,189.6" stroke-width="1.0"/>
<path d="M1006.1,209.2 L1022.9,195.3 L1029.2,189.6 L1082.2,240.3" stroke-width="1.0"/>
<path d="M1010.7,216.1 L1022.3,205.7 L1022.9,213.8 L1010.7,224.2" stroke-width="1.0"/>
<path d="M1009.6,190.7 L1024.6,202.3 L1067.3,243.8 L1086.9,259.9 L1104.2,274.9" stroke-width="1.0"/>
<path d="M1011.9,226.5 L1020.0,220.7 L1029.2,228.8 L1047.6,234.6 L1045.3,240.3 L1036.1,243.8 L1029.2,241.5" stroke-width="1.0"/>
<path d="M1029.2,241.5 L1036.1,233.4" stroke-width="1.0"/>
<path d="M1014.2,232.2 L1040.7,254.2 L1047.6,246.1 L1051.1,249.5 L1044.2,257.6" stroke-width="1.0"/>
<path d="M1047.6,234.6 L1070.7,255.3 L1076.5,263.4 L1074.2,269.2 L1068.4,273.8" stroke-width="1.0"/>
<path d="M1068.4,226.5 L1090.3,198.8 L1093.8,202.3 L1072.4,229.9" stroke-width="1.0"/>
<path d="M1044.2,253.0 L1068.4,227.6" stroke-width="1.0"/>
<path d="M1048.8,256.5 L1072.4,231.1" stroke-width="1.0"/>
<path d="M1082.2,240.3 L1106.5,211.5 L1108.8,216.1 L1085.7,243.8" stroke-width="1.0"/>
<path d="M1059.2,268.0 L1082.2,241.5" stroke-width="1.0"/>
<path d="M1063.8,271.5 L1085.7,244.9" stroke-width="1.0"/>
<path d="M1075.3,225.3 L1084.6,233.4" stroke-width="1.0"/>
<path d="M1079.9,219.6 L1090.3,228.8" stroke-width="1.0"/>
<path d="M1085.7,212.6 L1096.1,221.9" stroke-width="1.0"/>
<path d="M1090.3,205.7 L1101.9,216.1" stroke-width="1.0"/>
<path d="M1082.2,233.4 L1090.3,223.0" stroke-width="1.0"/>
<path d="M1088.0,227.6 L1096.1,217.3" stroke-width="1.0"/>
<path d="M1043.0,189.6 L1047.6,187.3 L1045.3,196.5 L1051.1,190.7 L1055.7,183.8 L1060.3,186.1 L1063.8,180.3 L1067.3,175.7 L1064.9,183.8" stroke-width="1.0"/>
<path d="M1045.3,196.5 L1043.0,201.1 L1028.0,190.7" stroke-width="1.0"/>
<path d="M1045.3,172.3 C1045.6,171.8 1046.7,169.1 1047.6,168.8 C1048.6,168.5 1051.8,169.2 1052.3,170.0 C1052.7,170.7 1051.7,173.7 1051.1,174.6 C1050.5,175.5 1048.4,177.2 1047.6,176.9 C1046.9,176.6 1045.6,172.9 1045.3,172.3" stroke-width="1.0"/>
<path d="M1083.4,195.3 L1089.2,194.8 L1088.0,201.1" stroke-width="1.0"/>
<path d="M1108.8,224.2 L1114.5,226.5 L1115.7,221.9 L1111.1,218.4Z" stroke-width="1.0"/>
<path d="M1115.7,238.0 L1121.5,235.7 L1126.1,240.3 L1121.5,243.8 L1115.7,238.0" stroke-width="1.0"/>
<path d="M1088.0,247.2 L1096.1,241.5 L1100.7,244.9 L1092.6,251.3Z" stroke-width="1.0"/>
<path d="M1093.8,248.4 L1113.4,264.5 L1108.8,258.8 L1114.5,253.0 L1118.0,256.5" stroke-width="1.0"/>
<path d="M1121.5,246.1 L1116.3,264.0" stroke-width="1.0"/>
<path d="M1125.8,250.5 L1120.7,268.3" stroke-width="1.0"/>
<path d="M1130.2,254.9 L1125.0,272.7" stroke-width="1.0"/>
<path d="M1134.6,259.2 L1129.4,277.1" stroke-width="1.0"/>
<path d="M1139.0,263.6 L1133.8,281.5" stroke-width="1.0"/>
<path d="M1143.4,268.0 L1138.2,285.9" stroke-width="1.0"/>
<path d="M1147.8,272.4 L1142.6,290.3" stroke-width="1.0"/>
<path d="M1152.1,276.8 L1146.9,294.6" stroke-width="1.0"/>
<path d="M1156.5,281.1 L1151.3,299.0" stroke-width="1.0"/>
<path d="M1119.2,239.2 C1120.1,239.3 1126.3,239.2 1128.4,240.3 C1130.5,241.5 1137.6,248.4 1139.9,250.7 C1142.2,253.0 1149.5,260.8 1151.4,263.4 C1153.4,265.9 1158.4,273.4 1159.5,276.1 C1160.7,278.7 1162.6,288.6 1163.0,290.0" stroke-width="1.0"/>
<path d="M1115.7,263.4 C1116.5,264.4 1122.0,271.8 1123.8,273.8 C1125.5,275.7 1131.4,281.4 1133.0,283.0 C1134.6,284.6 1139.2,289.3 1139.9,290.0" stroke-width="1.0"/>
<path d="M1075.3,271.5 C1076.7,270.5 1084.0,264.2 1086.9,263.4 C1089.7,262.6 1097.0,263.6 1099.5,264.5 C1102.1,265.5 1106.9,271.6 1108.8,271.5 C1110.7,271.3 1114.9,264.3 1115.7,263.4" stroke-width="1.0"/>
<path d="M1075.3,280.7 C1076.4,279.9 1082.1,274.8 1084.6,273.8 C1087.0,272.7 1093.7,271.2 1096.1,271.5 C1098.5,271.7 1104.2,275.5 1105.3,276.1" stroke-width="1.0"/>
<path d="M1101.9,290.0 L1108.8,281.8 L1111.1,284.1" stroke-width="1.0"/>
<path d="M1068.4,273.8 L1074.2,279.5 L1079.9,274.9" stroke-width="1.0"/>
<path d="M1186.1,291.9 C1188.9,294.6 1223.1,328.2 1227.5,332.4 C1231.9,336.7 1249.4,353.4 1251.9,355.5 C1254.4,357.7 1263.7,363.8 1265.3,364.7 C1266.8,365.5 1274.3,368.4 1275.0,368.7" stroke-width="1.0"/>
<path d="M1275.0,368.7 L1284.7,364.9 L1300.5,377.8 L1303.6,382.9 L1304.4,412.1" stroke-width="1.0"/>
<path d="M1304.4,412.1 C1303.6,413.3 1299.8,419.8 1296.9,422.5 C1294.0,425.2 1284.1,432.5 1279.9,435.3 C1275.6,438.0 1264.1,444.5 1260.4,446.2 C1256.7,447.9 1250.6,449.4 1248.2,449.6 C1245.8,449.8 1241.4,449.1 1239.7,448.0 C1238.0,446.9 1234.3,441.0 1233.6,440.1" stroke-width="1.0"/>
<path d="M1158.2,280.7 L1175.2,295.3 L1211.7,330.0 L1249.4,365.9" stroke-width="1.0"/>
<path d="M1167.9,278.3 L1227.5,335.5 L1253.1,359.8" stroke-width="1.0"/>
<path d="M1150.9,284.3 L1174.0,306.2 L1209.3,339.1 L1237.3,365.9" stroke-width="1.0"/>
<path d="M1187.4,306.2 L1248.2,363.4" stroke-width="1.0"/>
<path d="M1203.2,323.3 L1212.9,337.9 L1242.1,364.7" stroke-width="1.0"/>
<path d="M1158.2,317.2 L1211.7,367.1" stroke-width="1.0"/>
<path d="M1163.0,315.4 L1212.9,361.0" stroke-width="1.0"/>
<path d="M1174.0,306.2 L1167.9,312.3" stroke-width="1.0"/>
<path d="M1184.9,316.0 L1177.6,324.5" stroke-width="1.0"/>
<ellipse cx="1177.9" cy="315.7" rx="2.6" ry="2.6" transform="rotate(0 1177.9 315.7)" stroke-width="1.0" fill="none"/>
<path d="M1090.0,274.6 C1091.1,275.5 1098.5,281.1 1101.0,283.1 C1103.4,285.2 1112.3,292.7 1114.3,295.3 C1116.4,297.8 1120.7,305.8 1121.6,308.7 C1122.6,311.6 1123.5,321.6 1124.1,324.5 C1124.7,327.4 1126.9,335.3 1127.7,337.9 C1128.5,340.5 1130.9,348.7 1132.0,350.7 C1133.1,352.7 1138.0,357.2 1138.7,358.0" stroke-width="1.0"/>
<path d="M1090.0,263.7 L1104.6,275.8 L1126.5,296.5 L1141.1,311.1" stroke-width="1.0"/>
<path d="M1090.0,290.4 L1097.3,295.3 L1120.4,317.2 L1124.1,324.5" stroke-width="1.0"/>
<path d="M1092.4,285.6 L1122.9,312.3 L1131.4,313.5 L1142.3,312.3" stroke-width="1.0"/>
<path d="M1099.7,284.3 L1105.8,280.7" stroke-width="1.0"/>
<path d="M1113.7,296.5 L1119.8,292.3" stroke-width="1.0"/>
<path d="M1120.4,317.2 L1125.3,311.1" stroke-width="1.0"/>
<path d="M1125.3,298.9 L1126.5,308.7" stroke-width="1.0"/>
<path d="M1148.4,280.7 L1153.3,273.4 L1159.4,271.0 L1164.2,279.5 L1158.2,284.3Z" stroke-width="1.0" fill="none"/>
<path d="M1163.0,260.0 C1163.7,260.9 1168.5,265.3 1169.1,267.3 C1169.7,269.3 1168.6,275.1 1167.9,277.0 C1167.2,279.0 1164.2,282.2 1163.0,284.3 C1161.9,286.5 1159.3,293.3 1158.2,295.3 C1157.0,297.3 1154.4,300.4 1153.3,301.4 C1152.1,302.4 1149.0,303.5 1148.4,303.8" stroke-width="1.0"/>
<path d="M1141.1,300.2 C1141.8,299.0 1145.8,292.3 1147.2,290.4 C1148.6,288.6 1152.0,284.6 1153.3,284.3 C1154.6,284.1 1158.2,286.6 1158.2,288.0 C1158.2,289.4 1154.6,294.8 1153.3,296.5 C1152.0,298.2 1148.5,301.7 1147.2,302.6 C1145.9,303.5 1143.0,304.7 1142.3,304.4 C1141.6,304.1 1141.3,300.7 1141.1,300.2" stroke-width="1.0"/>
<ellipse cx="1143.5" cy="302.0" rx="2.5" ry="2.5" transform="rotate(0 1143.5 302.0)" stroke-width="1.0" fill="none"/>
<path d="M1153.3,264.9 L1158.2,274.6" stroke-width="1.0"/>
<path d="M1138.7,313.5 C1139.5,313.4 1145.3,312.2 1147.2,311.7 C1149.1,311.2 1156.1,309.2 1158.2,308.7 C1160.2,308.1 1165.9,306.6 1167.9,306.2 C1169.8,305.9 1176.7,305.2 1177.6,305.0" stroke-width="1.0"/>
<path d="M1155.7,315.4 C1154.9,315.2 1150.0,313.9 1148.4,314.2 C1146.9,314.4 1143.5,316.6 1142.3,317.8 C1141.2,319.0 1139.0,322.4 1138.7,324.5 C1138.3,326.6 1138.7,333.0 1139.3,335.5 C1139.9,337.9 1141.9,343.1 1143.5,345.2 C1145.2,347.3 1152.1,352.7 1153.3,353.7" stroke-width="1.0"/>
<path d="M1158.2,318.4 C1157.3,318.3 1152.3,316.9 1150.9,317.2 C1149.4,317.5 1146.3,319.6 1145.4,320.9 C1144.5,322.1 1143.1,326.2 1142.9,328.2 C1142.8,330.1 1143.4,335.9 1144.2,337.9 C1144.9,339.9 1148.3,343.7 1149.6,345.2 C1151.0,346.7 1155.0,350.0 1155.7,350.7" stroke-width="1.0"/>
<path d="M1153.3,353.7 L1228.7,421.9 L1236.0,422.1" stroke-width="1.0"/>
<path d="M1155.7,350.7 L1223.9,412.1" stroke-width="1.0"/>
<path d="M1155.7,315.4 L1175.2,333.0 L1211.7,364.7 L1239.7,389.0" stroke-width="1.0"/>
<path d="M1239.7,389.0 C1240.7,389.7 1245.4,391.9 1247.0,393.9 C1248.6,395.8 1251.7,400.9 1251.9,403.6 C1252.0,406.4 1250.3,412.1 1248.2,414.6 C1246.1,417.0 1237.7,421.1 1236.0,422.1" stroke-width="1.0"/>
<path d="M1236.0,386.6 C1237.2,387.4 1242.8,390.4 1244.6,392.7 C1246.3,394.9 1249.3,400.9 1249.4,403.6 C1249.6,406.4 1247.9,411.2 1245.8,413.3 C1243.7,415.5 1235.2,418.6 1233.6,419.4" stroke-width="1.0"/>
<path d="M1138.7,358.0 L1223.9,430.4 L1233.6,440.1" stroke-width="1.0"/>
<path d="M1143.5,356.1 L1226.3,426.7" stroke-width="1.0"/>
<path d="M1131.4,350.7 C1131.9,350.3 1133.9,347.7 1135.0,347.6 C1136.2,347.5 1139.4,348.9 1139.9,350.1 C1140.4,351.2 1139.5,355.5 1138.7,356.1 C1137.9,356.8 1134.8,355.7 1133.8,354.9 C1132.8,354.2 1131.7,351.2 1131.4,350.7" stroke-width="1.0"/>
<path d="M1195.9,370.1 L1221.4,392.7" stroke-width="1.0"/>
<path d="M1203.2,385.4 C1203.7,384.9 1205.7,382.0 1206.8,381.7 C1208.0,381.4 1210.9,382.1 1211.7,382.9 C1212.5,383.7 1213.2,386.7 1212.9,387.8 C1212.6,388.9 1210.3,391.0 1209.3,391.4 C1208.2,391.8 1205.8,391.6 1205.0,390.8 C1204.2,390.0 1203.4,386.1 1203.2,385.4" stroke-width="1.0"/>
<ellipse cx="1208.1" cy="386.8" rx="2.6" ry="3.6" transform="rotate(20 1208.1 386.8)" stroke-width="1.0"/>
<path d="M1215.4,396.3 C1216.0,396.0 1218.3,394.0 1220.2,393.9 C1222.2,393.7 1228.2,394.3 1230.0,395.1 C1231.7,395.9 1233.6,398.7 1233.6,400.0 C1233.6,401.3 1231.7,404.1 1230.0,404.8 C1228.2,405.6 1222.2,405.8 1220.2,405.4 C1218.3,405.1 1216.0,403.6 1215.4,402.4 C1214.7,401.2 1215.4,397.1 1215.4,396.3" stroke-width="1.0"/>
<ellipse cx="1219.6" cy="399.7" rx="3.2" ry="4.0" transform="rotate(20 1219.6 399.7)" stroke-width="1.0"/>
<ellipse cx="1228.1" cy="400.2" rx="3.0" ry="3.6" transform="rotate(20 1228.1 400.2)" stroke-width="1.0"/>
<path d="M1211.7,367.1 L1216.6,352.5 L1211.7,356.1 L1208.1,354.9" stroke-width="1.0"/>
<path d="M1211.7,381.7 L1215.4,369.5 L1219.0,376.8 L1223.9,379.3 L1237.3,381.7 L1242.1,376.8" stroke-width="1.0"/>
<path d="M1216.6,367.1 L1222.7,348.8 L1219.0,376.8" stroke-width="1.0"/>
<path d="M1221.4,357.4 L1239.7,374.4 L1237.3,381.7" stroke-width="1.0"/>
<path d="M1226.3,354.9 L1243.3,369.5" stroke-width="1.0"/>
<path d="M1247.0,369.5 L1253.1,363.4 L1260.4,369.5 L1254.3,376.8 L1250.6,374.4" stroke-width="1.0"/>
<path d="M1253.1,376.8 L1275.0,398.7 L1279.9,404.8" stroke-width="1.0"/>
<path d="M1254.3,382.9 L1296.9,418.2" stroke-width="1.0"/>
<path d="M1284.7,364.9 L1270.1,379.3 L1275.0,382.9 L1279.9,376.8 L1289.6,384.1 L1284.7,389.0" stroke-width="1.0"/>
<path d="M1300.5,377.8 L1295.7,401.2 L1289.6,391.4 L1284.7,393.9 L1296.9,410.9 L1301.8,404.8" stroke-width="1.0"/>
<path d="M1260.4,369.5 L1272.6,380.5" stroke-width="1.0"/>
<path d="M1265.3,364.7 L1279.9,375.6" stroke-width="1.0"/>
<path d="M1279.9,404.8 L1270.1,413.3 L1262.8,409.7 L1258.0,396.3" stroke-width="1.0"/>
<path d="M1260.4,396.3 L1262.8,406.0 L1253.1,415.8 L1245.8,421.9" stroke-width="1.0"/>
<path d="M1266.5,397.5 L1251.9,412.1" stroke-width="1.0"/>
<path d="M1271.9,402.4 L1257.3,417.0" stroke-width="1.0"/>
<path d="M1277.4,407.3 L1262.8,421.9" stroke-width="1.0"/>
<path d="M1282.9,412.1 L1268.3,426.7" stroke-width="1.0"/>
<path d="M1288.4,417.0 L1273.8,431.6" stroke-width="1.0"/>
<path d="M1242.1,428.0 L1260.4,417.0 L1272.6,421.9 L1265.3,432.8 L1275.0,428.0" stroke-width="1.0"/>
<path d="M1236.0,432.8 L1243.3,426.7 L1248.2,430.4" stroke-width="1.0"/>
<ellipse cx="1253.7" cy="435.3" rx="3.0" ry="3.0" transform="rotate(0 1253.7 435.3)" stroke-width="1.0"/>
<ellipse cx="1246.4" cy="445.0" rx="3.0" ry="3.0" transform="rotate(0 1246.4 445.0)" stroke-width="1.0"/>
<ellipse cx="1281.7" cy="431.0" rx="3.0" ry="3.0" transform="rotate(0 1281.7 431.0)" stroke-width="1.0"/>
<ellipse cx="1234.8" cy="438.9" rx="3.0" ry="3.0" transform="rotate(0 1234.8 438.9)" stroke-width="1.0"/>
<path d="M1258.0,438.9 L1270.1,435.3 L1279.9,435.3" stroke-width="1.0"/>
</g>
<!-- p_rhmisc.svg -->
<path d="M1084.6,121.5 L1090.3,119.5 L1115.7,140.9 L1113.6,144.6 L1115.7,148.6 L1115.1,155.0 L1109.9,160.7 L1105.1,159.6 L1100.1,164.0 L1100.1,171.1 L1096.3,174.6 L1060.3,144.0 L1066.1,138.8 L1075.3,136.3 L1084.3,129.6Z" stroke-width="1.5" fill="#000"/>
<path d="M1104.2,149.8 L1107.6,146.7 L1110.8,148.6 L1111.1,153.2 L1108.2,156.4 L1104.4,154.4Z" stroke-width="1" fill="#fff"/>
<path d="M967.6,156.7 L980.8,142.2 L989.8,137.4 L995.0,143.5 L983.4,155.8 L972.4,162.5Z" stroke-width="1.6"/>
<path d="M980.8,142.2 L985.3,147.7 L995.0,143.5" stroke-width="1.4"/>
<path d="M985.3,147.7 L975.7,159.6" stroke-width="1.4"/>
<path d="M883.9,186.7 L928.0,192.2" stroke-width="12.5" stroke-linecap="round"/>
<path d="M889.3,187.7 L924.8,191.9" stroke="#fff" stroke-width="5" stroke-dasharray="3.2 2.9" stroke-linecap="butt"/>
<path d="M888.7,188.3 L924.8,192.6" stroke="#000" stroke-width="1.6" stroke-linecap="butt"/>
<ellipse cx="933.5" cy="192.2" rx="7.6" ry="9.6" transform="rotate(8 933.5 192.2)" stroke-width="1" fill="#000"/>
<ellipse cx="935.1" cy="192.2" rx="4.2" ry="6.0" transform="rotate(8 935.1 192.2)" stroke-width="1.4" fill="#000"/><ellipse stroke="#fff" cx="935.1" cy="192.2" rx="4.0" ry="5.8" transform="rotate(8 935.1 192.2)" stroke-width="1.2" fill="none"/>
<ellipse cx="935.1" cy="192.2" rx="1.9" ry="3.4" transform="rotate(8 935.1 192.2)" stroke-width="1" fill="#fff"/>
<path d="M944.1,196.4 L951.5,192.8" stroke-width="5" stroke-linecap="round"/><path d="M944.1,196.4 L946.0,195.5" stroke-width="8" stroke-linecap="round"/>
<path d="M945.1,210.5 L952.8,206.7" stroke-width="5" stroke-linecap="round"/><path d="M945.1,210.5 L947.0,209.6" stroke-width="8" stroke-linecap="round"/>
<ellipse cx="960.5" cy="195.7" rx="5.0" ry="11.0" transform="rotate(-8 960.5 195.7)" stroke-width="2.6"/>
<ellipse cx="960.0" cy="191.2" rx="2.0" ry="2.6" transform="rotate(-8 960.0 191.2)" stroke-width="1.6"/>
<ellipse cx="961.1" cy="200.5" rx="2.0" ry="2.6" transform="rotate(-8 961.1 200.5)" stroke-width="1.6"/>
<path d="M957.0,195.1 L962.8,196.4" stroke-width="1.6"/>
<path d="M1137.5,403.0 C1134.8,399.6 1113.3,373.7 1110.4,369.8 C1107.5,366.0 1108.5,365.4 1108.6,364.5 C1108.6,363.6 1110.3,361.0 1111.0,360.5 C1111.7,360.1 1114.7,359.5 1115.6,359.7 C1116.5,359.8 1116.9,359.0 1120.0,362.3 C1123.2,365.6 1144.7,389.9 1147.4,393.0" stroke-width="2.2"/>
<path d="M1128.7,400.2 L1133.6,395.2 L1141.9,405.2 L1138.0,410.1Z" stroke-width="1.6"/>
<path d="M1141.9,397.4 C1142.6,396.8 1145.5,393.0 1147.4,393.0 C1149.3,393.0 1154.9,396.5 1156.3,397.4 C1157.7,398.4 1157.7,399.8 1157.9,400.2" stroke-width="2.4"/>
<path d="M1139.7,401.9 C1140.4,401.6 1143.6,399.6 1145.2,399.6 C1146.8,399.6 1151.0,401.6 1151.9,401.9" stroke-width="2.2"/>
<ellipse cx="1151.3" cy="409.6" rx="4.4" ry="4.4" transform="rotate(0 1151.3 409.6)" stroke-width="2.6"/>
<ellipse cx="1151.3" cy="409.6" rx="1.8" ry="1.8" transform="rotate(0 1151.3 409.6)" stroke-width="1.2"/>
<path d="M1157.9,400.2 C1158.2,400.9 1160.2,404.4 1160.7,406.3 C1161.1,408.1 1161.7,414.5 1161.8,416.2 C1161.9,417.9 1162.0,419.6 1161.6,421.2 C1161.2,422.7 1159.5,427.6 1158.5,429.5 C1157.5,431.3 1154.6,435.7 1153.2,437.2 C1151.8,438.7 1147.9,441.7 1146.5,442.2 C1145.2,442.6 1143.0,441.6 1141.9,441.1 C1140.9,440.5 1137.8,438.2 1137.5,437.2 C1137.2,436.2 1138.5,432.8 1139.1,432.6 C1139.8,432.3 1142.1,435.7 1143.2,435.2 C1144.3,434.7 1147.5,429.9 1148.5,428.4 C1149.5,426.8 1151.5,423.0 1151.9,421.7 C1152.2,420.4 1151.9,417.8 1151.9,417.3" stroke-width="2.2"/>
<path d="M1139.1,432.6 L1145.2,441.1" stroke-width="1.4"/>
<path d="M1149.6,425.0 L1157.4,429.5" stroke-width="1.4"/>
<path d="M1151.9,419.0 L1160.7,416.2" stroke-width="1.6"/>
<path d="M1190.5,443.8 L1194.4,435.9 L1201.0,430.8 L1218.7,440.0 L1220.6,453.2 L1210.4,458.7Z" stroke-width="2.0"/>
<path d="M1194.4,435.9 L1211.5,446.0 L1218.7,440.0" stroke-width="1.6"/>
<path d="M1211.5,446.0 L1209.8,458.2" stroke-width="1.6"/>
<path d="M1211.5,437.2 L1217.0,443.3 L1215.9,450.4" stroke-width="2.2"/>
<path d="M1255.7,467.0 L1266.7,477.0" stroke-width="3.2"/>
<path d="M1249.0,474.7 L1260.1,484.7" stroke-width="3.2"/>
<path d="M1299.9,486.9 C1298.9,486.4 1293.4,484.6 1292.7,483.0 C1291.9,481.5 1293.1,477.0 1294.3,475.3 C1295.6,473.6 1301.0,470.8 1302.1,470.1" stroke-width="3.2"/>
<path d="M1302.1,470.1 L1306.5,472.5 L1312.0,480.3 L1299.9,486.9 L1298.2,482.5 L1302.6,474.2" stroke-width="1.6"/>

<!-- p_right.svg -->
<path d="M1423.9,787.4 L1433.8,785.2 L1441.6,789.6 L1447.1,796.3 L1447.3,805.1 L1440.4,825.0 L1429.4,854.8 L1425.0,868.1 L1421.7,873.6 L1418.4,872.7 L1367.6,897.0 L1364.2,896.8 L1343.3,878.0 L1344.4,874.7 L1395.2,849.3 L1400.7,842.7 L1402.9,836.0 L1411.7,813.9 L1420.6,791.9Z" stroke-width="0.1" fill="#fff" stroke="none"/>
<path d="M1444.9,829.4 L1472.5,851.5 L1474.9,857.0 L1471.6,862.5 L1465.0,865.0 L1461.7,860.6 L1453.7,866.1 L1450.4,872.5 L1443.8,876.0 L1440.4,872.7 L1441.6,868.3 L1436.0,871.6 L1425.0,877.1 L1420.8,873.6 L1429.4,854.8 L1440.4,825.0Z" stroke-width="0.1" fill="#fff" stroke="none"/>
<path d="M1443.2,780.3 C1446.5,778.2 1469.8,762.7 1477.0,758.9 C1484.3,755.2 1510.7,744.8 1515.4,742.7 C1520.0,740.7 1522.7,739.0 1523.5,738.6" stroke-width="2.2"/>
<path d="M1456.4,785.5 C1459.5,783.6 1480.0,770.4 1487.4,766.3 C1494.7,762.2 1525.8,746.4 1530.1,744.2" stroke-width="1.6"/>
<ellipse cx="1533.3" cy="751.6" rx="15.9" ry="17.4" transform="rotate(10 1533.3 751.6)" stroke-width="2.8"/>
<ellipse cx="1530.4" cy="752.3" rx="12.7" ry="15.0" transform="rotate(10 1530.4 752.3)" stroke-width="2.2"/>
<ellipse cx="1526.0" cy="753.8" rx="8.3" ry="11.8" transform="rotate(10 1526.0 753.8)" stroke-width="2.2"/>
<path d="M1453.5,803.9 C1456.9,802.4 1480.3,791.9 1487.4,789.2 C1494.4,786.5 1519.3,778.9 1524.2,776.9 C1529.1,774.9 1535.5,769.8 1536.7,769.0" stroke-width="2.0"/>
<ellipse cx="1460.1" cy="795.8" rx="3.1" ry="6.5" transform="rotate(22 1460.1 795.8)" stroke-width="2.2"/>
<ellipse cx="1467.2" cy="792.1" rx="3.1" ry="6.5" transform="rotate(22 1467.2 792.1)" stroke-width="2.2"/>
<ellipse cx="1474.4" cy="788.4" rx="3.1" ry="6.5" transform="rotate(22 1474.4 788.4)" stroke-width="2.2"/>
<ellipse cx="1481.5" cy="784.7" rx="3.1" ry="6.5" transform="rotate(22 1481.5 784.7)" stroke-width="2.2"/>
<ellipse cx="1488.7" cy="781.0" rx="3.1" ry="6.5" transform="rotate(22 1488.7 781.0)" stroke-width="2.2"/>
<ellipse cx="1495.8" cy="777.4" rx="3.1" ry="6.5" transform="rotate(22 1495.8 777.4)" stroke-width="2.2"/>
<ellipse cx="1503.0" cy="773.7" rx="3.1" ry="6.5" transform="rotate(22 1503.0 773.7)" stroke-width="2.2"/>
<ellipse cx="1510.1" cy="770.0" rx="3.1" ry="6.5" transform="rotate(22 1510.1 770.0)" stroke-width="2.2"/>
<ellipse cx="1517.3" cy="766.3" rx="3.1" ry="6.5" transform="rotate(22 1517.3 766.3)" stroke-width="2.2"/>
<ellipse cx="1524.4" cy="762.6" rx="3.1" ry="6.5" transform="rotate(22 1524.4 762.6)" stroke-width="2.2"/>
<path d="M1433.8,785.2 C1434.9,784.7 1439.8,781.3 1441.6,781.0 C1443.3,780.8 1445.8,782.1 1447.3,783.2 C1448.8,784.4 1451.7,787.9 1452.6,789.6 C1453.5,791.4 1454.2,794.8 1453.9,796.3 C1453.7,797.8 1451.1,800.3 1450.6,800.9" stroke-width="2.4"/>
<path d="M1441.6,781.0 L1444.9,781.9" stroke-width="2"/>
<path d="M1447.3,783.2 L1452.6,785.2" stroke-width="1.6"/>
<path d="M1423.9,787.4 C1425.2,787.1 1431.5,784.9 1433.8,785.2 C1436.2,785.5 1439.8,788.2 1441.6,789.6 C1443.3,791.1 1446.3,794.2 1447.1,796.3 C1447.8,798.3 1447.3,803.9 1447.3,805.1" stroke-width="2.4"/>
<path d="M1447.3,805.1 L1440.4,825.0 L1429.4,854.8 L1425.0,868.1 L1421.7,873.6" stroke-width="3.4"/>
<path d="M1450.6,800.9 L1443.8,825.0 L1433.8,854.8 L1429.4,868.1" stroke-width="2.4"/>
<path d="M1423.9,787.4 C1423.5,787.9 1421.8,789.2 1420.6,791.9 C1419.4,794.5 1413.5,809.5 1411.7,813.9 C1410.0,818.4 1404.0,833.2 1402.9,836.0 C1401.8,838.9 1401.5,841.3 1400.7,842.7 C1399.9,844.0 1395.7,848.6 1395.2,849.3" stroke-width="2.2"/>
<path d="M1395.2,849.3 L1344.4,874.7 L1343.3,878.0 L1364.2,896.8 L1367.6,897.0 L1418.4,872.7" stroke-width="2.0"/>
<path d="M1344.4,874.7 L1366.4,893.7 L1419.5,869.4" stroke-width="1.4"/>
<path d="M1367.0,895.7 L1418.4,871.9" stroke-width="3.0" stroke-linecap="butt"/>
<path d="M1397.4,850.4 L1422.8,868.1" stroke-width="1.4"/>
<path d="M1534.3,768.7 C1532.0,772.7 1515.9,802.5 1511.1,809.5 C1506.4,816.6 1490.9,835.3 1486.8,839.3 C1482.8,843.4 1471.9,849.3 1470.3,850.4" stroke-width="2.6"/>
<path d="M1543.2,767.6 C1540.6,772.0 1522.8,804.3 1517.8,811.7 C1512.7,819.1 1496.8,837.4 1492.4,841.6 C1487.9,845.7 1475.5,852.5 1473.6,853.7" stroke-width="2.6"/>
<path d="M1538.7,768.1 C1536.3,772.4 1519.4,803.4 1514.4,810.6 C1509.5,817.9 1492.1,837.5 1489.6,840.4" stroke-width="1.2"/>
<path d="M1444.9,829.4 L1472.5,851.5 L1474.9,857.0 L1471.6,862.5 L1465.0,865.0 L1461.7,860.6 L1453.7,866.1 L1450.4,872.5 L1443.8,876.0 L1440.4,872.7 L1441.6,868.3 L1436.0,871.6 L1425.0,877.1 L1420.8,873.6" stroke-width="2.2"/>
<path d="M1462.5,819.5 L1484.6,839.3" stroke-width="1.6"/>
<path d="M1454.8,826.1 L1473.6,843.8" stroke-width="1.4"/>
<ellipse cx="1458.7" cy="839.9" rx="2.4" ry="1.4" transform="rotate(25 1458.7 839.9)" stroke-width="1.6"/>
<path d="M1453.9,798.5 L1476.9,796.3 L1460.3,819.5 L1447.1,827.2" stroke-width="2.0"/>
<path d="M1476.9,796.3 L1522.2,783.0" stroke-width="1.2"/>
<path d="M1440.4,847.1 L1451.5,858.1 L1461.4,860.3" stroke-width="1.6"/>
<ellipse cx="1467.5" cy="860.9" rx="1.5" ry="1.1" transform="rotate(0 1467.5 860.9)" stroke-width="1.8"/>
<path d="M1357.4,937.5 L1360.5,930.9 L1362.0,926.8 L1365.6,924.7 L1370.2,927.8 L1375.9,923.7 L1379.0,918.6 L1382.0,916.5 L1387.7,921.1 L1395.9,917.6 L1420.0,938.6 L1420.5,941.1 L1411.8,944.2 L1417.4,947.8 L1416.9,950.4 L1410.7,958.6 L1404.1,963.2 L1396.4,966.0 L1394.3,964.7 L1388.2,958.6 L1391.8,952.9 L1385.1,956.5 L1382.5,958.6Z" stroke-width="2.6"/>
<path d="M1380.5,919.1 L1413.8,947.8" stroke-width="3.4" stroke-linecap="butt"/>
<path d="M1370.2,927.8 L1400.5,955.5" stroke-width="2.2"/>
<path d="M1358.5,936.0 L1383.6,957.0" stroke-width="3.2" stroke-linecap="butt"/>
<path d="M1362.0,926.8 L1364.1,930.9 L1368.7,930.4" stroke-width="2.4"/>
<path d="M1360.5,930.9 L1362.6,935.0" stroke-width="2"/>
<ellipse cx="1404.3" cy="930.4" rx="2.8" ry="1.7" transform="rotate(25 1404.3 930.4)" stroke-width="2.2"/>
<ellipse cx="1375.9" cy="944.5" rx="2.8" ry="1.7" transform="rotate(25 1375.9 944.5)" stroke-width="2.2"/>
<path d="M1417.4,948.3 C1416.5,949.7 1412.5,956.6 1410.7,958.6 C1409.0,960.5 1406.0,962.2 1404.1,963.2 C1402.2,964.1 1397.4,965.4 1396.4,965.7" stroke-width="4"/>
<path d="M1391.8,952.9 L1400.5,955.5 L1396.4,961.6" stroke-width="3"/>
<path d="M1411.8,943.7 L1420.0,940.1" stroke-width="4" stroke-linecap="butt"/>
<path d="M1345.8,947.1 L1338.6,961.3 L1343.2,963.6 L1350.3,949.4" stroke-width="1.8"/>
<path d="M1355.7,943.5 L1351.8,946.3 L1346.4,945.3 L1345.0,941.5 L1348.9,938.7 L1354.3,939.7Z" stroke-width="2" fill="#fff"/>
<path d="M1345.0,943.6 L1345.7,948.0 L1350.9,950.0 L1355.2,947.7 L1355.7,943.4" stroke-width="2"/>
<path d="M1350.9,946.2 L1350.9,950.0" stroke-width="1.4"/>
<path d="M1317.5,961.3 L1310.4,975.6 L1314.9,977.9 L1322.0,963.6" stroke-width="1.8"/>
<path d="M1327.4,957.7 L1323.5,960.5 L1318.2,959.4 L1316.7,955.7 L1320.7,952.9 L1326.0,953.9Z" stroke-width="2" fill="#fff"/>
<path d="M1316.8,957.8 L1317.5,962.2 L1322.7,964.2 L1326.9,961.9 L1327.4,957.6" stroke-width="2"/>
<path d="M1322.7,960.4 L1322.7,964.2" stroke-width="1.4"/>
<path d="M1378.6,969.8 L1371.5,983.7 L1376.0,986.0 L1383.1,972.1" stroke-width="1.8"/>
<path d="M1388.6,966.2 L1384.7,969.0 L1379.3,968.0 L1377.9,964.2 L1381.8,961.4 L1387.1,962.4Z" stroke-width="2" fill="#fff"/>
<path d="M1377.9,966.4 L1378.6,970.7 L1383.8,972.7 L1388.1,970.4 L1388.5,966.1" stroke-width="2"/>
<path d="M1383.8,968.9 L1383.8,972.7" stroke-width="1.4"/>
<path d="M1350.3,983.5 L1342.7,997.4 L1347.2,999.9 L1354.7,986.0" stroke-width="1.8"/>
<path d="M1360.3,980.1 L1356.4,982.8 L1351.0,981.8 L1349.6,978.0 L1353.5,975.3 L1358.9,976.3Z" stroke-width="2" fill="#fff"/>
<path d="M1349.7,980.2 L1350.3,984.6 L1355.5,986.5 L1359.8,984.2 L1360.3,980.0" stroke-width="2"/>
<path d="M1355.5,982.7 L1355.5,986.5" stroke-width="1.4"/>
<path d="M1336.8,976.9 L1333.2,980.1 L1327.8,979.3 L1325.9,975.4 L1329.4,972.3 L1334.9,973.0Z" stroke-width="2.4"/>
<path d="M1325.8,976.9 L1326.7,980.5 L1332.2,982.6 L1336.6,980.3 L1336.9,976.6" stroke-width="2.4"/>
<ellipse cx="1331.3" cy="976.2" rx="2.3" ry="1.6" transform="rotate(0 1331.3 976.2)" stroke-width="2.2"/>
<path d="M1332.2,979.6 L1332.2,982.6" stroke-width="1.6"/>
<path d="M1308.5,991.3 L1305.0,994.5 L1299.5,993.8 L1297.6,989.9 L1301.2,986.7 L1306.6,987.4Z" stroke-width="2.4"/>
<path d="M1297.5,991.3 L1298.5,995.0 L1304.0,997.0 L1308.4,994.7 L1308.6,991.0" stroke-width="2.4"/>
<ellipse cx="1303.1" cy="990.6" rx="2.3" ry="1.6" transform="rotate(0 1303.1 990.6)" stroke-width="2.2"/>
<path d="M1304.0,994.0 L1304.0,997.0" stroke-width="1.6"/>
<path d="M1369.6,999.4 L1366.1,1002.6 L1360.6,1001.8 L1358.7,997.9 L1362.3,994.8 L1367.7,995.5Z" stroke-width="2.4"/>
<path d="M1358.7,999.3 L1359.6,1003.0 L1365.1,1005.1 L1369.5,1002.8 L1369.7,999.1" stroke-width="2.4"/>
<ellipse cx="1364.2" cy="998.7" rx="2.3" ry="1.6" transform="rotate(0 1364.2 998.7)" stroke-width="2.2"/>
<path d="M1365.1,1002.1 L1365.1,1005.1" stroke-width="1.6"/>
<path d="M1340.8,1013.8 L1337.3,1017.0 L1331.8,1016.2 L1329.9,1012.3 L1333.5,1009.2 L1338.9,1009.9Z" stroke-width="2.4"/>
<path d="M1329.8,1013.8 L1330.7,1017.5 L1336.3,1019.5 L1340.7,1017.2 L1340.9,1013.5" stroke-width="2.4"/>
<ellipse cx="1335.4" cy="1013.1" rx="2.3" ry="1.6" transform="rotate(0 1335.4 1013.1)" stroke-width="2.2"/>
<path d="M1336.3,1016.5 L1336.3,1019.5" stroke-width="1.6"/>
<path d="M1427.6,1037.6 L1455.9,1006.5 L1503.2,1046.9 L1472.0,1078.6Z" stroke-width="1.8"/>
<path d="M1455.9,1006.5 L1464.5,996.7 L1509.5,1037.6 L1506.0,1042.2" stroke-width="1.8"/>
<path d="M1457.0,1008.2 L1514.7,1060.1" stroke-width="3.2" stroke-linecap="butt"/>
<path d="M1472.0,1078.6 L1476.1,1074.5 L1502.0,1047.4" stroke-width="1.6"/>
<path d="M1476.6,1081.5 L1486.4,1091.3 L1520.0,1055.5" stroke-width="1.8"/>
<path d="M1476.6,1081.5 L1509.5,1045.7 L1514.1,1041.7 L1523.3,1049.2 L1520.0,1055.5" stroke-width="1.8"/>
<path d="M1499.1,1049.2 L1503.7,1053.8" stroke-width="1.6"/>
<path d="M1506.0,1042.2 L1514.1,1049.7" stroke-width="1.6"/>
<path d="M1476.1,1074.5 L1479.5,1078.0" stroke-width="1.4"/>
<path d="M1618.8,1090.2 C1619.2,1089.5 1620.4,1086.2 1621.4,1085.1 C1622.3,1084.0 1625.2,1082.3 1625.7,1081.9" stroke-width="3"/>
<path d="M1621.1,1091.1 C1621.5,1090.6 1623.2,1088.0 1624.0,1087.1 C1624.9,1086.2 1627.0,1084.8 1627.5,1084.4" stroke-width="2"/>
<path d="M1624.6,1093.4 L1630.4,1087.7 L1665.5,1117.7 L1663.8,1122.8 L1658.0,1125.7 L1656.9,1125.2Z" stroke-width="2.2"/>
<ellipse cx="1661.0" cy="1120.8" rx="3.5" ry="1.6" transform="rotate(-45 1661.0 1120.8)" stroke-width="1" fill="#000"/>
<path d="M1637.3,1102.9 L1640.7,1098.9" stroke-width="3.2" stroke-linecap="butt"/>
<path d="M1646.5,1111.0 L1650.0,1106.9" stroke-width="3.2" stroke-linecap="butt"/>
<path d="M1635.5,1105.5 L1638.4,1108.4" stroke-width="2.2" stroke-linecap="butt"/>
<path d="M1645.4,1114.2 L1648.2,1111.3" stroke-width="2.2" stroke-linecap="butt"/>
<path d="M1719.7,1190.9 L1661.5,1135.0 L1663.8,1129.2 L1670.7,1121.1 L1677.6,1111.3 L1682.3,1114.2 L1684.0,1108.4 L1698.4,1121.1 L1697.2,1124.6" stroke-width="2.2"/>
<path d="M1697.2,1124.6 C1697.7,1125.2 1699.3,1127.3 1700.7,1129.2 C1702.1,1131.0 1705.5,1136.1 1707.6,1138.4 C1709.8,1140.7 1714.1,1144.9 1716.8,1146.5 C1719.6,1148.1 1726.8,1149.7 1728.4,1150.2" stroke-width="2.2"/>
<path d="M1728.4,1150.2 L1738.8,1155.9 L1742.8,1161.5 L1738.8,1170.7 L1736.4,1175.3" stroke-width="2.2"/>
<path d="M1719.7,1190.9 C1720.6,1191.0 1724.1,1192.5 1726.1,1191.5 C1728.0,1190.5 1732.6,1185.8 1734.1,1183.4 C1735.7,1180.9 1737.6,1175.3 1737.8,1173.0 C1738.0,1170.7 1735.8,1167.0 1735.5,1166.1" stroke-width="2.2"/>
<path d="M1720.9,1186.8 C1721.7,1185.5 1725.3,1179.2 1727.2,1176.5 C1729.2,1173.7 1734.4,1167.5 1735.5,1166.1" stroke-width="1.6"/>
<path d="M1677.6,1111.3 L1675.9,1124.6 L1731.8,1176.5" stroke-width="1.8"/>
<path d="M1682.3,1114.2 L1681.1,1117.7 L1735.9,1163.2" stroke-width="1.6"/>
<path d="M1691.5,1115.4 C1691.8,1116.3 1692.2,1119.7 1693.8,1122.3 C1695.3,1124.9 1700.2,1131.9 1703.0,1135.0 C1705.8,1138.0 1711.5,1143.2 1714.5,1145.3 C1717.6,1147.5 1724.5,1150.3 1726.1,1151.1" stroke-width="1.8"/>
<path d="M1692.6,1115.4 L1698.4,1120.0" stroke-width="3"/>
<path d="M1730.1,1149.9 L1737.6,1155.7" stroke-width="3"/>
<ellipse cx="1685.1" cy="1125.7" rx="2.3" ry="3.2" transform="rotate(-20 1685.1 1125.7)" stroke-width="2.2"/>
<ellipse cx="1670.4" cy="1139.6" rx="2.3" ry="3.2" transform="rotate(-20 1670.4 1139.6)" stroke-width="2.2"/>
<ellipse cx="1723.8" cy="1160.3" rx="2.3" ry="3.2" transform="rotate(-20 1723.8 1160.3)" stroke-width="2.2"/>
<ellipse cx="1691.5" cy="1122.8" rx="1.6" ry="2.5" transform="rotate(-20 1691.5 1122.8)" stroke-width="2"/>
<ellipse cx="1729.8" cy="1156.3" rx="1.4" ry="2.3" transform="rotate(-20 1729.8 1156.3)" stroke-width="2"/>
<ellipse cx="1651.7" cy="1148.8" rx="5.3" ry="5.3" transform="rotate(0 1651.7 1148.8)" stroke-width="1" fill="#000"/>
<path d="M1626.9,1175.9 L1643.6,1167.8" stroke-width="5" stroke-linecap="round"/>
<path d="M1626.9,1175.9 L1630.4,1174.2" stroke-width="8" stroke-linecap="round"/>
<path d="M1663.6,1201.8 C1663.6,1202.8 1663.0,1203.9 1662.4,1204.7 C1661.8,1205.6 1660.6,1206.3 1659.8,1207.0 C1658.9,1207.7 1658.0,1208.2 1657.4,1208.9 C1656.9,1209.6 1656.6,1210.2 1656.5,1211.1 C1656.4,1212.0 1656.6,1213.2 1656.6,1214.3 C1656.6,1215.4 1656.7,1216.8 1656.4,1217.8 C1656.0,1218.8 1655.4,1219.8 1654.6,1220.3 C1653.8,1220.8 1652.6,1220.9 1651.5,1220.9 C1650.5,1220.9 1649.2,1220.3 1648.2,1220.1 C1647.1,1219.9 1646.2,1219.5 1645.4,1219.5 C1644.5,1219.6 1643.9,1219.9 1643.1,1220.4 C1642.4,1220.9 1641.6,1221.9 1640.7,1222.6 C1639.9,1223.3 1638.8,1224.1 1637.8,1224.4 C1636.8,1224.7 1635.7,1224.7 1634.9,1224.3 C1634.0,1223.8 1633.2,1222.8 1632.6,1221.9 C1632.0,1221.0 1631.6,1219.6 1631.2,1218.7 C1630.7,1217.8 1630.5,1216.9 1629.9,1216.3 C1629.3,1215.7 1628.5,1215.5 1627.6,1215.2 C1626.7,1215.0 1625.4,1215.0 1624.3,1214.7 C1623.3,1214.4 1622.0,1214.0 1621.3,1213.3 C1620.5,1212.6 1620.0,1211.7 1619.8,1210.7 C1619.7,1209.7 1620.1,1208.4 1620.5,1207.4 C1620.8,1206.3 1621.7,1205.3 1622.1,1204.3 C1622.5,1203.4 1622.9,1202.7 1622.9,1201.8 C1622.9,1201.0 1622.5,1200.3 1622.1,1199.3 C1621.7,1198.4 1620.8,1197.3 1620.5,1196.3 C1620.1,1195.2 1619.7,1194.0 1619.8,1193.0 C1620.0,1192.0 1620.5,1191.0 1621.3,1190.4 C1622.0,1189.7 1623.3,1189.3 1624.3,1189.0 C1625.4,1188.7 1626.7,1188.7 1627.6,1188.4 C1628.5,1188.2 1629.3,1187.9 1629.9,1187.4 C1630.5,1186.8 1630.7,1185.9 1631.2,1185.0 C1631.6,1184.0 1632.0,1182.7 1632.6,1181.8 C1633.2,1180.8 1634.0,1179.8 1634.9,1179.4 C1635.7,1179.0 1636.8,1179.0 1637.8,1179.3 C1638.8,1179.5 1639.9,1180.4 1640.7,1181.1 C1641.6,1181.7 1642.4,1182.7 1643.1,1183.3 C1643.9,1183.8 1644.5,1184.1 1645.4,1184.2 C1646.2,1184.2 1647.1,1183.8 1648.2,1183.6 C1649.2,1183.3 1650.5,1182.8 1651.5,1182.8 C1652.6,1182.7 1653.8,1182.9 1654.6,1183.4 C1655.4,1183.9 1656.0,1184.9 1656.4,1185.9 C1656.7,1186.9 1656.6,1188.3 1656.6,1189.4 C1656.6,1190.5 1656.4,1191.7 1656.5,1192.6 C1656.6,1193.5 1656.9,1194.1 1657.4,1194.8 C1658.0,1195.5 1658.9,1195.9 1659.8,1196.6 C1660.6,1197.3 1661.8,1198.1 1662.4,1198.9 C1663.0,1199.8 1663.6,1200.9 1663.6,1201.8Z" stroke-width="3"/>
<ellipse cx="1636.7" cy="1203.0" rx="15.6" ry="17.3" transform="rotate(-15 1636.7 1203.0)" stroke-width="2.4"/>
<path d="M1650.0,1185.7 C1651.2,1187.1 1657.8,1192.8 1659.2,1196.1 C1660.6,1199.3 1661.0,1206.8 1660.3,1209.9 C1659.7,1213.0 1655.3,1217.9 1654.6,1219.1" stroke-width="2.4"/>
<path d="M1644.2,1184.0 C1645.4,1184.7 1651.2,1187.2 1652.8,1189.2 C1654.5,1191.1 1655.8,1197.1 1656.3,1198.4" stroke-width="3"/>
<path d="M1639.2,1205.1 L1636.8,1209.3 L1632.0,1209.3 L1629.6,1205.1 L1632.0,1200.9 L1636.8,1200.9Z" stroke-width="2"/>
<path d="M1634.4,1205.1 L1629.6,1205.1" stroke-width="1.4"/>
<path d="M1634.4,1205.1 L1636.8,1200.9" stroke-width="1.4"/>
<path d="M1634.4,1205.1 L1636.8,1209.2" stroke-width="1.4"/>
<path d="M1660.3,1190.9 L1665.5,1188.6" stroke-width="5" stroke-linecap="round"/>
<path d="M1642.5,1197.8 L1659.2,1190.3" stroke-width="1.4"/>

<!-- p_tools.svg -->
<path d="M1720.9,68.6 C1720.9,74.8 1720.6,136.0 1720.9,142.9 C1721.2,149.8 1723.3,150.1 1724.1,151.3 C1724.8,152.4 1727.6,155.5 1729.6,156.8 C1731.6,158.2 1746.7,166.2 1748.2,167.1" stroke-width="1.4"/>
<path d="M1728.3,68.6 C1728.3,74.6 1728.1,134.4 1728.3,141.0 C1728.6,147.7 1729.5,146.8 1731.5,148.5 C1733.5,150.2 1750.2,160.4 1751.9,161.5" stroke-width="1.4"/>
<path d="M1724.6,67.7 C1724.6,73.8 1724.3,135.1 1724.6,142.0 C1724.9,148.8 1725.6,148.1 1727.8,150.0 C1729.9,151.8 1748.2,163.1 1750.1,164.3" stroke-width="1.1"/>
<path d="M1720.9,68.6 C1721.5,68.3 1723.4,66.7 1724.6,66.7 C1725.9,66.7 1727.7,68.3 1728.3,68.6" stroke-width="1.3"/>
<path d="M1748.2,167.1 L1751.0,166.5 L1752.3,163.7 L1751.9,161.5" stroke-width="1.3"/>
<path d="M1707.7,106.7 C1707.7,112.9 1707.4,175.0 1707.7,181.9 C1708.0,188.9 1710.1,189.1 1710.9,190.3 C1711.6,191.4 1714.4,194.5 1716.4,195.9 C1718.4,197.2 1733.3,205.2 1734.8,206.1" stroke-width="1.4"/>
<path d="M1714.4,106.7 C1714.4,112.8 1714.1,173.3 1714.4,180.1 C1714.7,186.8 1715.5,185.8 1717.6,187.5 C1719.6,189.2 1736.8,199.4 1738.5,200.5" stroke-width="1.4"/>
<path d="M1711.0,105.7 C1711.0,112.0 1710.8,174.1 1711.0,181.0 C1711.3,187.9 1712.1,187.1 1714.2,189.0 C1716.3,190.8 1734.8,202.1 1736.7,203.3" stroke-width="1.1"/>
<path d="M1707.7,106.7 C1708.3,106.4 1709.9,104.8 1711.0,104.8 C1712.2,104.8 1713.8,106.4 1714.4,106.7" stroke-width="1.3"/>
<path d="M1734.8,206.1 L1737.6,205.5 L1738.9,202.7 L1738.5,200.5" stroke-width="1.3"/>
<path d="M1640.4,166.7 L1782.6,246.0" stroke-width="1.4"/>
<path d="M1637.7,172.6 L1779.8,255.3" stroke-width="1.4"/>
<path d="M1779.8,247.0 L1779.8,256.3" stroke-width="1.4"/>
<path d="M1634.9,167.4 L1640.4,166.1 L1645.1,170.8 L1638.6,174.1Z" stroke-width="1.6"/>
<path d="M1635.8,168.9 L1643.2,171.7" stroke-width="2"/>
<path d="M1783.1,228.0 L1786.9,220.0 L1799.9,218.2 L1811.4,223.7 L1811.8,244.2" stroke-width="1.6"/>
<path d="M1783.1,228.0 L1782.0,247.0" stroke-width="1.6"/>
<path d="M1785.4,227.4 L1788.2,221.9 L1799.3,220.6 L1808.6,225.0 L1805.8,233.0 L1793.7,234.3Z" stroke-width="1.4"/>
<path d="M1793.7,234.3 L1793.2,251.6" stroke-width="1.4"/>
<path d="M1805.8,233.0 L1806.2,249.7" stroke-width="1.4"/>
<path d="M1785.4,227.4 L1785.0,247.0" stroke-width="1.2"/>
<path d="M1782.0,247.0 C1782.7,247.7 1785.7,251.8 1787.2,252.5 C1788.8,253.2 1792.1,252.0 1793.7,252.2 C1795.3,252.3 1797.6,253.7 1799.3,253.5 C1801.0,253.2 1805.0,251.5 1806.7,250.3 C1808.4,249.1 1811.4,245.0 1812.1,244.2" stroke-width="1.4"/>
<path d="M1781.7,247.0 L1781.7,289.7" stroke-width="1.6"/>
<path d="M1812.3,244.2 L1812.3,289.7" stroke-width="1.6"/>
<path d="M1781.7,289.7 C1784.1,290.5 1791.4,294.3 1796.5,294.3 C1801.6,294.3 1809.7,290.5 1812.3,289.7" stroke-width="1.4"/>
<path d="M1780.2,295.3 C1782.9,296.0 1790.9,299.9 1796.5,299.9 C1802.2,299.9 1811.2,296.0 1814.2,295.3" stroke-width="1.4"/>
<path d="M1781.7,289.7 L1777.9,299.0 L1777.9,317.6 L1791.9,323.1 L1816.0,317.6 L1816.0,299.0 L1812.3,289.7" stroke-width="1.6"/>
<path d="M1777.9,302.7 C1779.2,303.5 1783.0,306.1 1785.4,307.3 C1787.7,308.6 1790.8,309.7 1791.9,310.1" stroke-width="1.3"/>
<path d="M1791.9,310.1 C1793.9,309.8 1799.9,309.5 1804.0,308.3 C1808.0,307.0 1814.0,303.6 1816.0,302.7" stroke-width="1.3"/>
<path d="M1791.9,310.1 L1791.9,323.1" stroke-width="1.3"/>
<path d="M1781.7,299.9 L1781.3,318.5" stroke-width="1.1"/>
<path d="M1811.4,300.8 L1811.4,318.5" stroke-width="1.1"/>
<path d="M1664.1,343.0 C1664.4,340.0 1665.9,333.2 1667.5,331.1 C1669.1,328.9 1673.3,326.5 1677.7,324.3 C1682.0,322.0 1700.1,313.3 1704.9,311.7 C1709.6,310.1 1715.5,310.0 1718.4,310.7 C1721.4,311.4 1728.4,315.1 1730.3,317.5 C1732.2,319.9 1734.5,328.1 1734.7,331.1 C1734.9,334.0 1733.5,340.6 1732.0,343.0 C1730.5,345.3 1726.4,348.5 1721.8,351.4 C1717.3,354.4 1697.5,366.2 1693.0,368.4 C1688.4,370.7 1685.4,371.0 1682.8,370.8 C1680.2,370.6 1673.0,368.4 1670.9,366.7 C1668.8,365.1 1665.6,359.3 1664.8,356.5 C1664.0,353.8 1663.8,345.9 1664.1,343.0Z" stroke-width="1.5"/>
<path d="M1670.9,327.7 C1670.7,329.3 1669.1,335.5 1669.5,339.6 C1670.0,343.6 1672.2,354.3 1674.3,358.2 C1676.4,362.2 1683.7,367.9 1685.2,369.4" stroke-width="1.3"/>
<path d="M1708.3,468.6 L1631.9,480.5 L1647.1,516.1 L1720.5,504.2" stroke-width="2.0"/>
<path d="M1708.3,468.6 C1709.2,466.3 1711.4,455.7 1715.0,451.6 C1718.6,447.5 1727.9,440.5 1735.4,438.0 C1742.9,435.5 1766.3,433.7 1771.0,433.0" stroke-width="2.0"/>
<path d="M1771.0,433.0 L1793.1,387.1 L1852.6,395.6 L1832.2,441.4" stroke-width="2.0"/>
<path d="M1832.2,441.4 C1835.1,443.4 1850.5,452.2 1854.3,456.7 C1858.1,461.2 1860.8,470.6 1861.0,475.4 C1861.2,480.2 1856.7,490.1 1856.0,492.4" stroke-width="2.0"/>
<path d="M1856.0,492.4 L1912.0,523.6 L1869.0,549.4 L1811.0,517.2" stroke-width="2.0"/>
<path d="M1720.5,504.2 C1723.1,505.5 1731.9,511.8 1740.0,514.0 C1748.1,516.2 1771.5,520.2 1781.0,520.6 C1790.5,521.0 1807.0,517.7 1811.0,517.2" stroke-width="2.0"/>
<ellipse cx="1784.0" cy="477.0" rx="15.6" ry="8.5" transform="rotate(0 1784.0 477.0)" stroke-width="1.6"/>
<path d="M1793.1,387.1 C1797.0,387.2 1814.1,386.9 1822.0,388.0 C1829.9,389.1 1848.5,394.6 1852.6,395.6" stroke-width="1.2"/>
<path d="M1690.4,632.5 L1746.3,611.8" stroke-width="1.4"/>
<path d="M1699.1,641.6 L1751.2,622.3" stroke-width="1.4"/>
<path d="M1690.4,632.5 C1691.1,632.8 1694.9,633.6 1695.7,634.6 C1696.6,635.5 1696.1,638.6 1696.6,639.5 C1697.0,640.5 1698.7,641.3 1699.1,641.6" stroke-width="1.4"/>
<path d="M1754.6,626.3 C1754.2,625.9 1752.2,624.0 1751.2,623.0 C1750.3,621.9 1746.9,618.5 1746.3,617.2 C1745.6,615.8 1745.2,612.6 1745.4,611.4 C1745.6,610.1 1746.9,607.4 1747.9,606.4 C1749.0,605.4 1753.8,603.5 1754.6,603.1" stroke-width="1.5"/>
<path d="M1747.9,606.4 L1762.8,599.8" stroke-width="1.4"/>
<path d="M1754.6,603.1 L1763.7,598.9" stroke-width="1.2"/>
<path d="M1746.3,611.8 C1746.9,611.6 1750.1,610.3 1751.2,610.5 C1752.3,610.8 1753.9,612.6 1754.6,613.8 C1755.2,615.1 1756.2,618.0 1756.2,619.6 C1756.2,621.3 1754.8,625.4 1754.6,626.3" stroke-width="1.4"/>
<path d="M1754.6,626.3 L1765.3,622.1 L1772.8,618.0" stroke-width="1.5"/>
<path d="M1760.8,606.4 C1760.3,606.8 1757.9,608.2 1757.5,609.7 C1757.0,611.2 1756.8,616.1 1757.0,618.0 C1757.3,619.9 1759.2,623.0 1759.5,623.8" stroke-width="2.6"/>
<path d="M1764.7,605.7 C1764.3,606.2 1761.9,607.7 1761.4,609.2 C1760.9,610.7 1760.7,615.5 1761.0,617.2 C1761.3,618.9 1763.2,621.3 1763.5,622.0" stroke-width="2.6"/>
<path d="M1768.7,605.1 C1768.3,605.5 1765.9,607.2 1765.4,608.7 C1764.9,610.2 1764.7,614.8 1765.0,616.3 C1765.3,617.9 1767.1,619.6 1767.5,620.1" stroke-width="2.6"/>
<path d="M1772.7,604.4 C1772.3,604.9 1769.9,606.7 1769.4,608.2 C1768.9,609.7 1768.7,614.2 1769.0,615.5 C1769.2,616.8 1771.1,617.9 1771.5,618.3" stroke-width="2.6"/>
<path d="M1757.9,603.1 L1771.1,606.4 L1773.6,609.7" stroke-width="1.6"/>
<path d="M1771.1,611.4 L1773.2,610.7" stroke-width="2.4"/>
<path d="M1769.9,618.0 L1771.9,617.2" stroke-width="2.4"/>
<path d="M1762.8,599.8 L1778.6,592.3 L1779.4,590.6 L1799.3,580.3 L1820.0,591.9 L1824.1,601.4 L1822.5,603.1 L1794.3,614.7 L1791.0,613.8 L1772.8,618.0" stroke-width="1.5"/>
<path d="M1778.6,592.3 L1800.1,599.8 L1820.0,591.9" stroke-width="1.3"/>
<path d="M1779.4,590.6 L1800.9,597.7" stroke-width="1.2"/>
<path d="M1800.1,599.8 L1791.0,613.8" stroke-width="1.3"/>
<path d="M1794.3,614.7 C1794.0,614.0 1792.0,611.2 1791.8,609.7 C1791.6,608.2 1792.1,604.5 1792.7,603.1 C1793.2,601.6 1795.5,599.5 1796.0,598.9" stroke-width="1.3"/>
<path d="M1796.0,601.4 L1804.3,609.7 L1822.5,603.1" stroke-width="1.3"/>
<path d="M1793.5,586.5 L1798.5,583.9 L1810.1,590.8 L1804.3,594.0Z" stroke-width="1" fill="#000"/>
<path d="M1794.7,587.3 L1805.5,593.3" stroke="#fff" stroke-width="0.7"/>
<path d="M1796.1,586.6 L1806.7,592.6" stroke="#fff" stroke-width="0.7"/>
<path d="M1797.5,585.8 L1807.8,591.8" stroke="#fff" stroke-width="0.7"/>
<path d="M1799.0,585.1 L1809.0,591.1" stroke="#fff" stroke-width="0.7"/>
<path d="M1786.9,589.0 L1791.8,586.5 L1802.6,592.7 L1797.6,595.2Z" stroke-width="1.2"/>
<path d="M1788.5,590.6 L1799.3,596.4" stroke-width="1.1"/>
<ellipse cx="1786.9" cy="593.0" rx="1.0" ry="0.7" transform="rotate(0 1786.9 593.0)" stroke-width="1" fill="#000"/>
<ellipse cx="1791.4" cy="595.6" rx="1.0" ry="0.7" transform="rotate(0 1791.4 595.6)" stroke-width="1" fill="#000"/>
<ellipse cx="1773.4" cy="597.7" rx="1.0" ry="0.7" transform="rotate(0 1773.4 597.7)" stroke-width="1" fill="#000"/>
<ellipse cx="1778.2" cy="600.6" rx="1.0" ry="0.7" transform="rotate(0 1778.2 600.6)" stroke-width="1" fill="#000"/>
<path d="M1791.0,584.0 C1791.4,582.7 1792.9,576.2 1794.3,574.1 C1795.7,571.9 1799.6,568.9 1801.8,567.9 C1804.0,566.8 1808.3,565.9 1810.9,566.2 C1813.4,566.5 1818.5,568.4 1820.8,569.9 C1823.1,571.4 1826.7,575.1 1828.3,577.4 C1829.8,579.7 1831.8,584.5 1832.4,587.3 C1833.1,590.2 1833.5,596.1 1833.2,598.9 C1833.0,601.8 1831.9,606.6 1830.8,608.9 C1829.7,611.2 1827.0,614.9 1825.0,616.3 C1823.0,617.8 1818.2,619.4 1815.9,619.6 C1813.5,619.9 1809.3,618.8 1807.6,618.0 C1805.8,617.2 1803.3,614.4 1802.6,613.8" stroke-width="1.5"/>
<path d="M1804.3,567.5 C1805.6,568.2 1812.0,571.4 1814.2,573.3 C1816.4,575.1 1819.4,578.9 1820.8,581.5 C1822.3,584.2 1824.3,590.3 1825.0,593.1 C1825.6,596.0 1825.9,600.6 1825.8,603.1 C1825.7,605.5 1824.4,610.3 1824.1,611.4" stroke-width="1.2"/>
<path d="M1791.0,584.0 L1790.6,580.7 L1792.2,579.9" stroke-width="1.4"/>
<path d="M1832.4,584.9 L1839.9,586.5 L1838.2,594.0 L1834.1,593.1" stroke-width="1.4"/>
<path d="M1834.9,585.7 L1833.2,592.7" stroke-width="1.1"/>
<path d="M1828.3,599.8 L1834.9,598.9 L1833.2,608.0 L1827.4,609.7" stroke-width="1.4"/>
<path d="M1826.6,610.5 L1832.4,609.7 L1830.8,614.7 L1825.0,616.3" stroke-width="1.3"/>
<defs><pattern id="xh" width="11.4" height="11.4" patternUnits="userSpaceOnUse"><rect width="11.4" height="11.4" fill="#fff" stroke="none"/><path d="M0,11.4 L11.4,0 M-2,2 L2,-2 M9.4,13.4 L13.4,9.4" stroke="#000" stroke-width="1.3" fill="none"/><path d="M0,0 L11.4,11.4 M-2,9.4 L2,13.4 M9.4,-2 L13.4,2" stroke="#000" stroke-width="1.2" fill="none"/><path d="M5.7,5.7 L11,5.7" stroke="#000" stroke-width="0.9"/></pattern></defs>
<path d="M1871.0,678.7 C1874.2,677.7 1902.2,686.6 1907.6,688.6 C1912.9,690.6 1931.1,700.0 1935.3,702.5 C1939.4,704.9 1952.7,714.7 1957.0,718.3 C1961.3,721.9 1981.8,742.1 1986.7,746.0 C1991.7,750.0 2010.6,763.0 2016.4,765.8 C2022.2,768.6 2053.0,776.2 2056.0,779.6 C2058.9,783.1 2055.3,805.9 2052.0,807.4 C2048.7,808.8 2021.8,799.4 2016.4,797.5 C2011.0,795.5 1991.7,786.7 1986.7,783.6 C1981.8,780.5 1962.0,764.1 1957.0,759.9 C1952.1,755.6 1932.3,736.3 1927.4,732.2 C1922.4,728.0 1902.5,713.0 1897.7,710.4 C1892.8,707.8 1871.2,703.1 1869.0,700.5 C1866.8,697.9 1867.7,679.7 1871.0,678.7Z" stroke-width="1.5" fill="url(#xh)"/>
<path d="M1873.9,650.0 C1877.1,648.0 1901.5,657.0 1907.6,658.9 C1913.7,660.8 1941.4,670.5 1947.1,672.8 C1952.9,675.1 1971.1,683.8 1976.8,686.6 C1982.6,689.4 2010.1,704.3 2016.4,706.4 C2022.7,708.6 2049.2,709.4 2052.0,712.4 C2054.8,715.3 2053.0,739.9 2050.0,742.1 C2047.1,744.2 2021.7,739.2 2016.4,738.1 C2011.1,736.9 1991.7,730.0 1986.7,728.2 C1981.8,726.4 1961.3,718.5 1957.0,716.3 C1952.7,714.2 1939.4,704.8 1935.3,702.5 C1931.1,700.2 1913.0,690.2 1907.6,688.6 C1902.1,687.1 1872.8,686.9 1870.0,683.7 C1867.2,680.5 1870.8,652.1 1873.9,650.0Z" stroke-width="1.5" fill="url(#xh)"/>
<path d="M2057.0,707.4 L2046.1,749.0" stroke-width="2.8"/>
<path d="M2059.5,708.0 L2048.5,749.6" stroke-width="1.2"/>
<path d="M2050.4,720.7 L2065.9,724.6 L2069.4,730.6 L2063.9,735.7 L2048.5,734.5" stroke-width="1.5" fill="#fff"/>
<path d="M2068.2,729.8 C2070.9,730.5 2082.1,734.5 2085.7,734.5 C2089.2,734.6 2091.0,732.2 2092.0,730.2 C2092.9,728.2 2093.1,723.2 2092.0,721.3 C2090.9,719.3 2087.1,717.6 2084.7,717.3 C2082.2,717.0 2077.1,719.0 2075.8,719.3" stroke-width="1.4"/>
<path d="M2067.9,732.6 C2070.6,733.2 2082.0,737.2 2086.1,737.1 C2090.1,737.0 2093.4,734.3 2094.6,731.8 C2095.8,729.2 2095.5,722.4 2094.0,719.9 C2092.5,717.4 2087.5,715.4 2084.7,714.9 C2081.9,714.5 2076.8,716.6 2075.4,716.9" stroke-width="1.4"/>
<path d="M2059.9,775.7 L2049.1,817.2" stroke-width="2.8"/>
<path d="M2062.5,776.3 L2051.4,817.8" stroke-width="1.2"/>
<path d="M2053.4,789.0 L2068.8,792.9 L2072.4,798.8 L2066.9,804.0 L2051.4,802.8" stroke-width="1.5" fill="#fff"/>
<path d="M2071.2,798.1 C2073.8,798.8 2085.1,802.7 2088.6,802.8 C2092.2,802.9 2094.0,800.4 2095.0,798.4 C2095.9,796.5 2096.1,791.5 2095.0,789.5 C2093.9,787.6 2090.1,785.9 2087.6,785.6 C2085.2,785.3 2080.1,787.3 2078.7,787.6" stroke-width="1.4"/>
<path d="M2070.8,800.8 C2073.5,801.5 2085.0,805.5 2089.0,805.4 C2093.0,805.3 2096.3,802.6 2097.5,800.0 C2098.7,797.4 2098.4,790.7 2096.9,788.2 C2095.5,785.6 2090.4,783.7 2087.6,783.2 C2084.8,782.8 2079.7,784.9 2078.3,785.2" stroke-width="1.4"/>

</g>
<g fill="none" stroke="#000" stroke-width="1.25" stroke-linejoin="miter">
<polyline points="224.0,96.0 263.5,96.0 535.5,124.0"/>
<polyline points="224.0,139.0 263.5,139.0 539.0,152.6"/>
<polyline points="224.0,182.3 263.5,182.3 536.6,165.0"/>
<polyline points="224.0,225.3 263.5,225.3 583.0,171.6"/>
<polyline points="224.0,267.6 263.5,267.6 596.6,176.6"/>
<polyline points="224.0,310.6 263.5,310.6 541.6,278.3"/>
<polyline points="412.0,345.0 450.5,345.0 550.0,273.0"/>
<polyline points="448.4,377.8 486.9,377.8 560.0,275.0"/>
<polyline points="484.8,410.6 523.3,410.6 576.6,250.0"/>
<polyline points="521.2,443.3 559.7,443.3 641.6,248.0"/>
<polyline points="557.6,476.1 596.1,476.1 658.0,238.0"/>
<polyline points="594.0,508.9 632.5,508.9 683.0,308.0"/>
<polyline points="630.4,541.7 668.9,541.7 719.0,322.0"/>
<polyline points="666.8,574.5 705.3,574.5 752.0,340.0"/>
<polyline points="703.2,607.2 741.7,607.2 845.0,418.0"/>
<polyline points="739.6,640.0 778.1,640.0 860.0,431.6"/>
<polyline points="776.0,672.8 814.5,672.8 878.0,468.0"/>
<polyline points="812.4,705.6 850.9,705.6 910.0,506.6"/>
<polyline points="848.8,738.4 887.3,738.4 955.0,490.0"/>
<polyline points="885.2,771.1 923.7,771.1 965.0,511.6"/>
<polyline points="921.6,803.9 960.1,803.9 973.0,516.6"/>
<polyline points="958.0,836.7 996.5,836.7 983.0,523.0"/>
<polyline points="994.4,869.5 1032.9,869.5 1011.6,543.0"/>
<polyline points="1030.8,902.3 1069.3,902.3 1026.6,566.6"/>
<polyline points="1067.2,935.0 1105.7,935.0 1056.6,583.0"/>
<polyline points="1103.6,967.8 1142.1,967.8 1060.0,605.0"/>
<polyline points="1140.0,1000.6 1178.5,1000.6 1085.0,603.0"/>
<polyline points="1176.4,1033.4 1214.9,1033.4 1106.6,628.0"/>
<polyline points="856.0,97.6 894.3,97.6 888.0,180.0"/>
<polyline points="905.0,97.6 943.0,97.6 959.0,186.6"/>
<polyline points="954.0,97.6 992.6,97.6 976.6,148.0"/>
<polyline points="1003.0,97.6 1041.6,97.6 1090.0,140.0"/>
<polyline points="1286.6,97.6 1248.0,97.6 1136.6,216.6"/>
<polyline points="1336.0,97.6 1297.6,97.6 1132.0,396.6"/>
<polyline points="1384.0,97.6 1345.6,97.6 1230.0,336.6"/>
<polyline points="1433.0,97.6 1395.0,97.6 1250.0,353.0"/>
<polyline points="1481.8,97.6 1443.0,97.6 1266.6,361.6"/>
<polyline points="1531.0,97.6 1492.6,97.6 1266.6,473.0"/>
<polyline points="1597.0,97.6 1558.8,97.6 1306.6,475.0"/>
<polyline points="2061.0,133.4 2022.0,133.4 1721.8,118.0"/>
<polyline points="2061.0,213.0 2022.0,213.0 1715.7,167.0"/>
<polyline points="2061.0,293.7 2022.0,293.7 1796.5,263.0"/>
<polyline points="2061.0,375.9 2022.0,375.9 1716.7,336.0"/>
<polyline points="2061.0,505.0 2022.0,505.0 1835.6,472.0"/>
<polyline points="2057.0,609.5 2019.0,609.5 1826.6,582.4"/>
<polyline points="2057.0,673.0 2019.0,673.0 1922.7,677.0"/>
<polyline points="1880.0,839.0 1841.0,839.0 1469.7,778.0"/>
<polyline points="1880.0,936.0 1841.6,936.0 1683.0,1113.0"/>
<polyline points="1880.0,979.0 1841.6,979.0 1690.0,1120.0"/>
<polyline points="1880.0,1021.6 1841.6,1021.6 1653.0,1145.0"/>
<polyline points="1880.0,1064.0 1841.6,1064.0 1661.6,1188.0"/>
<polyline points="1700.0,979.0 1658.0,979.0 1623.0,1086.6"/>
<polyline points="1748.0,979.0 1705.0,979.0 1648.0,1110.0"/>
<polyline points="1282.6,1132.0 1321.0,1132.0 1351.6,996.6"/>
<polyline points="1319.0,1165.0 1357.6,1165.0 1366.0,1005.0"/>
<polyline points="1355.6,1198.0 1394.0,1198.0 1404.0,960.0"/>
<polyline points="1386.6,1237.6 1425.0,1237.6 1473.0,1056.6"/>
<polyline points="168.0,1490.6 206.7,1490.6 769.5,1122.0"/>
<polyline points="290.0,1490.6 329.0,1490.6 743.0,1152.8"/>
<polyline points="413.0,1490.6 452.0,1490.6 762.0,1174.0"/>
<polyline points="535.6,1490.6 574.0,1490.6 785.7,1201.0"/>
<polyline points="657.8,1490.6 696.0,1490.6 831.0,1363.8"/>
<polyline points="128.0,726.0 90.0,726.0 66.6,463.0"/>
<polyline points="90.0,849.0 128.0,849.0 498.0,967.6"/>
<polyline points="90.0,910.0 128.0,910.0 499.6,1059.0"/>
<polyline points="90.0,971.6 128.0,971.6 395.4,1156.0"/>
<polyline points="89.0,1036.0 127.6,1036.0 370.0,1305.5"/>
<polyline points="824.0,869.0 786.0,869.0 408.0,635.0"/>
<polyline points="220.6,374.0 259.0,374.0 231.0,427.6"/>
<polyline points="906.6,149.0 942.6,149.0 948.0,191.6"/>
<polyline points="825.0,992.0 786.0,992.0 572.0,1197.0"/>
<polyline points="90,787 128,787 139,797.6 150,787 188,787 371.6,733"/>
<polyline points="652,684.3 750,804 788,804 798.3,815 808,804 847,804"/>
<polyline points="1521,990.8 1839,887.7 1880,887.7 1889,897 1899,887.7 1937.7,887.7"/>
</g>
<g id="labels" font-family="'Liberation Sans',sans-serif" fill="#000" stroke="#fff" stroke-width="1.0" opacity="0.999">
<text transform="translate(244.8 89.5) scale(0.52 1)" font-size="42" text-anchor="middle">1</text>
<text transform="translate(244.8 132.5) scale(0.52 1)" font-size="42" text-anchor="middle">2</text>
<text transform="translate(244.8 175.8) scale(0.52 1)" font-size="42" text-anchor="middle">3</text>
<text transform="translate(244.8 218.8) scale(0.52 1)" font-size="42" text-anchor="middle">4</text>
<text transform="translate(244.8 261.1) scale(0.52 1)" font-size="42" text-anchor="middle">5</text>
<text transform="translate(244.8 304.1) scale(0.52 1)" font-size="42" text-anchor="middle">6</text>
<text transform="translate(432.2 338.5) scale(0.52 1)" font-size="42" text-anchor="middle">7</text>
<text transform="translate(468.6 371.3) scale(0.52 1)" font-size="42" text-anchor="middle">8</text>
<text transform="translate(505.0 404.1) scale(0.52 1)" font-size="42" text-anchor="middle">9</text>
<text transform="translate(541.6 436.8) scale(0.52 1)" font-size="42" text-anchor="middle" letter-spacing="0.5">10</text>
<text transform="translate(577.6 469.6) scale(0.52 1)" font-size="42" text-anchor="middle" letter-spacing="-1">11</text>
<text transform="translate(614.4 502.4) scale(0.52 1)" font-size="42" text-anchor="middle" letter-spacing="0.5">12</text>
<text transform="translate(650.8 535.2) scale(0.52 1)" font-size="42" text-anchor="middle" letter-spacing="0.5">13</text>
<text transform="translate(687.2 568.0) scale(0.52 1)" font-size="42" text-anchor="middle" letter-spacing="0.5">14</text>
<text transform="translate(723.6 600.7) scale(0.52 1)" font-size="42" text-anchor="middle" letter-spacing="0.5">15</text>
<text transform="translate(760.0 633.5) scale(0.52 1)" font-size="42" text-anchor="middle" letter-spacing="0.5">16</text>
<text transform="translate(796.4 666.3) scale(0.52 1)" font-size="42" text-anchor="middle" letter-spacing="0.5">17</text>
<text transform="translate(832.8 699.1) scale(0.52 1)" font-size="42" text-anchor="middle" letter-spacing="0.5">18</text>
<text transform="translate(869.2 731.9) scale(0.52 1)" font-size="42" text-anchor="middle" letter-spacing="0.5">19</text>
<text transform="translate(906.8 764.6) scale(0.52 1)" font-size="42" text-anchor="middle" letter-spacing="5">20</text>
<text transform="translate(942.0 797.4) scale(0.52 1)" font-size="42" text-anchor="middle" letter-spacing="0.5">21</text>
<text transform="translate(979.5 830.2) scale(0.52 1)" font-size="42" text-anchor="middle" letter-spacing="5">22</text>
<text transform="translate(1016.0 863.0) scale(0.52 1)" font-size="42" text-anchor="middle" letter-spacing="5">23</text>
<text transform="translate(1052.3 895.8) scale(0.52 1)" font-size="42" text-anchor="middle" letter-spacing="5">24</text>
<text transform="translate(1088.7 928.5) scale(0.52 1)" font-size="42" text-anchor="middle" letter-spacing="5">25</text>
<text transform="translate(1125.1 961.3) scale(0.52 1)" font-size="42" text-anchor="middle" letter-spacing="5">26</text>
<text transform="translate(1161.5 994.1) scale(0.52 1)" font-size="42" text-anchor="middle" letter-spacing="5">27</text>
<text transform="translate(1198.0 1026.9) scale(0.52 1)" font-size="42" text-anchor="middle" letter-spacing="5">28</text>
<text transform="translate(876.3 91.1) scale(0.52 1)" font-size="42" text-anchor="middle" letter-spacing="0.5">31</text>
<text transform="translate(926.3 91.1) scale(0.52 1)" font-size="42" text-anchor="middle" letter-spacing="5">32</text>
<text transform="translate(975.6 91.1) scale(0.52 1)" font-size="42" text-anchor="middle" letter-spacing="5">33</text>
<text transform="translate(1024.6 91.1) scale(0.52 1)" font-size="42" text-anchor="middle" letter-spacing="5">34</text>
<text transform="translate(1269.6 91.1) scale(0.52 1)" font-size="42" text-anchor="middle" letter-spacing="5">35</text>
<text transform="translate(1319.1 91.1) scale(0.52 1)" font-size="42" text-anchor="middle" letter-spacing="5">36</text>
<text transform="translate(1367.1 91.1) scale(0.52 1)" font-size="42" text-anchor="middle" letter-spacing="5">37</text>
<text transform="translate(1416.3 91.1) scale(0.52 1)" font-size="42" text-anchor="middle" letter-spacing="5">38</text>
<text transform="translate(1464.7 91.1) scale(0.52 1)" font-size="42" text-anchor="middle" letter-spacing="5">39</text>
<text transform="translate(1514.1 91.1) scale(0.52 1)" font-size="42" text-anchor="middle" letter-spacing="5">40</text>
<text transform="translate(1580.2 91.1) scale(0.52 1)" font-size="42" text-anchor="middle" letter-spacing="5">60</text>
<text transform="translate(2043.8 126.9) scale(0.52 1)" font-size="42" text-anchor="middle" letter-spacing="5">66</text>
<text transform="translate(2043.8 206.5) scale(0.52 1)" font-size="42" text-anchor="middle" letter-spacing="5">67</text>
<text transform="translate(2043.8 287.2) scale(0.52 1)" font-size="42" text-anchor="middle" letter-spacing="5">68</text>
<text transform="translate(2043.8 369.4) scale(0.52 1)" font-size="42" text-anchor="middle" letter-spacing="5">69</text>
<text transform="translate(2043.8 498.5) scale(0.52 1)" font-size="42" text-anchor="middle" letter-spacing="5">70</text>
<text transform="translate(2039.1 603.0) scale(0.52 1)" font-size="42" text-anchor="middle" letter-spacing="0.5">71</text>
<text transform="translate(2040.3 666.5) scale(0.52 1)" font-size="42" text-anchor="middle" letter-spacing="5">72</text>
<text transform="translate(1861.6 832.5) scale(0.52 1)" font-size="42" text-anchor="middle" letter-spacing="0.5">61</text>
<text transform="translate(1863.1 929.5) scale(0.52 1)" font-size="42" text-anchor="middle" letter-spacing="5">44</text>
<text transform="translate(1863.1 972.5) scale(0.52 1)" font-size="42" text-anchor="middle" letter-spacing="5">45</text>
<text transform="translate(1863.1 1015.1) scale(0.52 1)" font-size="42" text-anchor="middle" letter-spacing="5">46</text>
<text transform="translate(1863.1 1057.5) scale(0.52 1)" font-size="42" text-anchor="middle" letter-spacing="5">47</text>
<text transform="translate(1681.3 972.5) scale(0.52 1)" font-size="42" text-anchor="middle" letter-spacing="5">27</text>
<text transform="translate(1728.8 972.5) scale(0.52 1)" font-size="42" text-anchor="middle" letter-spacing="5">28</text>
<text transform="translate(1304.1 1125.5) scale(0.52 1)" font-size="42" text-anchor="middle" letter-spacing="5">65</text>
<text transform="translate(1340.6 1158.5) scale(0.52 1)" font-size="42" text-anchor="middle" letter-spacing="5">64</text>
<text transform="translate(1377.1 1191.5) scale(0.52 1)" font-size="42" text-anchor="middle" letter-spacing="5">63</text>
<text transform="translate(1408.1 1231.1) scale(0.52 1)" font-size="42" text-anchor="middle" letter-spacing="5">62</text>
<text transform="translate(189.7 1484.1) scale(0.52 1)" font-size="42" text-anchor="middle" letter-spacing="5">55</text>
<text transform="translate(311.8 1484.1) scale(0.52 1)" font-size="42" text-anchor="middle" letter-spacing="5">56</text>
<text transform="translate(434.8 1484.1) scale(0.52 1)" font-size="42" text-anchor="middle" letter-spacing="5">57</text>
<text transform="translate(557.1 1484.1) scale(0.52 1)" font-size="42" text-anchor="middle" letter-spacing="5">58</text>
<text transform="translate(679.2 1484.1) scale(0.52 1)" font-size="42" text-anchor="middle" letter-spacing="5">59</text>
<text transform="translate(111.3 719.5) scale(0.52 1)" font-size="42" text-anchor="middle" letter-spacing="5">50</text>
<text transform="translate(110.1 842.5) scale(0.52 1)" font-size="42" text-anchor="middle" letter-spacing="0.5">51</text>
<text transform="translate(111.3 903.5) scale(0.52 1)" font-size="42" text-anchor="middle" letter-spacing="5">52</text>
<text transform="translate(111.3 965.1) scale(0.52 1)" font-size="42" text-anchor="middle" letter-spacing="5">53</text>
<text transform="translate(110.6 1029.5) scale(0.52 1)" font-size="42" text-anchor="middle" letter-spacing="5">54</text>
<text transform="translate(806.1 862.5) scale(0.52 1)" font-size="42" text-anchor="middle" letter-spacing="0.5">41</text>
<text transform="translate(241.5 367.5) scale(0.66 1)" font-size="25" text-anchor="middle" stroke-width="0.6" letter-spacing="2">26</text>
<text transform="translate(926.3 142.5) scale(0.66 1)" font-size="25" text-anchor="middle" stroke-width="0.6" letter-spacing="2">26</text>
<text transform="translate(807.2 985.5) scale(0.66 1)" font-size="25" text-anchor="middle" stroke-width="0.6" letter-spacing="2">26</text>
<text transform="translate(110.3 780.5) scale(0.52 1)" font-size="42" text-anchor="middle" letter-spacing="5">49</text>
<text transform="translate(170.3 780.5) scale(0.52 1)" font-size="42" text-anchor="middle" letter-spacing="5">48</text>
<text transform="translate(770.3 797.5) scale(0.52 1)" font-size="42" text-anchor="middle" letter-spacing="5">30</text>
<text transform="translate(829.3 797.5) scale(0.52 1)" font-size="42" text-anchor="middle" letter-spacing="5">29</text>
<text transform="translate(1861.3 881.2) scale(0.52 1)" font-size="42" text-anchor="middle" letter-spacing="5">43</text>
<text transform="translate(1920.3 881.2) scale(0.52 1)" font-size="42" text-anchor="middle" letter-spacing="5">42</text>
</g>
<g id="wm" opacity="0.295" fill="#1e1e1e" stroke="#1e1e1e" font-family="'Liberation Sans',sans-serif" font-weight="bold">
<title>HÜTER</title>
<defs>
<clipPath id="cub"><rect x="760" y="726.7" width="230" height="230"/></clipPath>
<clipPath id="cud"><rect x="760" y="640" width="230" height="68"/></clipPath>
</defs>
<g stroke-width="27.2" stroke-linejoin="miter" font-size="400">
<text transform="translate(566.6 904.6) scale(0.659 0.615)">H</text>
<g clip-path="url(#cub)"><text transform="translate(778.2 904.6) scale(0.6493 0.615)">Ü</text></g>
<g clip-path="url(#cud)"><text stroke="none" transform="translate(701.9 895.8) scale(1.1757 0.6535)">Ü</text></g>
<text transform="translate(988.3 904.6) scale(0.6432 0.615)">T</text>
<text transform="translate(1168.2 904.6) scale(0.6047 0.615)">E</text>
<text transform="translate(1351.1 904.6) scale(0.63 0.615)">R</text>
</g>
<g stroke="#fff" stroke-width="8" stroke-linejoin="miter" paint-order="stroke">
<path fill="#1e1e1e" d="M1428.2,719.7 C1431,690 1446,664 1469.2,648 L1533.7,648 L1516.5,667.9 L1495.7,667.9 C1473,678 1458,698 1454.2,719.7 Z"/>
<path fill="#f00000" d="M1454.2,745.1 C1457,712 1472,688 1495.7,672.5 L1560.3,672.5 L1546.4,688 L1520.5,688 C1498,700 1483,720 1479.6,745.1 Z"/>
<path fill="#ffff00" d="M1477.8,768.2 C1481,735 1497,708 1519.9,692.6 L1585.6,692.6 C1565,715 1556,740 1553.3,768.2 Z"/>
</g>

</g>
</svg>
</body></html>
